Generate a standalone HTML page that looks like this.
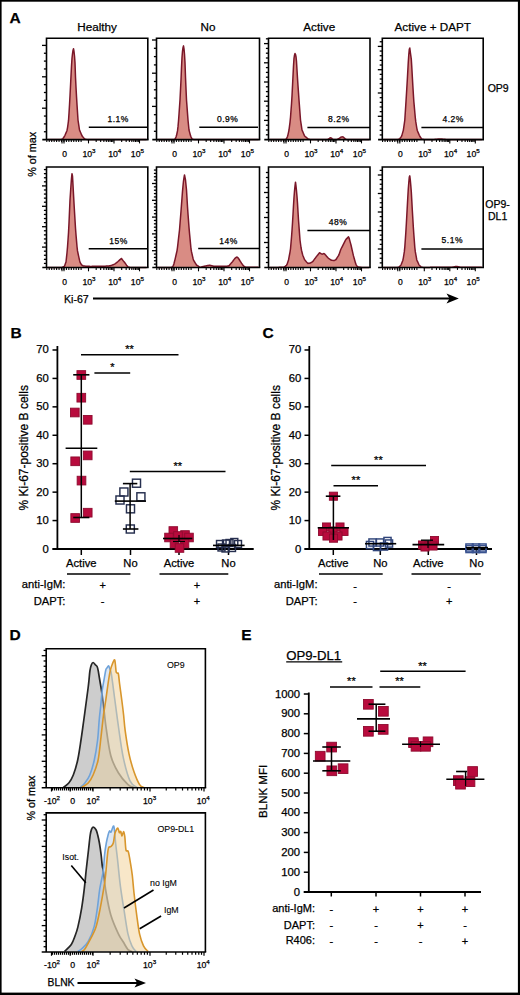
<!DOCTYPE html>
<html><head><meta charset="utf-8"><style>
html,body{margin:0;padding:0;background:#fff;}
svg{display:block;}
text{font-family:"Liberation Sans", sans-serif;fill:#000;stroke:#000;stroke-width:0.25px;}
</style></head><body>
<svg width="520" height="995" viewBox="0 0 520 995">
<rect x="0" y="0" width="520" height="995" fill="#fff"/>
<rect x="0" y="0" width="520" height="1.7" fill="#000"/>
<rect x="0" y="0" width="1.6" height="995" fill="#000"/>
<rect x="517.9" y="0" width="2.1" height="995" fill="#000"/>
<rect x="0" y="992.6" width="520" height="2.4" fill="#000"/>
<text x="9.50" y="22.60" font-size="15.5" text-anchor="start" font-weight="bold" >A</text>
<text x="10.60" y="337.60" font-size="15.5" text-anchor="start" font-weight="bold" >B</text>
<text x="262.50" y="338.20" font-size="15.5" text-anchor="start" font-weight="bold" >C</text>
<text x="9.60" y="639.60" font-size="15.5" text-anchor="start" font-weight="bold" >D</text>
<text x="241.20" y="639.60" font-size="15.5" text-anchor="start" font-weight="bold" >E</text>
<text x="97.15" y="30.90" font-size="11.7" text-anchor="middle" font-weight="normal" >Healthy</text>
<text x="208.00" y="30.90" font-size="11.7" text-anchor="middle" font-weight="normal" >No</text>
<text x="319.25" y="30.90" font-size="11.7" text-anchor="middle" font-weight="normal" >Active</text>
<text x="432.75" y="30.90" font-size="11.7" text-anchor="middle" font-weight="normal" >Active + DAPT</text>
<path d="M47.50,139.50 L48.00,139.50 L48.50,139.50 L49.00,139.50 L49.50,139.50 L50.00,139.50 L50.50,139.50 L51.00,139.50 L51.50,139.50 L52.00,139.50 L52.50,139.50 L53.00,139.50 L53.50,139.50 L54.00,139.50 L54.50,139.50 L55.00,139.50 L55.50,139.50 L56.00,139.50 L56.50,139.50 L57.00,139.50 L57.50,139.50 L58.00,139.50 L58.50,139.50 L59.00,139.50 L59.50,139.50 L60.00,139.50 L60.50,139.50 L61.00,139.38 L61.50,139.26 L62.00,139.14 L62.50,139.02 L63.00,138.43 L63.50,137.71 L64.00,137.00 L64.50,136.29 L65.00,135.28 L65.50,134.08 L66.00,132.88 L66.50,131.68 L67.00,130.48 L67.50,127.86 L68.00,124.29 L68.50,120.71 L69.00,113.33 L69.50,105.00 L70.00,96.00 L70.50,86.00 L71.00,76.00 L71.50,66.00 L72.00,58.22 L72.50,53.78 L73.00,50.37 L73.50,48.74 L74.00,51.46 L74.50,56.00 L75.00,62.86 L75.50,77.14 L76.00,87.27 L76.50,96.36 L77.00,104.62 L77.50,112.31 L78.00,120.00 L78.50,123.33 L79.00,126.67 L79.50,130.00 L80.00,131.15 L80.50,132.31 L81.00,133.46 L81.50,134.62 L82.00,135.77 L82.50,136.46 L83.00,137.04 L83.50,137.62 L84.00,138.19 L84.50,138.77 L85.00,139.07 L85.50,139.17 L86.00,139.28 L86.50,139.39 L87.00,139.50 L87.50,139.50 L88.00,139.50 L88.50,139.50 L89.00,139.50 L89.50,139.50 L90.00,139.50 L90.50,139.50 L91.00,139.50 L91.50,139.50 L92.00,139.50 L92.50,139.50 L93.00,139.50 L93.50,139.50 L94.00,139.50 L94.50,139.50 L95.00,139.50 L95.50,139.50 L96.00,139.50 L96.50,139.50 L97.00,139.50 L97.50,139.50 L98.00,139.50 L98.50,139.50 L99.00,139.50 L99.50,139.50 L100.00,139.50 L100.50,139.50 L101.00,139.50 L101.50,139.50 L102.00,139.50 L102.50,139.50 L103.00,139.50 L103.50,139.50 L104.00,139.50 L104.50,139.50 L105.00,139.50 L105.50,139.50 L106.00,139.50 L106.50,139.50 L107.00,139.50 L107.50,139.50 L108.00,139.50 L108.50,139.50 L109.00,139.50 L109.50,139.50 L110.00,139.50 L110.50,139.50 L111.00,139.50 L111.50,139.50 L112.00,139.50 L112.50,139.50 L113.00,139.50 L113.50,139.50 L114.00,139.50 L114.50,139.50 L115.00,139.50 L115.50,139.50 L116.00,139.50 L116.50,139.50 L117.00,139.50 L117.50,139.50 L118.00,139.50 L118.50,139.50 L119.00,139.50 L119.50,139.50 L120.00,139.50 L120.50,139.50 L121.00,139.50 L121.50,139.50 L122.00,139.50 L122.50,139.50 L123.00,139.50 L123.50,139.50 L124.00,139.50 L124.50,139.50 L125.00,139.50 L125.50,139.50 L126.00,139.50 L126.50,139.50 L127.00,139.50 L127.50,139.50 L128.00,139.50 L128.50,139.50 L129.00,139.50 L129.50,139.50 L130.00,139.50 L130.50,139.50 L131.00,139.50 L131.50,139.50 L132.00,139.50 L132.50,139.50 L133.00,139.50 L133.50,139.50 L134.00,139.50 L134.50,139.50 L135.00,139.50 L135.50,139.50 L136.00,139.50 L136.50,139.50 L137.00,139.50 L137.50,139.50 L138.00,139.50 L138.50,139.50 L139.00,139.50 L139.50,139.50 L140.00,139.50 L140.50,139.50 L141.00,139.50 L141.50,139.50 L142.00,139.50 L142.50,139.50 L143.00,139.50 L143.50,139.50 L144.00,139.50 L144.50,139.50 L145.00,139.50 L145.50,139.50 L146.00,139.50 L146.50,139.50 L146.80,139.60 L47.50,139.60 Z" fill="#d98c84" stroke="none"/>
<path d="M47.50,139.50 L48.00,139.50 L48.50,139.50 L49.00,139.50 L49.50,139.50 L50.00,139.50 L50.50,139.50 L51.00,139.50 L51.50,139.50 L52.00,139.50 L52.50,139.50 L53.00,139.50 L53.50,139.50 L54.00,139.50 L54.50,139.50 L55.00,139.50 L55.50,139.50 L56.00,139.50 L56.50,139.50 L57.00,139.50 L57.50,139.50 L58.00,139.50 L58.50,139.50 L59.00,139.50 L59.50,139.50 L60.00,139.50 L60.50,139.50 L61.00,139.38 L61.50,139.26 L62.00,139.14 L62.50,139.02 L63.00,138.43 L63.50,137.71 L64.00,137.00 L64.50,136.29 L65.00,135.28 L65.50,134.08 L66.00,132.88 L66.50,131.68 L67.00,130.48 L67.50,127.86 L68.00,124.29 L68.50,120.71 L69.00,113.33 L69.50,105.00 L70.00,96.00 L70.50,86.00 L71.00,76.00 L71.50,66.00 L72.00,58.22 L72.50,53.78 L73.00,50.37 L73.50,48.74 L74.00,51.46 L74.50,56.00 L75.00,62.86 L75.50,77.14 L76.00,87.27 L76.50,96.36 L77.00,104.62 L77.50,112.31 L78.00,120.00 L78.50,123.33 L79.00,126.67 L79.50,130.00 L80.00,131.15 L80.50,132.31 L81.00,133.46 L81.50,134.62 L82.00,135.77 L82.50,136.46 L83.00,137.04 L83.50,137.62 L84.00,138.19 L84.50,138.77 L85.00,139.07 L85.50,139.17 L86.00,139.28 L86.50,139.39 L87.00,139.50 L87.50,139.50 L88.00,139.50 L88.50,139.50 L89.00,139.50 L89.50,139.50 L90.00,139.50 L90.50,139.50 L91.00,139.50 L91.50,139.50 L92.00,139.50 L92.50,139.50 L93.00,139.50 L93.50,139.50 L94.00,139.50 L94.50,139.50 L95.00,139.50 L95.50,139.50 L96.00,139.50 L96.50,139.50 L97.00,139.50 L97.50,139.50 L98.00,139.50 L98.50,139.50 L99.00,139.50 L99.50,139.50 L100.00,139.50 L100.50,139.50 L101.00,139.50 L101.50,139.50 L102.00,139.50 L102.50,139.50 L103.00,139.50 L103.50,139.50 L104.00,139.50 L104.50,139.50 L105.00,139.50 L105.50,139.50 L106.00,139.50 L106.50,139.50 L107.00,139.50 L107.50,139.50 L108.00,139.50 L108.50,139.50 L109.00,139.50 L109.50,139.50 L110.00,139.50 L110.50,139.50 L111.00,139.50 L111.50,139.50 L112.00,139.50 L112.50,139.50 L113.00,139.50 L113.50,139.50 L114.00,139.50 L114.50,139.50 L115.00,139.50 L115.50,139.50 L116.00,139.50 L116.50,139.50 L117.00,139.50 L117.50,139.50 L118.00,139.50 L118.50,139.50 L119.00,139.50 L119.50,139.50 L120.00,139.50 L120.50,139.50 L121.00,139.50 L121.50,139.50 L122.00,139.50 L122.50,139.50 L123.00,139.50 L123.50,139.50 L124.00,139.50 L124.50,139.50 L125.00,139.50 L125.50,139.50 L126.00,139.50 L126.50,139.50 L127.00,139.50 L127.50,139.50 L128.00,139.50 L128.50,139.50 L129.00,139.50 L129.50,139.50 L130.00,139.50 L130.50,139.50 L131.00,139.50 L131.50,139.50 L132.00,139.50 L132.50,139.50 L133.00,139.50 L133.50,139.50 L134.00,139.50 L134.50,139.50 L135.00,139.50 L135.50,139.50 L136.00,139.50 L136.50,139.50 L137.00,139.50 L137.50,139.50 L138.00,139.50 L138.50,139.50 L139.00,139.50 L139.50,139.50 L140.00,139.50 L140.50,139.50 L141.00,139.50 L141.50,139.50 L142.00,139.50 L142.50,139.50 L143.00,139.50 L143.50,139.50 L144.00,139.50 L144.50,139.50 L145.00,139.50 L145.50,139.50 L146.00,139.50 L146.50,139.50" fill="none" stroke="#7a1729" stroke-width="1.5" stroke-linejoin="round"/>
<path d="M46.50,139.60 L46.50,38.20 L147.80,38.20 L147.80,139.60" fill="none" stroke="#000" stroke-width="1.6"/>
<line x1="42.30" y1="139.60" x2="148.60" y2="139.60" stroke="#000" stroke-width="1.6"/>
<path d="M157.50,139.50 L158.00,139.50 L158.50,139.50 L159.00,139.50 L159.50,139.50 L160.00,139.50 L160.50,139.50 L161.00,139.50 L161.50,139.50 L162.00,139.50 L162.50,139.50 L163.00,139.50 L163.50,139.50 L164.00,139.50 L164.50,139.50 L165.00,139.50 L165.50,139.50 L166.00,139.50 L166.50,139.50 L167.00,139.50 L167.50,139.50 L168.00,139.50 L168.50,139.50 L169.00,139.50 L169.50,139.50 L170.00,139.50 L170.50,139.50 L171.00,139.50 L171.50,139.50 L172.00,139.50 L172.50,139.50 L173.00,139.50 L173.50,139.50 L174.00,139.35 L174.50,139.21 L175.00,139.06 L175.50,138.25 L176.00,137.00 L176.50,135.54 L177.00,133.23 L177.50,130.92 L178.00,126.67 L178.50,121.11 L179.00,114.29 L179.50,107.14 L180.00,100.00 L180.50,90.00 L181.00,80.00 L181.50,67.50 L182.00,57.50 L182.50,51.25 L183.00,47.65 L183.50,45.89 L184.00,48.83 L184.50,54.29 L185.00,62.86 L185.50,77.14 L186.00,88.89 L186.50,100.00 L187.00,106.67 L187.50,113.33 L188.00,120.00 L188.50,125.00 L189.00,130.00 L189.50,131.88 L190.00,133.75 L190.50,135.63 L191.00,136.80 L191.50,137.80 L192.00,138.80 L192.50,139.11 L193.00,139.24 L193.50,139.37 L194.00,139.50 L194.50,139.50 L195.00,139.50 L195.50,139.50 L196.00,139.50 L196.50,139.50 L197.00,139.50 L197.50,139.50 L198.00,139.50 L198.50,139.50 L199.00,139.50 L199.50,139.50 L200.00,139.50 L200.50,139.50 L201.00,139.50 L201.50,139.50 L202.00,139.50 L202.50,139.50 L203.00,139.50 L203.50,139.50 L204.00,139.50 L204.50,139.50 L205.00,139.50 L205.50,139.50 L206.00,139.50 L206.50,139.50 L207.00,139.50 L207.50,139.50 L208.00,139.50 L208.50,139.50 L209.00,139.50 L209.50,139.50 L210.00,139.50 L210.50,139.50 L211.00,139.50 L211.50,139.50 L212.00,139.50 L212.50,139.50 L213.00,139.50 L213.50,139.50 L214.00,139.50 L214.50,139.50 L215.00,139.50 L215.50,139.50 L216.00,139.50 L216.50,139.50 L217.00,139.50 L217.50,139.50 L218.00,139.50 L218.50,139.50 L219.00,139.50 L219.50,139.50 L220.00,139.50 L220.50,139.50 L221.00,139.50 L221.50,139.50 L222.00,139.50 L222.50,139.50 L223.00,139.50 L223.50,139.50 L224.00,139.50 L224.50,139.50 L225.00,139.50 L225.50,139.50 L226.00,139.50 L226.50,139.50 L227.00,139.50 L227.50,139.50 L228.00,139.50 L228.50,139.50 L229.00,139.50 L229.50,139.50 L230.00,139.50 L230.50,139.50 L231.00,139.50 L231.50,139.50 L232.00,139.50 L232.50,139.50 L233.00,139.50 L233.50,139.50 L234.00,139.50 L234.50,139.50 L235.00,139.50 L235.50,139.50 L236.00,139.50 L236.50,139.50 L237.00,139.50 L237.50,139.50 L238.00,139.50 L238.50,139.50 L239.00,139.50 L239.50,139.50 L240.00,139.50 L240.50,139.50 L241.00,139.50 L241.50,139.50 L242.00,139.50 L242.50,139.50 L243.00,139.50 L243.50,139.50 L244.00,139.50 L244.50,139.50 L245.00,139.50 L245.50,139.50 L246.00,139.50 L246.50,139.50 L247.00,139.50 L247.50,139.50 L248.00,139.50 L248.50,139.50 L249.00,139.50 L249.50,139.50 L250.00,139.50 L250.50,139.50 L251.00,139.50 L251.50,139.50 L252.00,139.50 L252.50,139.50 L253.00,139.50 L253.50,139.50 L254.00,139.50 L254.50,139.50 L255.00,139.50 L255.50,139.50 L256.00,139.50 L256.50,139.50 L257.00,139.50 L257.50,139.50 L258.00,139.50 L258.50,139.50 L258.50,139.60 L157.50,139.60 Z" fill="#d98c84" stroke="none"/>
<path d="M157.50,139.50 L158.00,139.50 L158.50,139.50 L159.00,139.50 L159.50,139.50 L160.00,139.50 L160.50,139.50 L161.00,139.50 L161.50,139.50 L162.00,139.50 L162.50,139.50 L163.00,139.50 L163.50,139.50 L164.00,139.50 L164.50,139.50 L165.00,139.50 L165.50,139.50 L166.00,139.50 L166.50,139.50 L167.00,139.50 L167.50,139.50 L168.00,139.50 L168.50,139.50 L169.00,139.50 L169.50,139.50 L170.00,139.50 L170.50,139.50 L171.00,139.50 L171.50,139.50 L172.00,139.50 L172.50,139.50 L173.00,139.50 L173.50,139.50 L174.00,139.35 L174.50,139.21 L175.00,139.06 L175.50,138.25 L176.00,137.00 L176.50,135.54 L177.00,133.23 L177.50,130.92 L178.00,126.67 L178.50,121.11 L179.00,114.29 L179.50,107.14 L180.00,100.00 L180.50,90.00 L181.00,80.00 L181.50,67.50 L182.00,57.50 L182.50,51.25 L183.00,47.65 L183.50,45.89 L184.00,48.83 L184.50,54.29 L185.00,62.86 L185.50,77.14 L186.00,88.89 L186.50,100.00 L187.00,106.67 L187.50,113.33 L188.00,120.00 L188.50,125.00 L189.00,130.00 L189.50,131.88 L190.00,133.75 L190.50,135.63 L191.00,136.80 L191.50,137.80 L192.00,138.80 L192.50,139.11 L193.00,139.24 L193.50,139.37 L194.00,139.50 L194.50,139.50 L195.00,139.50 L195.50,139.50 L196.00,139.50 L196.50,139.50 L197.00,139.50 L197.50,139.50 L198.00,139.50 L198.50,139.50 L199.00,139.50 L199.50,139.50 L200.00,139.50 L200.50,139.50 L201.00,139.50 L201.50,139.50 L202.00,139.50 L202.50,139.50 L203.00,139.50 L203.50,139.50 L204.00,139.50 L204.50,139.50 L205.00,139.50 L205.50,139.50 L206.00,139.50 L206.50,139.50 L207.00,139.50 L207.50,139.50 L208.00,139.50 L208.50,139.50 L209.00,139.50 L209.50,139.50 L210.00,139.50 L210.50,139.50 L211.00,139.50 L211.50,139.50 L212.00,139.50 L212.50,139.50 L213.00,139.50 L213.50,139.50 L214.00,139.50 L214.50,139.50 L215.00,139.50 L215.50,139.50 L216.00,139.50 L216.50,139.50 L217.00,139.50 L217.50,139.50 L218.00,139.50 L218.50,139.50 L219.00,139.50 L219.50,139.50 L220.00,139.50 L220.50,139.50 L221.00,139.50 L221.50,139.50 L222.00,139.50 L222.50,139.50 L223.00,139.50 L223.50,139.50 L224.00,139.50 L224.50,139.50 L225.00,139.50 L225.50,139.50 L226.00,139.50 L226.50,139.50 L227.00,139.50 L227.50,139.50 L228.00,139.50 L228.50,139.50 L229.00,139.50 L229.50,139.50 L230.00,139.50 L230.50,139.50 L231.00,139.50 L231.50,139.50 L232.00,139.50 L232.50,139.50 L233.00,139.50 L233.50,139.50 L234.00,139.50 L234.50,139.50 L235.00,139.50 L235.50,139.50 L236.00,139.50 L236.50,139.50 L237.00,139.50 L237.50,139.50 L238.00,139.50 L238.50,139.50 L239.00,139.50 L239.50,139.50 L240.00,139.50 L240.50,139.50 L241.00,139.50 L241.50,139.50 L242.00,139.50 L242.50,139.50 L243.00,139.50 L243.50,139.50 L244.00,139.50 L244.50,139.50 L245.00,139.50 L245.50,139.50 L246.00,139.50 L246.50,139.50 L247.00,139.50 L247.50,139.50 L248.00,139.50 L248.50,139.50 L249.00,139.50 L249.50,139.50 L250.00,139.50 L250.50,139.50 L251.00,139.50 L251.50,139.50 L252.00,139.50 L252.50,139.50 L253.00,139.50 L253.50,139.50 L254.00,139.50 L254.50,139.50 L255.00,139.50 L255.50,139.50 L256.00,139.50 L256.50,139.50 L257.00,139.50 L257.50,139.50 L258.00,139.50 L258.50,139.50" fill="none" stroke="#7a1729" stroke-width="1.5" stroke-linejoin="round"/>
<path d="M156.50,139.60 L156.50,38.20 L259.50,38.20 L259.50,139.60" fill="none" stroke="#000" stroke-width="1.6"/>
<line x1="152.30" y1="139.60" x2="260.30" y2="139.60" stroke="#000" stroke-width="1.6"/>
<path d="M269.50,139.50 L270.00,139.50 L270.50,139.50 L271.00,139.50 L271.50,139.50 L272.00,139.50 L272.50,139.50 L273.00,139.50 L273.50,139.50 L274.00,139.50 L274.50,139.50 L275.00,139.50 L275.50,139.50 L276.00,139.50 L276.50,139.50 L277.00,139.50 L277.50,139.50 L278.00,139.50 L278.50,139.50 L279.00,139.50 L279.50,139.50 L280.00,139.50 L280.50,139.50 L281.00,139.50 L281.50,139.50 L282.00,139.50 L282.50,139.50 L283.00,139.50 L283.50,139.50 L284.00,139.50 L284.50,139.50 L285.00,139.37 L285.50,139.24 L286.00,139.11 L286.50,138.77 L287.00,137.62 L287.50,136.46 L288.00,134.62 L288.50,132.31 L289.00,130.00 L289.50,126.15 L290.00,122.31 L290.50,117.33 L291.00,110.67 L291.50,104.00 L292.00,96.00 L292.50,86.00 L293.00,76.00 L293.50,66.00 L294.00,58.40 L294.50,55.10 L295.00,53.49 L295.50,54.43 L296.00,56.67 L296.50,61.67 L297.00,70.00 L297.50,78.33 L298.00,85.71 L298.50,92.86 L299.00,100.00 L299.50,106.67 L300.00,113.33 L300.50,120.00 L301.00,123.33 L301.50,126.67 L302.00,130.00 L302.50,131.15 L303.00,132.31 L303.50,133.46 L304.00,134.62 L304.50,135.77 L305.00,136.33 L305.50,136.75 L306.00,137.17 L306.50,137.58 L307.00,138.00 L307.50,138.42 L308.00,138.83 L308.50,139.07 L309.00,139.17 L309.50,139.28 L310.00,139.39 L310.50,139.50 L311.00,139.50 L311.50,139.49 L312.00,139.49 L312.50,139.49 L313.00,139.49 L313.50,139.48 L314.00,139.48 L314.50,139.48 L315.00,139.47 L315.50,139.47 L316.00,139.47 L316.50,139.47 L317.00,139.46 L317.50,139.46 L318.00,139.46 L318.50,139.45 L319.00,139.45 L319.50,139.45 L320.00,139.45 L320.50,139.44 L321.00,139.44 L321.50,139.44 L322.00,139.43 L322.50,139.43 L323.00,139.43 L323.50,139.42 L324.00,139.42 L324.50,139.42 L325.00,139.42 L325.50,139.41 L326.00,139.41 L326.50,139.41 L327.00,139.40 L327.50,139.40 L328.00,139.29 L328.50,139.02 L329.00,138.72 L329.50,138.31 L330.00,137.95 L330.50,137.83 L331.00,137.90 L331.50,138.15 L332.00,138.56 L332.50,138.91 L333.00,139.18 L333.50,139.40 L334.00,139.40 L334.50,139.40 L335.00,139.40 L335.50,139.40 L336.00,139.40 L336.50,139.40 L337.00,139.40 L337.50,139.29 L338.00,139.03 L338.50,138.76 L339.00,138.50 L339.50,138.20 L340.00,137.84 L340.50,137.48 L341.00,137.12 L341.50,136.98 L342.00,136.87 L342.50,136.86 L343.00,137.00 L343.50,137.26 L344.00,137.71 L344.50,138.16 L345.00,138.54 L345.50,138.87 L346.00,139.20 L346.50,139.40 L347.00,139.40 L347.50,139.40 L348.00,139.40 L348.50,139.40 L349.00,139.40 L349.50,139.40 L350.00,139.40 L350.50,139.40 L351.00,139.40 L351.50,139.40 L352.00,139.40 L352.50,139.40 L353.00,139.40 L353.50,139.40 L354.00,139.40 L354.50,139.40 L355.00,139.40 L355.50,139.40 L356.00,139.40 L356.50,139.40 L357.00,139.40 L357.50,139.40 L358.00,139.40 L358.50,139.40 L359.00,139.40 L359.50,139.40 L360.00,139.40 L360.50,139.40 L361.00,139.40 L361.50,139.40 L362.00,139.40 L362.50,139.40 L363.00,139.40 L363.50,139.40 L364.00,139.40 L364.50,139.40 L365.00,139.40 L365.50,139.40 L366.00,139.40 L366.50,139.40 L367.00,139.40 L367.50,139.40 L368.00,139.40 L368.50,139.40 L369.00,139.40 L369.00,139.60 L269.50,139.60 Z" fill="#d98c84" stroke="none"/>
<path d="M269.50,139.50 L270.00,139.50 L270.50,139.50 L271.00,139.50 L271.50,139.50 L272.00,139.50 L272.50,139.50 L273.00,139.50 L273.50,139.50 L274.00,139.50 L274.50,139.50 L275.00,139.50 L275.50,139.50 L276.00,139.50 L276.50,139.50 L277.00,139.50 L277.50,139.50 L278.00,139.50 L278.50,139.50 L279.00,139.50 L279.50,139.50 L280.00,139.50 L280.50,139.50 L281.00,139.50 L281.50,139.50 L282.00,139.50 L282.50,139.50 L283.00,139.50 L283.50,139.50 L284.00,139.50 L284.50,139.50 L285.00,139.37 L285.50,139.24 L286.00,139.11 L286.50,138.77 L287.00,137.62 L287.50,136.46 L288.00,134.62 L288.50,132.31 L289.00,130.00 L289.50,126.15 L290.00,122.31 L290.50,117.33 L291.00,110.67 L291.50,104.00 L292.00,96.00 L292.50,86.00 L293.00,76.00 L293.50,66.00 L294.00,58.40 L294.50,55.10 L295.00,53.49 L295.50,54.43 L296.00,56.67 L296.50,61.67 L297.00,70.00 L297.50,78.33 L298.00,85.71 L298.50,92.86 L299.00,100.00 L299.50,106.67 L300.00,113.33 L300.50,120.00 L301.00,123.33 L301.50,126.67 L302.00,130.00 L302.50,131.15 L303.00,132.31 L303.50,133.46 L304.00,134.62 L304.50,135.77 L305.00,136.33 L305.50,136.75 L306.00,137.17 L306.50,137.58 L307.00,138.00 L307.50,138.42 L308.00,138.83 L308.50,139.07 L309.00,139.17 L309.50,139.28 L310.00,139.39 L310.50,139.50 L311.00,139.50 L311.50,139.49 L312.00,139.49 L312.50,139.49 L313.00,139.49 L313.50,139.48 L314.00,139.48 L314.50,139.48 L315.00,139.47 L315.50,139.47 L316.00,139.47 L316.50,139.47 L317.00,139.46 L317.50,139.46 L318.00,139.46 L318.50,139.45 L319.00,139.45 L319.50,139.45 L320.00,139.45 L320.50,139.44 L321.00,139.44 L321.50,139.44 L322.00,139.43 L322.50,139.43 L323.00,139.43 L323.50,139.42 L324.00,139.42 L324.50,139.42 L325.00,139.42 L325.50,139.41 L326.00,139.41 L326.50,139.41 L327.00,139.40 L327.50,139.40 L328.00,139.29 L328.50,139.02 L329.00,138.72 L329.50,138.31 L330.00,137.95 L330.50,137.83 L331.00,137.90 L331.50,138.15 L332.00,138.56 L332.50,138.91 L333.00,139.18 L333.50,139.40 L334.00,139.40 L334.50,139.40 L335.00,139.40 L335.50,139.40 L336.00,139.40 L336.50,139.40 L337.00,139.40 L337.50,139.29 L338.00,139.03 L338.50,138.76 L339.00,138.50 L339.50,138.20 L340.00,137.84 L340.50,137.48 L341.00,137.12 L341.50,136.98 L342.00,136.87 L342.50,136.86 L343.00,137.00 L343.50,137.26 L344.00,137.71 L344.50,138.16 L345.00,138.54 L345.50,138.87 L346.00,139.20 L346.50,139.40 L347.00,139.40 L347.50,139.40 L348.00,139.40 L348.50,139.40 L349.00,139.40 L349.50,139.40 L350.00,139.40 L350.50,139.40 L351.00,139.40 L351.50,139.40 L352.00,139.40 L352.50,139.40 L353.00,139.40 L353.50,139.40 L354.00,139.40 L354.50,139.40 L355.00,139.40 L355.50,139.40 L356.00,139.40 L356.50,139.40 L357.00,139.40 L357.50,139.40 L358.00,139.40 L358.50,139.40 L359.00,139.40 L359.50,139.40 L360.00,139.40 L360.50,139.40 L361.00,139.40 L361.50,139.40 L362.00,139.40 L362.50,139.40 L363.00,139.40 L363.50,139.40 L364.00,139.40 L364.50,139.40 L365.00,139.40 L365.50,139.40 L366.00,139.40 L366.50,139.40 L367.00,139.40 L367.50,139.40 L368.00,139.40 L368.50,139.40 L369.00,139.40" fill="none" stroke="#7a1729" stroke-width="1.5" stroke-linejoin="round"/>
<path d="M268.50,139.60 L268.50,38.20 L370.00,38.20 L370.00,139.60" fill="none" stroke="#000" stroke-width="1.6"/>
<line x1="264.30" y1="139.60" x2="370.80" y2="139.60" stroke="#000" stroke-width="1.6"/>
<path d="M383.30,139.50 L383.80,139.50 L384.30,139.50 L384.80,139.50 L385.30,139.50 L385.80,139.50 L386.30,139.50 L386.80,139.50 L387.30,139.50 L387.80,139.50 L388.30,139.50 L388.80,139.50 L389.30,139.50 L389.80,139.50 L390.30,139.50 L390.80,139.50 L391.30,139.50 L391.80,139.50 L392.30,139.50 L392.80,139.50 L393.30,139.50 L393.80,139.50 L394.30,139.50 L394.80,139.50 L395.30,139.50 L395.80,139.50 L396.30,139.50 L396.80,139.50 L397.30,139.50 L397.80,139.43 L398.30,139.31 L398.80,139.19 L399.30,139.07 L399.80,138.71 L400.30,138.00 L400.80,137.29 L401.30,136.57 L401.80,135.65 L402.30,133.88 L402.80,132.12 L403.30,130.35 L403.80,127.14 L404.30,123.57 L404.80,120.00 L405.30,112.31 L405.80,104.62 L406.30,96.67 L406.80,88.33 L407.30,80.00 L407.80,70.91 L408.30,61.82 L408.80,54.67 L409.30,49.20 L409.80,48.00 L410.30,52.00 L410.80,55.64 L411.30,59.27 L411.80,67.27 L412.30,76.36 L412.80,85.00 L413.30,93.33 L413.80,101.11 L414.30,106.67 L414.80,112.22 L415.30,117.78 L415.80,121.88 L416.30,125.00 L416.80,128.12 L417.30,130.48 L417.80,131.68 L418.30,132.88 L418.80,134.08 L419.30,135.28 L419.80,136.29 L420.30,137.00 L420.80,137.71 L421.30,138.43 L421.80,139.02 L422.30,139.13 L422.80,139.24 L423.30,139.35 L423.80,139.46 L424.30,139.50 L424.80,139.49 L425.30,139.49 L425.80,139.48 L426.30,139.48 L426.80,139.47 L427.30,139.47 L427.80,139.46 L428.30,139.46 L428.80,139.45 L429.30,139.45 L429.80,139.44 L430.30,139.44 L430.80,139.43 L431.30,139.43 L431.80,139.42 L432.30,139.42 L432.80,139.41 L433.30,139.41 L433.80,139.40 L434.30,139.39 L434.80,139.36 L435.30,139.34 L435.80,139.31 L436.30,139.29 L436.80,139.22 L437.30,139.15 L437.80,139.07 L438.30,139.00 L438.80,138.96 L439.30,138.93 L439.80,138.91 L440.30,138.91 L440.80,138.94 L441.30,138.96 L441.80,139.01 L442.30,139.09 L442.80,139.16 L443.30,139.24 L443.80,139.29 L444.30,139.32 L444.80,139.34 L445.30,139.37 L445.80,139.39 L446.30,139.40 L446.80,139.40 L447.30,139.40 L447.80,139.40 L448.30,139.40 L448.80,139.40 L449.30,139.40 L449.80,139.40 L450.30,139.40 L450.80,139.40 L451.30,139.40 L451.80,139.40 L452.30,139.40 L452.80,139.40 L453.30,139.40 L453.80,139.40 L454.30,139.40 L454.80,139.40 L455.30,139.40 L455.80,139.40 L456.30,139.40 L456.80,139.40 L457.30,139.40 L457.80,139.40 L458.30,139.40 L458.80,139.40 L459.30,139.40 L459.80,139.40 L460.30,139.40 L460.80,139.40 L461.30,139.40 L461.80,139.40 L462.30,139.40 L462.80,139.40 L463.30,139.40 L463.80,139.40 L464.30,139.40 L464.80,139.40 L465.30,139.40 L465.80,139.40 L466.30,139.40 L466.80,139.40 L467.30,139.40 L467.80,139.40 L468.30,139.40 L468.80,139.40 L469.30,139.40 L469.80,139.40 L470.30,139.40 L470.80,139.40 L471.30,139.40 L471.80,139.40 L472.30,139.40 L472.80,139.40 L473.30,139.40 L473.80,139.40 L474.30,139.40 L474.80,139.40 L475.30,139.40 L475.80,139.40 L476.30,139.40 L476.80,139.40 L477.30,139.40 L477.80,139.40 L478.30,139.40 L478.80,139.40 L479.30,139.40 L479.80,139.40 L480.30,139.40 L480.80,139.40 L481.30,139.40 L481.80,139.40 L482.20,139.60 L383.30,139.60 Z" fill="#d98c84" stroke="none"/>
<path d="M383.30,139.50 L383.80,139.50 L384.30,139.50 L384.80,139.50 L385.30,139.50 L385.80,139.50 L386.30,139.50 L386.80,139.50 L387.30,139.50 L387.80,139.50 L388.30,139.50 L388.80,139.50 L389.30,139.50 L389.80,139.50 L390.30,139.50 L390.80,139.50 L391.30,139.50 L391.80,139.50 L392.30,139.50 L392.80,139.50 L393.30,139.50 L393.80,139.50 L394.30,139.50 L394.80,139.50 L395.30,139.50 L395.80,139.50 L396.30,139.50 L396.80,139.50 L397.30,139.50 L397.80,139.43 L398.30,139.31 L398.80,139.19 L399.30,139.07 L399.80,138.71 L400.30,138.00 L400.80,137.29 L401.30,136.57 L401.80,135.65 L402.30,133.88 L402.80,132.12 L403.30,130.35 L403.80,127.14 L404.30,123.57 L404.80,120.00 L405.30,112.31 L405.80,104.62 L406.30,96.67 L406.80,88.33 L407.30,80.00 L407.80,70.91 L408.30,61.82 L408.80,54.67 L409.30,49.20 L409.80,48.00 L410.30,52.00 L410.80,55.64 L411.30,59.27 L411.80,67.27 L412.30,76.36 L412.80,85.00 L413.30,93.33 L413.80,101.11 L414.30,106.67 L414.80,112.22 L415.30,117.78 L415.80,121.88 L416.30,125.00 L416.80,128.12 L417.30,130.48 L417.80,131.68 L418.30,132.88 L418.80,134.08 L419.30,135.28 L419.80,136.29 L420.30,137.00 L420.80,137.71 L421.30,138.43 L421.80,139.02 L422.30,139.13 L422.80,139.24 L423.30,139.35 L423.80,139.46 L424.30,139.50 L424.80,139.49 L425.30,139.49 L425.80,139.48 L426.30,139.48 L426.80,139.47 L427.30,139.47 L427.80,139.46 L428.30,139.46 L428.80,139.45 L429.30,139.45 L429.80,139.44 L430.30,139.44 L430.80,139.43 L431.30,139.43 L431.80,139.42 L432.30,139.42 L432.80,139.41 L433.30,139.41 L433.80,139.40 L434.30,139.39 L434.80,139.36 L435.30,139.34 L435.80,139.31 L436.30,139.29 L436.80,139.22 L437.30,139.15 L437.80,139.07 L438.30,139.00 L438.80,138.96 L439.30,138.93 L439.80,138.91 L440.30,138.91 L440.80,138.94 L441.30,138.96 L441.80,139.01 L442.30,139.09 L442.80,139.16 L443.30,139.24 L443.80,139.29 L444.30,139.32 L444.80,139.34 L445.30,139.37 L445.80,139.39 L446.30,139.40 L446.80,139.40 L447.30,139.40 L447.80,139.40 L448.30,139.40 L448.80,139.40 L449.30,139.40 L449.80,139.40 L450.30,139.40 L450.80,139.40 L451.30,139.40 L451.80,139.40 L452.30,139.40 L452.80,139.40 L453.30,139.40 L453.80,139.40 L454.30,139.40 L454.80,139.40 L455.30,139.40 L455.80,139.40 L456.30,139.40 L456.80,139.40 L457.30,139.40 L457.80,139.40 L458.30,139.40 L458.80,139.40 L459.30,139.40 L459.80,139.40 L460.30,139.40 L460.80,139.40 L461.30,139.40 L461.80,139.40 L462.30,139.40 L462.80,139.40 L463.30,139.40 L463.80,139.40 L464.30,139.40 L464.80,139.40 L465.30,139.40 L465.80,139.40 L466.30,139.40 L466.80,139.40 L467.30,139.40 L467.80,139.40 L468.30,139.40 L468.80,139.40 L469.30,139.40 L469.80,139.40 L470.30,139.40 L470.80,139.40 L471.30,139.40 L471.80,139.40 L472.30,139.40 L472.80,139.40 L473.30,139.40 L473.80,139.40 L474.30,139.40 L474.80,139.40 L475.30,139.40 L475.80,139.40 L476.30,139.40 L476.80,139.40 L477.30,139.40 L477.80,139.40 L478.30,139.40 L478.80,139.40 L479.30,139.40 L479.80,139.40 L480.30,139.40 L480.80,139.40 L481.30,139.40 L481.80,139.40" fill="none" stroke="#7a1729" stroke-width="1.5" stroke-linejoin="round"/>
<path d="M382.30,139.60 L382.30,38.20 L483.20,38.20 L483.20,139.60" fill="none" stroke="#000" stroke-width="1.6"/>
<line x1="378.10" y1="139.60" x2="484.00" y2="139.60" stroke="#000" stroke-width="1.6"/>
<path d="M47.50,267.40 L48.00,267.40 L48.50,267.40 L49.00,267.40 L49.50,267.40 L50.00,267.40 L50.50,267.40 L51.00,267.40 L51.50,267.40 L52.00,267.40 L52.50,267.40 L53.00,267.40 L53.50,267.40 L54.00,267.40 L54.50,267.40 L55.00,267.40 L55.50,267.40 L56.00,267.40 L56.50,267.40 L57.00,267.40 L57.50,267.40 L58.00,267.40 L58.50,267.40 L59.00,267.40 L59.50,267.40 L60.00,267.40 L60.50,267.40 L61.00,267.40 L61.50,267.40 L62.00,267.40 L62.50,267.20 L63.00,267.01 L63.50,266.81 L64.00,266.62 L64.50,265.97 L65.00,264.65 L65.50,263.32 L66.00,262.00 L66.50,257.38 L67.00,252.77 L67.50,247.14 L68.00,240.00 L68.50,232.86 L69.00,223.08 L69.50,211.54 L70.00,200.00 L70.50,192.50 L71.00,185.00 L71.50,178.33 L72.00,173.64 L72.50,176.16 L73.00,185.00 L73.50,194.38 L74.00,203.33 L74.50,211.67 L75.00,220.00 L75.50,228.33 L76.00,234.71 L76.50,240.59 L77.00,246.47 L77.50,250.92 L78.00,253.23 L78.50,255.54 L79.00,257.85 L79.50,260.15 L80.00,262.18 L80.50,263.05 L81.00,263.93 L81.50,264.80 L82.00,265.12 L82.50,265.43 L83.00,265.75 L83.50,266.01 L84.00,266.04 L84.50,266.07 L85.00,266.10 L85.50,266.13 L86.00,266.16 L86.50,266.19 L87.00,266.22 L87.50,266.25 L88.00,266.28 L88.50,266.31 L89.00,266.34 L89.50,266.37 L90.00,266.40 L90.50,266.39 L91.00,266.39 L91.50,266.38 L92.00,266.37 L92.50,266.37 L93.00,266.36 L93.50,266.35 L94.00,266.35 L94.50,266.34 L95.00,266.33 L95.50,266.33 L96.00,266.32 L96.50,266.31 L97.00,266.31 L97.50,266.30 L98.00,266.29 L98.50,266.29 L99.00,266.28 L99.50,266.27 L100.00,266.27 L100.50,266.26 L101.00,266.25 L101.50,266.25 L102.00,266.24 L102.50,266.23 L103.00,266.23 L103.50,266.22 L104.00,266.21 L104.50,266.21 L105.00,266.20 L105.50,266.16 L106.00,266.12 L106.50,266.08 L107.00,266.05 L107.50,266.01 L108.00,265.97 L108.50,265.93 L109.00,265.89 L109.50,265.85 L110.00,265.82 L110.50,265.69 L111.00,265.51 L111.50,265.34 L112.00,265.16 L112.50,264.98 L113.00,264.80 L113.50,264.55 L114.00,264.30 L114.50,264.05 L115.00,263.80 L115.50,263.52 L116.00,263.12 L116.50,262.71 L117.00,262.31 L117.50,261.90 L118.00,261.50 L118.50,261.04 L119.00,260.59 L119.50,260.13 L120.00,259.68 L120.50,259.22 L121.00,258.76 L121.50,258.53 L122.00,259.19 L122.50,259.84 L123.00,260.50 L123.50,261.11 L124.00,261.71 L124.50,262.32 L125.00,262.95 L125.50,263.70 L126.00,264.45 L126.50,265.20 L127.00,265.76 L127.50,266.31 L128.00,266.87 L128.50,267.22 L129.00,267.28 L129.50,267.34 L130.00,267.40 L130.50,267.40 L131.00,267.40 L131.50,267.40 L132.00,267.40 L132.50,267.40 L133.00,267.40 L133.50,267.40 L134.00,267.40 L134.50,267.40 L135.00,267.40 L135.50,267.40 L136.00,267.40 L136.50,267.40 L137.00,267.40 L137.50,267.40 L138.00,267.40 L138.50,267.40 L139.00,267.40 L139.50,267.40 L140.00,267.40 L140.50,267.40 L141.00,267.40 L141.50,267.40 L142.00,267.40 L142.50,267.40 L143.00,267.40 L143.50,267.40 L144.00,267.40 L144.50,267.40 L145.00,267.40 L145.50,267.40 L146.00,267.40 L146.50,267.40 L146.80,267.50 L47.50,267.50 Z" fill="#d98c84" stroke="none"/>
<path d="M47.50,267.40 L48.00,267.40 L48.50,267.40 L49.00,267.40 L49.50,267.40 L50.00,267.40 L50.50,267.40 L51.00,267.40 L51.50,267.40 L52.00,267.40 L52.50,267.40 L53.00,267.40 L53.50,267.40 L54.00,267.40 L54.50,267.40 L55.00,267.40 L55.50,267.40 L56.00,267.40 L56.50,267.40 L57.00,267.40 L57.50,267.40 L58.00,267.40 L58.50,267.40 L59.00,267.40 L59.50,267.40 L60.00,267.40 L60.50,267.40 L61.00,267.40 L61.50,267.40 L62.00,267.40 L62.50,267.20 L63.00,267.01 L63.50,266.81 L64.00,266.62 L64.50,265.97 L65.00,264.65 L65.50,263.32 L66.00,262.00 L66.50,257.38 L67.00,252.77 L67.50,247.14 L68.00,240.00 L68.50,232.86 L69.00,223.08 L69.50,211.54 L70.00,200.00 L70.50,192.50 L71.00,185.00 L71.50,178.33 L72.00,173.64 L72.50,176.16 L73.00,185.00 L73.50,194.38 L74.00,203.33 L74.50,211.67 L75.00,220.00 L75.50,228.33 L76.00,234.71 L76.50,240.59 L77.00,246.47 L77.50,250.92 L78.00,253.23 L78.50,255.54 L79.00,257.85 L79.50,260.15 L80.00,262.18 L80.50,263.05 L81.00,263.93 L81.50,264.80 L82.00,265.12 L82.50,265.43 L83.00,265.75 L83.50,266.01 L84.00,266.04 L84.50,266.07 L85.00,266.10 L85.50,266.13 L86.00,266.16 L86.50,266.19 L87.00,266.22 L87.50,266.25 L88.00,266.28 L88.50,266.31 L89.00,266.34 L89.50,266.37 L90.00,266.40 L90.50,266.39 L91.00,266.39 L91.50,266.38 L92.00,266.37 L92.50,266.37 L93.00,266.36 L93.50,266.35 L94.00,266.35 L94.50,266.34 L95.00,266.33 L95.50,266.33 L96.00,266.32 L96.50,266.31 L97.00,266.31 L97.50,266.30 L98.00,266.29 L98.50,266.29 L99.00,266.28 L99.50,266.27 L100.00,266.27 L100.50,266.26 L101.00,266.25 L101.50,266.25 L102.00,266.24 L102.50,266.23 L103.00,266.23 L103.50,266.22 L104.00,266.21 L104.50,266.21 L105.00,266.20 L105.50,266.16 L106.00,266.12 L106.50,266.08 L107.00,266.05 L107.50,266.01 L108.00,265.97 L108.50,265.93 L109.00,265.89 L109.50,265.85 L110.00,265.82 L110.50,265.69 L111.00,265.51 L111.50,265.34 L112.00,265.16 L112.50,264.98 L113.00,264.80 L113.50,264.55 L114.00,264.30 L114.50,264.05 L115.00,263.80 L115.50,263.52 L116.00,263.12 L116.50,262.71 L117.00,262.31 L117.50,261.90 L118.00,261.50 L118.50,261.04 L119.00,260.59 L119.50,260.13 L120.00,259.68 L120.50,259.22 L121.00,258.76 L121.50,258.53 L122.00,259.19 L122.50,259.84 L123.00,260.50 L123.50,261.11 L124.00,261.71 L124.50,262.32 L125.00,262.95 L125.50,263.70 L126.00,264.45 L126.50,265.20 L127.00,265.76 L127.50,266.31 L128.00,266.87 L128.50,267.22 L129.00,267.28 L129.50,267.34 L130.00,267.40 L130.50,267.40 L131.00,267.40 L131.50,267.40 L132.00,267.40 L132.50,267.40 L133.00,267.40 L133.50,267.40 L134.00,267.40 L134.50,267.40 L135.00,267.40 L135.50,267.40 L136.00,267.40 L136.50,267.40 L137.00,267.40 L137.50,267.40 L138.00,267.40 L138.50,267.40 L139.00,267.40 L139.50,267.40 L140.00,267.40 L140.50,267.40 L141.00,267.40 L141.50,267.40 L142.00,267.40 L142.50,267.40 L143.00,267.40 L143.50,267.40 L144.00,267.40 L144.50,267.40 L145.00,267.40 L145.50,267.40 L146.00,267.40 L146.50,267.40" fill="none" stroke="#7a1729" stroke-width="1.5" stroke-linejoin="round"/>
<path d="M46.50,267.50 L46.50,167.00 L147.80,167.00 L147.80,267.50" fill="none" stroke="#000" stroke-width="1.6"/>
<line x1="42.30" y1="267.50" x2="148.60" y2="267.50" stroke="#000" stroke-width="1.6"/>
<path d="M157.50,267.40 L158.00,267.40 L158.50,267.40 L159.00,267.40 L159.50,267.40 L160.00,267.40 L160.50,267.40 L161.00,267.40 L161.50,267.40 L162.00,267.40 L162.50,267.40 L163.00,267.40 L163.50,267.40 L164.00,267.40 L164.50,267.40 L165.00,267.40 L165.50,267.40 L166.00,267.40 L166.50,267.40 L167.00,267.40 L167.50,267.40 L168.00,267.40 L168.50,267.40 L169.00,267.40 L169.50,267.40 L170.00,267.40 L170.50,267.40 L171.00,267.40 L171.50,267.27 L172.00,267.15 L172.50,267.02 L173.00,266.20 L173.50,265.20 L174.00,263.46 L174.50,261.54 L175.00,259.57 L175.50,257.39 L176.00,255.22 L176.50,253.04 L177.00,250.87 L177.50,247.39 L178.00,243.04 L178.50,238.70 L179.00,234.35 L179.50,230.00 L180.00,223.75 L180.50,217.50 L181.00,211.25 L181.50,204.67 L182.00,198.00 L182.50,191.33 L183.00,186.00 L183.50,181.00 L184.00,177.73 L184.50,174.90 L185.00,177.45 L185.50,180.00 L186.00,185.00 L186.50,190.00 L187.00,198.33 L187.50,206.67 L188.00,214.00 L188.50,220.67 L189.00,227.33 L189.50,233.16 L190.00,238.42 L190.50,243.68 L191.00,248.95 L191.50,251.74 L192.00,253.91 L192.50,256.09 L193.00,258.26 L193.50,260.16 L194.00,260.97 L194.50,261.77 L195.00,262.58 L195.50,263.39 L196.00,264.19 L196.50,265.00 L197.00,265.33 L197.50,265.65 L198.00,265.98 L198.50,266.30 L199.00,266.65 L199.50,267.02 L200.00,267.40 L200.50,267.25 L201.00,267.10 L201.50,266.95 L202.00,266.80 L202.50,266.65 L203.00,266.50 L203.50,266.40 L204.00,266.30 L204.50,266.20 L205.00,266.10 L205.50,266.00 L206.00,265.90 L206.50,265.80 L207.00,265.70 L207.50,265.60 L208.00,265.50 L208.50,265.40 L209.00,265.30 L209.50,265.20 L210.00,265.32 L210.50,265.44 L211.00,265.57 L211.50,265.69 L212.00,265.81 L212.50,265.93 L213.00,266.06 L213.50,266.18 L214.00,266.30 L214.50,266.30 L215.00,266.30 L215.50,266.30 L216.00,266.30 L216.50,266.30 L217.00,266.30 L217.50,266.30 L218.00,266.30 L218.50,266.30 L219.00,266.30 L219.50,266.30 L220.00,266.30 L220.50,266.30 L221.00,266.30 L221.50,266.30 L222.00,266.30 L222.50,266.30 L223.00,266.30 L223.50,266.30 L224.00,266.30 L224.50,266.30 L225.00,266.30 L225.50,266.26 L226.00,266.22 L226.50,266.18 L227.00,266.14 L227.50,266.10 L228.00,266.06 L228.50,266.02 L229.00,265.76 L229.50,265.17 L230.00,264.58 L230.50,263.99 L231.00,263.39 L231.50,262.80 L232.00,262.21 L232.50,261.62 L233.00,260.95 L233.50,260.27 L234.00,259.59 L234.50,258.91 L235.00,258.34 L235.50,257.94 L236.00,257.54 L236.50,257.14 L237.00,257.06 L237.50,257.45 L238.00,257.84 L238.50,258.46 L239.00,259.23 L239.50,260.00 L240.00,260.80 L240.50,261.60 L241.00,262.40 L241.50,263.20 L242.00,263.86 L242.50,264.52 L243.00,265.17 L243.50,265.78 L244.00,266.16 L244.50,266.54 L245.00,266.92 L245.50,267.30 L246.00,267.30 L246.50,267.30 L247.00,267.30 L247.50,267.30 L248.00,267.30 L248.50,267.30 L249.00,267.30 L249.50,267.30 L250.00,267.30 L250.50,267.30 L251.00,267.30 L251.50,267.30 L252.00,267.30 L252.50,267.30 L253.00,267.30 L253.50,267.30 L254.00,267.30 L254.50,267.30 L255.00,267.30 L255.50,267.30 L256.00,267.30 L256.50,267.30 L257.00,267.30 L257.50,267.30 L258.00,267.30 L258.50,267.30 L258.50,267.50 L157.50,267.50 Z" fill="#d98c84" stroke="none"/>
<path d="M157.50,267.40 L158.00,267.40 L158.50,267.40 L159.00,267.40 L159.50,267.40 L160.00,267.40 L160.50,267.40 L161.00,267.40 L161.50,267.40 L162.00,267.40 L162.50,267.40 L163.00,267.40 L163.50,267.40 L164.00,267.40 L164.50,267.40 L165.00,267.40 L165.50,267.40 L166.00,267.40 L166.50,267.40 L167.00,267.40 L167.50,267.40 L168.00,267.40 L168.50,267.40 L169.00,267.40 L169.50,267.40 L170.00,267.40 L170.50,267.40 L171.00,267.40 L171.50,267.27 L172.00,267.15 L172.50,267.02 L173.00,266.20 L173.50,265.20 L174.00,263.46 L174.50,261.54 L175.00,259.57 L175.50,257.39 L176.00,255.22 L176.50,253.04 L177.00,250.87 L177.50,247.39 L178.00,243.04 L178.50,238.70 L179.00,234.35 L179.50,230.00 L180.00,223.75 L180.50,217.50 L181.00,211.25 L181.50,204.67 L182.00,198.00 L182.50,191.33 L183.00,186.00 L183.50,181.00 L184.00,177.73 L184.50,174.90 L185.00,177.45 L185.50,180.00 L186.00,185.00 L186.50,190.00 L187.00,198.33 L187.50,206.67 L188.00,214.00 L188.50,220.67 L189.00,227.33 L189.50,233.16 L190.00,238.42 L190.50,243.68 L191.00,248.95 L191.50,251.74 L192.00,253.91 L192.50,256.09 L193.00,258.26 L193.50,260.16 L194.00,260.97 L194.50,261.77 L195.00,262.58 L195.50,263.39 L196.00,264.19 L196.50,265.00 L197.00,265.33 L197.50,265.65 L198.00,265.98 L198.50,266.30 L199.00,266.65 L199.50,267.02 L200.00,267.40 L200.50,267.25 L201.00,267.10 L201.50,266.95 L202.00,266.80 L202.50,266.65 L203.00,266.50 L203.50,266.40 L204.00,266.30 L204.50,266.20 L205.00,266.10 L205.50,266.00 L206.00,265.90 L206.50,265.80 L207.00,265.70 L207.50,265.60 L208.00,265.50 L208.50,265.40 L209.00,265.30 L209.50,265.20 L210.00,265.32 L210.50,265.44 L211.00,265.57 L211.50,265.69 L212.00,265.81 L212.50,265.93 L213.00,266.06 L213.50,266.18 L214.00,266.30 L214.50,266.30 L215.00,266.30 L215.50,266.30 L216.00,266.30 L216.50,266.30 L217.00,266.30 L217.50,266.30 L218.00,266.30 L218.50,266.30 L219.00,266.30 L219.50,266.30 L220.00,266.30 L220.50,266.30 L221.00,266.30 L221.50,266.30 L222.00,266.30 L222.50,266.30 L223.00,266.30 L223.50,266.30 L224.00,266.30 L224.50,266.30 L225.00,266.30 L225.50,266.26 L226.00,266.22 L226.50,266.18 L227.00,266.14 L227.50,266.10 L228.00,266.06 L228.50,266.02 L229.00,265.76 L229.50,265.17 L230.00,264.58 L230.50,263.99 L231.00,263.39 L231.50,262.80 L232.00,262.21 L232.50,261.62 L233.00,260.95 L233.50,260.27 L234.00,259.59 L234.50,258.91 L235.00,258.34 L235.50,257.94 L236.00,257.54 L236.50,257.14 L237.00,257.06 L237.50,257.45 L238.00,257.84 L238.50,258.46 L239.00,259.23 L239.50,260.00 L240.00,260.80 L240.50,261.60 L241.00,262.40 L241.50,263.20 L242.00,263.86 L242.50,264.52 L243.00,265.17 L243.50,265.78 L244.00,266.16 L244.50,266.54 L245.00,266.92 L245.50,267.30 L246.00,267.30 L246.50,267.30 L247.00,267.30 L247.50,267.30 L248.00,267.30 L248.50,267.30 L249.00,267.30 L249.50,267.30 L250.00,267.30 L250.50,267.30 L251.00,267.30 L251.50,267.30 L252.00,267.30 L252.50,267.30 L253.00,267.30 L253.50,267.30 L254.00,267.30 L254.50,267.30 L255.00,267.30 L255.50,267.30 L256.00,267.30 L256.50,267.30 L257.00,267.30 L257.50,267.30 L258.00,267.30 L258.50,267.30" fill="none" stroke="#7a1729" stroke-width="1.5" stroke-linejoin="round"/>
<path d="M156.50,267.50 L156.50,167.00 L259.50,167.00 L259.50,267.50" fill="none" stroke="#000" stroke-width="1.6"/>
<line x1="152.30" y1="267.50" x2="260.30" y2="267.50" stroke="#000" stroke-width="1.6"/>
<path d="M269.50,267.50 L270.00,267.49 L270.50,267.49 L271.00,267.48 L271.50,267.47 L272.00,267.47 L272.50,267.46 L273.00,267.45 L273.50,267.44 L274.00,267.44 L274.50,267.43 L275.00,267.42 L275.50,267.42 L276.00,267.41 L276.50,267.40 L277.00,267.40 L277.50,267.39 L278.00,267.38 L278.50,267.38 L279.00,267.37 L279.50,267.36 L280.00,267.36 L280.50,267.35 L281.00,267.34 L281.50,267.33 L282.00,267.33 L282.50,267.32 L283.00,267.31 L283.50,267.31 L284.00,267.30 L284.50,266.89 L285.00,266.48 L285.50,266.07 L286.00,265.66 L286.50,265.25 L287.00,264.41 L287.50,262.94 L288.00,261.47 L288.50,260.00 L289.00,257.37 L289.50,254.74 L290.00,252.11 L290.50,248.85 L291.00,243.08 L291.50,237.31 L292.00,230.50 L292.50,223.00 L293.00,214.55 L293.50,205.45 L294.00,197.44 L294.50,191.06 L295.00,186.14 L295.50,182.20 L296.00,186.14 L296.50,190.80 L297.00,196.55 L297.50,203.33 L298.00,211.67 L298.50,220.00 L299.00,226.67 L299.50,233.33 L300.00,240.00 L300.50,243.75 L301.00,247.50 L301.50,250.20 L302.00,252.20 L302.50,254.20 L303.00,255.75 L303.50,257.00 L304.00,258.25 L304.50,259.50 L305.00,260.12 L305.50,260.75 L306.00,261.38 L306.50,262.00 L307.00,262.47 L307.50,262.93 L308.00,263.40 L308.50,263.32 L309.00,263.24 L309.50,263.16 L310.00,263.08 L310.50,263.00 L311.00,262.68 L311.50,262.36 L312.00,262.05 L312.50,261.73 L313.00,261.20 L313.50,260.53 L314.00,259.86 L314.50,259.18 L315.00,258.51 L315.50,257.84 L316.00,257.17 L316.50,256.50 L317.00,255.89 L317.50,255.27 L318.00,254.66 L318.50,254.05 L319.00,253.44 L319.50,252.82 L320.00,252.96 L320.50,253.29 L321.00,253.61 L321.50,253.94 L322.00,254.17 L322.50,254.02 L323.00,253.87 L323.50,253.71 L324.00,253.56 L324.50,253.85 L325.00,254.42 L325.50,255.00 L326.00,255.58 L326.50,256.15 L327.00,256.73 L327.50,257.31 L328.00,257.88 L328.50,258.28 L329.00,258.64 L329.50,258.99 L330.00,259.35 L330.50,259.70 L331.00,260.06 L331.50,260.24 L332.00,260.31 L332.50,260.37 L333.00,260.44 L333.50,260.51 L334.00,260.57 L334.50,260.42 L335.00,260.11 L335.50,259.81 L336.00,259.50 L336.50,258.73 L337.00,257.96 L337.50,257.20 L338.00,256.43 L338.50,255.66 L339.00,254.62 L339.50,253.17 L340.00,251.72 L340.50,250.27 L341.00,249.01 L341.50,248.03 L342.00,247.06 L342.50,246.08 L343.00,245.10 L343.50,244.10 L344.00,243.10 L344.50,242.11 L345.00,241.15 L345.50,240.18 L346.00,239.40 L346.50,238.90 L347.00,238.40 L347.50,237.90 L348.00,237.40 L348.50,236.90 L349.00,237.78 L349.50,239.57 L350.00,241.37 L350.50,243.16 L351.00,245.04 L351.50,247.25 L352.00,249.46 L352.50,251.67 L353.00,253.87 L353.50,255.92 L354.00,257.71 L354.50,259.50 L355.00,261.29 L355.50,263.08 L356.00,264.36 L356.50,265.30 L357.00,266.24 L357.50,266.83 L358.00,266.90 L358.50,266.98 L359.00,267.05 L359.50,267.13 L360.00,267.20 L360.50,267.28 L361.00,267.35 L361.50,267.43 L362.00,267.50 L362.50,267.50 L363.00,267.50 L363.50,267.50 L364.00,267.50 L364.50,267.50 L365.00,267.50 L365.50,267.50 L366.00,267.50 L366.50,267.50 L367.00,267.50 L367.50,267.50 L368.00,267.50 L368.50,267.50 L369.00,267.50 L369.00,267.50 L269.50,267.50 Z" fill="#d98c84" stroke="none"/>
<path d="M269.50,267.50 L270.00,267.49 L270.50,267.49 L271.00,267.48 L271.50,267.47 L272.00,267.47 L272.50,267.46 L273.00,267.45 L273.50,267.44 L274.00,267.44 L274.50,267.43 L275.00,267.42 L275.50,267.42 L276.00,267.41 L276.50,267.40 L277.00,267.40 L277.50,267.39 L278.00,267.38 L278.50,267.38 L279.00,267.37 L279.50,267.36 L280.00,267.36 L280.50,267.35 L281.00,267.34 L281.50,267.33 L282.00,267.33 L282.50,267.32 L283.00,267.31 L283.50,267.31 L284.00,267.30 L284.50,266.89 L285.00,266.48 L285.50,266.07 L286.00,265.66 L286.50,265.25 L287.00,264.41 L287.50,262.94 L288.00,261.47 L288.50,260.00 L289.00,257.37 L289.50,254.74 L290.00,252.11 L290.50,248.85 L291.00,243.08 L291.50,237.31 L292.00,230.50 L292.50,223.00 L293.00,214.55 L293.50,205.45 L294.00,197.44 L294.50,191.06 L295.00,186.14 L295.50,182.20 L296.00,186.14 L296.50,190.80 L297.00,196.55 L297.50,203.33 L298.00,211.67 L298.50,220.00 L299.00,226.67 L299.50,233.33 L300.00,240.00 L300.50,243.75 L301.00,247.50 L301.50,250.20 L302.00,252.20 L302.50,254.20 L303.00,255.75 L303.50,257.00 L304.00,258.25 L304.50,259.50 L305.00,260.12 L305.50,260.75 L306.00,261.38 L306.50,262.00 L307.00,262.47 L307.50,262.93 L308.00,263.40 L308.50,263.32 L309.00,263.24 L309.50,263.16 L310.00,263.08 L310.50,263.00 L311.00,262.68 L311.50,262.36 L312.00,262.05 L312.50,261.73 L313.00,261.20 L313.50,260.53 L314.00,259.86 L314.50,259.18 L315.00,258.51 L315.50,257.84 L316.00,257.17 L316.50,256.50 L317.00,255.89 L317.50,255.27 L318.00,254.66 L318.50,254.05 L319.00,253.44 L319.50,252.82 L320.00,252.96 L320.50,253.29 L321.00,253.61 L321.50,253.94 L322.00,254.17 L322.50,254.02 L323.00,253.87 L323.50,253.71 L324.00,253.56 L324.50,253.85 L325.00,254.42 L325.50,255.00 L326.00,255.58 L326.50,256.15 L327.00,256.73 L327.50,257.31 L328.00,257.88 L328.50,258.28 L329.00,258.64 L329.50,258.99 L330.00,259.35 L330.50,259.70 L331.00,260.06 L331.50,260.24 L332.00,260.31 L332.50,260.37 L333.00,260.44 L333.50,260.51 L334.00,260.57 L334.50,260.42 L335.00,260.11 L335.50,259.81 L336.00,259.50 L336.50,258.73 L337.00,257.96 L337.50,257.20 L338.00,256.43 L338.50,255.66 L339.00,254.62 L339.50,253.17 L340.00,251.72 L340.50,250.27 L341.00,249.01 L341.50,248.03 L342.00,247.06 L342.50,246.08 L343.00,245.10 L343.50,244.10 L344.00,243.10 L344.50,242.11 L345.00,241.15 L345.50,240.18 L346.00,239.40 L346.50,238.90 L347.00,238.40 L347.50,237.90 L348.00,237.40 L348.50,236.90 L349.00,237.78 L349.50,239.57 L350.00,241.37 L350.50,243.16 L351.00,245.04 L351.50,247.25 L352.00,249.46 L352.50,251.67 L353.00,253.87 L353.50,255.92 L354.00,257.71 L354.50,259.50 L355.00,261.29 L355.50,263.08 L356.00,264.36 L356.50,265.30 L357.00,266.24 L357.50,266.83 L358.00,266.90 L358.50,266.98 L359.00,267.05 L359.50,267.13 L360.00,267.20 L360.50,267.28 L361.00,267.35 L361.50,267.43 L362.00,267.50 L362.50,267.50 L363.00,267.50 L363.50,267.50 L364.00,267.50 L364.50,267.50 L365.00,267.50 L365.50,267.50 L366.00,267.50 L366.50,267.50 L367.00,267.50 L367.50,267.50 L368.00,267.50 L368.50,267.50 L369.00,267.50" fill="none" stroke="#7a1729" stroke-width="1.5" stroke-linejoin="round"/>
<path d="M268.50,267.50 L268.50,167.00 L370.00,167.00 L370.00,267.50" fill="none" stroke="#000" stroke-width="1.6"/>
<line x1="264.30" y1="267.50" x2="370.80" y2="267.50" stroke="#000" stroke-width="1.6"/>
<path d="M383.30,267.40 L383.80,267.40 L384.30,267.40 L384.80,267.40 L385.30,267.40 L385.80,267.40 L386.30,267.40 L386.80,267.40 L387.30,267.40 L387.80,267.40 L388.30,267.40 L388.80,267.40 L389.30,267.40 L389.80,267.40 L390.30,267.40 L390.80,267.40 L391.30,267.40 L391.80,267.40 L392.30,267.40 L392.80,267.40 L393.30,267.40 L393.80,267.40 L394.30,267.40 L394.80,267.40 L395.30,267.40 L395.80,267.40 L396.30,267.40 L396.80,267.40 L397.30,267.40 L397.80,267.32 L398.30,267.20 L398.80,267.07 L399.30,266.79 L399.80,266.26 L400.30,265.74 L400.80,265.21 L401.30,264.25 L401.80,263.00 L402.30,261.75 L402.80,260.50 L403.30,258.12 L403.80,255.00 L404.30,251.88 L404.80,247.14 L405.30,240.00 L405.80,232.86 L406.30,224.55 L406.80,215.45 L407.30,206.36 L407.80,197.27 L408.30,188.75 L408.80,182.50 L409.30,177.10 L409.80,175.86 L410.30,180.00 L410.80,185.56 L411.30,191.82 L411.80,200.91 L412.30,210.00 L412.80,218.33 L413.30,226.67 L413.80,234.00 L414.30,240.67 L414.80,247.33 L415.30,251.67 L415.80,254.44 L416.30,257.22 L416.80,260.00 L417.30,261.09 L417.80,262.17 L418.30,263.26 L418.80,264.35 L419.30,265.19 L419.80,265.67 L420.30,266.14 L420.80,266.62 L421.30,267.02 L421.80,267.13 L422.30,267.24 L422.80,267.36 L423.30,267.40 L423.80,267.40 L424.30,267.40 L424.80,267.39 L425.30,267.39 L425.80,267.39 L426.30,267.39 L426.80,267.39 L427.30,267.38 L427.80,267.38 L428.30,267.38 L428.80,267.38 L429.30,267.38 L429.80,267.38 L430.30,267.37 L430.80,267.37 L431.30,267.37 L431.80,267.37 L432.30,267.37 L432.80,267.37 L433.30,267.36 L433.80,267.36 L434.30,267.36 L434.80,267.36 L435.30,267.36 L435.80,267.35 L436.30,267.35 L436.80,267.35 L437.30,267.35 L437.80,267.35 L438.30,267.35 L438.80,267.34 L439.30,267.34 L439.80,267.34 L440.30,267.34 L440.80,267.34 L441.30,267.34 L441.80,267.33 L442.30,267.33 L442.80,267.33 L443.30,267.33 L443.80,267.33 L444.30,267.32 L444.80,267.32 L445.30,267.32 L445.80,267.32 L446.30,267.32 L446.80,267.32 L447.30,267.31 L447.80,267.31 L448.30,267.31 L448.80,267.31 L449.30,267.31 L449.80,267.31 L450.30,267.30 L450.80,267.30 L451.30,267.30 L451.80,267.24 L452.30,267.18 L452.80,267.11 L453.30,267.05 L453.80,266.92 L454.30,266.79 L454.80,266.66 L455.30,266.58 L455.80,266.54 L456.30,266.50 L456.80,266.54 L457.30,266.58 L457.80,266.66 L458.30,266.79 L458.80,266.92 L459.30,267.05 L459.80,267.11 L460.30,267.18 L460.80,267.24 L461.30,267.30 L461.80,267.30 L462.30,267.30 L462.80,267.30 L463.30,267.30 L463.80,267.30 L464.30,267.30 L464.80,267.30 L465.30,267.30 L465.80,267.30 L466.30,267.30 L466.80,267.30 L467.30,267.30 L467.80,267.30 L468.30,267.30 L468.80,267.30 L469.30,267.30 L469.80,267.30 L470.30,267.30 L470.80,267.30 L471.30,267.30 L471.80,267.30 L472.30,267.30 L472.80,267.30 L473.30,267.30 L473.80,267.30 L474.30,267.30 L474.80,267.30 L475.30,267.30 L475.80,267.30 L476.30,267.30 L476.80,267.30 L477.30,267.30 L477.80,267.30 L478.30,267.30 L478.80,267.30 L479.30,267.30 L479.80,267.30 L480.30,267.30 L480.80,267.30 L481.30,267.30 L481.80,267.30 L482.20,267.50 L383.30,267.50 Z" fill="#d98c84" stroke="none"/>
<path d="M383.30,267.40 L383.80,267.40 L384.30,267.40 L384.80,267.40 L385.30,267.40 L385.80,267.40 L386.30,267.40 L386.80,267.40 L387.30,267.40 L387.80,267.40 L388.30,267.40 L388.80,267.40 L389.30,267.40 L389.80,267.40 L390.30,267.40 L390.80,267.40 L391.30,267.40 L391.80,267.40 L392.30,267.40 L392.80,267.40 L393.30,267.40 L393.80,267.40 L394.30,267.40 L394.80,267.40 L395.30,267.40 L395.80,267.40 L396.30,267.40 L396.80,267.40 L397.30,267.40 L397.80,267.32 L398.30,267.20 L398.80,267.07 L399.30,266.79 L399.80,266.26 L400.30,265.74 L400.80,265.21 L401.30,264.25 L401.80,263.00 L402.30,261.75 L402.80,260.50 L403.30,258.12 L403.80,255.00 L404.30,251.88 L404.80,247.14 L405.30,240.00 L405.80,232.86 L406.30,224.55 L406.80,215.45 L407.30,206.36 L407.80,197.27 L408.30,188.75 L408.80,182.50 L409.30,177.10 L409.80,175.86 L410.30,180.00 L410.80,185.56 L411.30,191.82 L411.80,200.91 L412.30,210.00 L412.80,218.33 L413.30,226.67 L413.80,234.00 L414.30,240.67 L414.80,247.33 L415.30,251.67 L415.80,254.44 L416.30,257.22 L416.80,260.00 L417.30,261.09 L417.80,262.17 L418.30,263.26 L418.80,264.35 L419.30,265.19 L419.80,265.67 L420.30,266.14 L420.80,266.62 L421.30,267.02 L421.80,267.13 L422.30,267.24 L422.80,267.36 L423.30,267.40 L423.80,267.40 L424.30,267.40 L424.80,267.39 L425.30,267.39 L425.80,267.39 L426.30,267.39 L426.80,267.39 L427.30,267.38 L427.80,267.38 L428.30,267.38 L428.80,267.38 L429.30,267.38 L429.80,267.38 L430.30,267.37 L430.80,267.37 L431.30,267.37 L431.80,267.37 L432.30,267.37 L432.80,267.37 L433.30,267.36 L433.80,267.36 L434.30,267.36 L434.80,267.36 L435.30,267.36 L435.80,267.35 L436.30,267.35 L436.80,267.35 L437.30,267.35 L437.80,267.35 L438.30,267.35 L438.80,267.34 L439.30,267.34 L439.80,267.34 L440.30,267.34 L440.80,267.34 L441.30,267.34 L441.80,267.33 L442.30,267.33 L442.80,267.33 L443.30,267.33 L443.80,267.33 L444.30,267.32 L444.80,267.32 L445.30,267.32 L445.80,267.32 L446.30,267.32 L446.80,267.32 L447.30,267.31 L447.80,267.31 L448.30,267.31 L448.80,267.31 L449.30,267.31 L449.80,267.31 L450.30,267.30 L450.80,267.30 L451.30,267.30 L451.80,267.24 L452.30,267.18 L452.80,267.11 L453.30,267.05 L453.80,266.92 L454.30,266.79 L454.80,266.66 L455.30,266.58 L455.80,266.54 L456.30,266.50 L456.80,266.54 L457.30,266.58 L457.80,266.66 L458.30,266.79 L458.80,266.92 L459.30,267.05 L459.80,267.11 L460.30,267.18 L460.80,267.24 L461.30,267.30 L461.80,267.30 L462.30,267.30 L462.80,267.30 L463.30,267.30 L463.80,267.30 L464.30,267.30 L464.80,267.30 L465.30,267.30 L465.80,267.30 L466.30,267.30 L466.80,267.30 L467.30,267.30 L467.80,267.30 L468.30,267.30 L468.80,267.30 L469.30,267.30 L469.80,267.30 L470.30,267.30 L470.80,267.30 L471.30,267.30 L471.80,267.30 L472.30,267.30 L472.80,267.30 L473.30,267.30 L473.80,267.30 L474.30,267.30 L474.80,267.30 L475.30,267.30 L475.80,267.30 L476.30,267.30 L476.80,267.30 L477.30,267.30 L477.80,267.30 L478.30,267.30 L478.80,267.30 L479.30,267.30 L479.80,267.30 L480.30,267.30 L480.80,267.30 L481.30,267.30 L481.80,267.30" fill="none" stroke="#7a1729" stroke-width="1.5" stroke-linejoin="round"/>
<path d="M382.30,267.50 L382.30,167.00 L483.20,167.00 L483.20,267.50" fill="none" stroke="#000" stroke-width="1.6"/>
<line x1="378.10" y1="267.50" x2="484.00" y2="267.50" stroke="#000" stroke-width="1.6"/>
<line x1="43.90" y1="131.75" x2="46.50" y2="131.75" stroke="#000" stroke-width="1.3"/>
<line x1="43.90" y1="123.90" x2="46.50" y2="123.90" stroke="#000" stroke-width="1.3"/>
<line x1="43.90" y1="116.05" x2="46.50" y2="116.05" stroke="#000" stroke-width="1.3"/>
<line x1="42.00" y1="108.20" x2="46.50" y2="108.20" stroke="#000" stroke-width="1.3"/>
<line x1="43.90" y1="100.35" x2="46.50" y2="100.35" stroke="#000" stroke-width="1.3"/>
<line x1="43.90" y1="92.50" x2="46.50" y2="92.50" stroke="#000" stroke-width="1.3"/>
<line x1="43.90" y1="84.65" x2="46.50" y2="84.65" stroke="#000" stroke-width="1.3"/>
<line x1="42.00" y1="76.80" x2="46.50" y2="76.80" stroke="#000" stroke-width="1.3"/>
<line x1="43.90" y1="68.95" x2="46.50" y2="68.95" stroke="#000" stroke-width="1.3"/>
<line x1="43.90" y1="61.10" x2="46.50" y2="61.10" stroke="#000" stroke-width="1.3"/>
<line x1="43.90" y1="53.25" x2="46.50" y2="53.25" stroke="#000" stroke-width="1.3"/>
<line x1="42.00" y1="45.40" x2="46.50" y2="45.40" stroke="#000" stroke-width="1.3"/>
<line x1="153.90" y1="131.30" x2="156.50" y2="131.30" stroke="#000" stroke-width="1.3"/>
<line x1="153.90" y1="123.00" x2="156.50" y2="123.00" stroke="#000" stroke-width="1.3"/>
<line x1="153.90" y1="114.70" x2="156.50" y2="114.70" stroke="#000" stroke-width="1.3"/>
<line x1="152.00" y1="106.40" x2="156.50" y2="106.40" stroke="#000" stroke-width="1.3"/>
<line x1="153.90" y1="98.10" x2="156.50" y2="98.10" stroke="#000" stroke-width="1.3"/>
<line x1="153.90" y1="89.80" x2="156.50" y2="89.80" stroke="#000" stroke-width="1.3"/>
<line x1="153.90" y1="81.50" x2="156.50" y2="81.50" stroke="#000" stroke-width="1.3"/>
<line x1="152.00" y1="73.20" x2="156.50" y2="73.20" stroke="#000" stroke-width="1.3"/>
<line x1="153.90" y1="64.90" x2="156.50" y2="64.90" stroke="#000" stroke-width="1.3"/>
<line x1="153.90" y1="56.60" x2="156.50" y2="56.60" stroke="#000" stroke-width="1.3"/>
<line x1="153.90" y1="48.30" x2="156.50" y2="48.30" stroke="#000" stroke-width="1.3"/>
<line x1="152.00" y1="40.00" x2="156.50" y2="40.00" stroke="#000" stroke-width="1.3"/>
<line x1="265.90" y1="134.80" x2="268.50" y2="134.80" stroke="#000" stroke-width="1.3"/>
<line x1="265.90" y1="130.00" x2="268.50" y2="130.00" stroke="#000" stroke-width="1.3"/>
<line x1="265.90" y1="125.20" x2="268.50" y2="125.20" stroke="#000" stroke-width="1.3"/>
<line x1="264.00" y1="120.40" x2="268.50" y2="120.40" stroke="#000" stroke-width="1.3"/>
<line x1="265.90" y1="115.60" x2="268.50" y2="115.60" stroke="#000" stroke-width="1.3"/>
<line x1="265.90" y1="110.80" x2="268.50" y2="110.80" stroke="#000" stroke-width="1.3"/>
<line x1="265.90" y1="106.00" x2="268.50" y2="106.00" stroke="#000" stroke-width="1.3"/>
<line x1="264.00" y1="101.20" x2="268.50" y2="101.20" stroke="#000" stroke-width="1.3"/>
<line x1="265.90" y1="96.40" x2="268.50" y2="96.40" stroke="#000" stroke-width="1.3"/>
<line x1="265.90" y1="91.60" x2="268.50" y2="91.60" stroke="#000" stroke-width="1.3"/>
<line x1="265.90" y1="86.80" x2="268.50" y2="86.80" stroke="#000" stroke-width="1.3"/>
<line x1="264.00" y1="82.00" x2="268.50" y2="82.00" stroke="#000" stroke-width="1.3"/>
<line x1="265.90" y1="77.20" x2="268.50" y2="77.20" stroke="#000" stroke-width="1.3"/>
<line x1="265.90" y1="72.40" x2="268.50" y2="72.40" stroke="#000" stroke-width="1.3"/>
<line x1="265.90" y1="67.60" x2="268.50" y2="67.60" stroke="#000" stroke-width="1.3"/>
<line x1="264.00" y1="62.80" x2="268.50" y2="62.80" stroke="#000" stroke-width="1.3"/>
<line x1="265.90" y1="58.00" x2="268.50" y2="58.00" stroke="#000" stroke-width="1.3"/>
<line x1="265.90" y1="53.20" x2="268.50" y2="53.20" stroke="#000" stroke-width="1.3"/>
<line x1="265.90" y1="48.40" x2="268.50" y2="48.40" stroke="#000" stroke-width="1.3"/>
<line x1="264.00" y1="43.60" x2="268.50" y2="43.60" stroke="#000" stroke-width="1.3"/>
<line x1="265.90" y1="38.80" x2="268.50" y2="38.80" stroke="#000" stroke-width="1.3"/>
<line x1="379.70" y1="134.94" x2="382.30" y2="134.94" stroke="#000" stroke-width="1.3"/>
<line x1="379.70" y1="130.28" x2="382.30" y2="130.28" stroke="#000" stroke-width="1.3"/>
<line x1="379.70" y1="125.62" x2="382.30" y2="125.62" stroke="#000" stroke-width="1.3"/>
<line x1="379.70" y1="120.96" x2="382.30" y2="120.96" stroke="#000" stroke-width="1.3"/>
<line x1="377.80" y1="116.30" x2="382.30" y2="116.30" stroke="#000" stroke-width="1.3"/>
<line x1="379.70" y1="111.64" x2="382.30" y2="111.64" stroke="#000" stroke-width="1.3"/>
<line x1="379.70" y1="106.98" x2="382.30" y2="106.98" stroke="#000" stroke-width="1.3"/>
<line x1="379.70" y1="102.32" x2="382.30" y2="102.32" stroke="#000" stroke-width="1.3"/>
<line x1="379.70" y1="97.66" x2="382.30" y2="97.66" stroke="#000" stroke-width="1.3"/>
<line x1="377.80" y1="93.00" x2="382.30" y2="93.00" stroke="#000" stroke-width="1.3"/>
<line x1="379.70" y1="88.34" x2="382.30" y2="88.34" stroke="#000" stroke-width="1.3"/>
<line x1="379.70" y1="83.68" x2="382.30" y2="83.68" stroke="#000" stroke-width="1.3"/>
<line x1="379.70" y1="79.02" x2="382.30" y2="79.02" stroke="#000" stroke-width="1.3"/>
<line x1="379.70" y1="74.36" x2="382.30" y2="74.36" stroke="#000" stroke-width="1.3"/>
<line x1="377.80" y1="69.70" x2="382.30" y2="69.70" stroke="#000" stroke-width="1.3"/>
<line x1="379.70" y1="65.04" x2="382.30" y2="65.04" stroke="#000" stroke-width="1.3"/>
<line x1="379.70" y1="60.38" x2="382.30" y2="60.38" stroke="#000" stroke-width="1.3"/>
<line x1="379.70" y1="55.72" x2="382.30" y2="55.72" stroke="#000" stroke-width="1.3"/>
<line x1="379.70" y1="51.06" x2="382.30" y2="51.06" stroke="#000" stroke-width="1.3"/>
<line x1="377.80" y1="46.40" x2="382.30" y2="46.40" stroke="#000" stroke-width="1.3"/>
<line x1="379.70" y1="41.74" x2="382.30" y2="41.74" stroke="#000" stroke-width="1.3"/>
<line x1="43.90" y1="263.42" x2="46.50" y2="263.42" stroke="#000" stroke-width="1.3"/>
<line x1="43.90" y1="259.34" x2="46.50" y2="259.34" stroke="#000" stroke-width="1.3"/>
<line x1="43.90" y1="255.26" x2="46.50" y2="255.26" stroke="#000" stroke-width="1.3"/>
<line x1="43.90" y1="251.18" x2="46.50" y2="251.18" stroke="#000" stroke-width="1.3"/>
<line x1="42.00" y1="247.10" x2="46.50" y2="247.10" stroke="#000" stroke-width="1.3"/>
<line x1="43.90" y1="243.02" x2="46.50" y2="243.02" stroke="#000" stroke-width="1.3"/>
<line x1="43.90" y1="238.94" x2="46.50" y2="238.94" stroke="#000" stroke-width="1.3"/>
<line x1="43.90" y1="234.86" x2="46.50" y2="234.86" stroke="#000" stroke-width="1.3"/>
<line x1="43.90" y1="230.78" x2="46.50" y2="230.78" stroke="#000" stroke-width="1.3"/>
<line x1="42.00" y1="226.70" x2="46.50" y2="226.70" stroke="#000" stroke-width="1.3"/>
<line x1="43.90" y1="222.62" x2="46.50" y2="222.62" stroke="#000" stroke-width="1.3"/>
<line x1="43.90" y1="218.54" x2="46.50" y2="218.54" stroke="#000" stroke-width="1.3"/>
<line x1="43.90" y1="214.46" x2="46.50" y2="214.46" stroke="#000" stroke-width="1.3"/>
<line x1="43.90" y1="210.38" x2="46.50" y2="210.38" stroke="#000" stroke-width="1.3"/>
<line x1="42.00" y1="206.30" x2="46.50" y2="206.30" stroke="#000" stroke-width="1.3"/>
<line x1="43.90" y1="202.22" x2="46.50" y2="202.22" stroke="#000" stroke-width="1.3"/>
<line x1="43.90" y1="198.14" x2="46.50" y2="198.14" stroke="#000" stroke-width="1.3"/>
<line x1="43.90" y1="194.06" x2="46.50" y2="194.06" stroke="#000" stroke-width="1.3"/>
<line x1="43.90" y1="189.98" x2="46.50" y2="189.98" stroke="#000" stroke-width="1.3"/>
<line x1="42.00" y1="185.90" x2="46.50" y2="185.90" stroke="#000" stroke-width="1.3"/>
<line x1="43.90" y1="181.82" x2="46.50" y2="181.82" stroke="#000" stroke-width="1.3"/>
<line x1="43.90" y1="177.74" x2="46.50" y2="177.74" stroke="#000" stroke-width="1.3"/>
<line x1="43.90" y1="173.66" x2="46.50" y2="173.66" stroke="#000" stroke-width="1.3"/>
<line x1="43.90" y1="169.58" x2="46.50" y2="169.58" stroke="#000" stroke-width="1.3"/>
<line x1="153.90" y1="264.14" x2="156.50" y2="264.14" stroke="#000" stroke-width="1.3"/>
<line x1="153.90" y1="260.78" x2="156.50" y2="260.78" stroke="#000" stroke-width="1.3"/>
<line x1="153.90" y1="257.42" x2="156.50" y2="257.42" stroke="#000" stroke-width="1.3"/>
<line x1="153.90" y1="254.06" x2="156.50" y2="254.06" stroke="#000" stroke-width="1.3"/>
<line x1="152.00" y1="250.70" x2="156.50" y2="250.70" stroke="#000" stroke-width="1.3"/>
<line x1="153.90" y1="247.34" x2="156.50" y2="247.34" stroke="#000" stroke-width="1.3"/>
<line x1="153.90" y1="243.98" x2="156.50" y2="243.98" stroke="#000" stroke-width="1.3"/>
<line x1="153.90" y1="240.62" x2="156.50" y2="240.62" stroke="#000" stroke-width="1.3"/>
<line x1="153.90" y1="237.26" x2="156.50" y2="237.26" stroke="#000" stroke-width="1.3"/>
<line x1="152.00" y1="233.90" x2="156.50" y2="233.90" stroke="#000" stroke-width="1.3"/>
<line x1="153.90" y1="230.54" x2="156.50" y2="230.54" stroke="#000" stroke-width="1.3"/>
<line x1="153.90" y1="227.18" x2="156.50" y2="227.18" stroke="#000" stroke-width="1.3"/>
<line x1="153.90" y1="223.82" x2="156.50" y2="223.82" stroke="#000" stroke-width="1.3"/>
<line x1="153.90" y1="220.46" x2="156.50" y2="220.46" stroke="#000" stroke-width="1.3"/>
<line x1="152.00" y1="217.10" x2="156.50" y2="217.10" stroke="#000" stroke-width="1.3"/>
<line x1="153.90" y1="213.74" x2="156.50" y2="213.74" stroke="#000" stroke-width="1.3"/>
<line x1="153.90" y1="210.38" x2="156.50" y2="210.38" stroke="#000" stroke-width="1.3"/>
<line x1="153.90" y1="207.02" x2="156.50" y2="207.02" stroke="#000" stroke-width="1.3"/>
<line x1="153.90" y1="203.66" x2="156.50" y2="203.66" stroke="#000" stroke-width="1.3"/>
<line x1="152.00" y1="200.30" x2="156.50" y2="200.30" stroke="#000" stroke-width="1.3"/>
<line x1="153.90" y1="196.94" x2="156.50" y2="196.94" stroke="#000" stroke-width="1.3"/>
<line x1="153.90" y1="193.58" x2="156.50" y2="193.58" stroke="#000" stroke-width="1.3"/>
<line x1="153.90" y1="190.22" x2="156.50" y2="190.22" stroke="#000" stroke-width="1.3"/>
<line x1="153.90" y1="186.86" x2="156.50" y2="186.86" stroke="#000" stroke-width="1.3"/>
<line x1="152.00" y1="183.50" x2="156.50" y2="183.50" stroke="#000" stroke-width="1.3"/>
<line x1="153.90" y1="180.14" x2="156.50" y2="180.14" stroke="#000" stroke-width="1.3"/>
<line x1="153.90" y1="176.78" x2="156.50" y2="176.78" stroke="#000" stroke-width="1.3"/>
<line x1="153.90" y1="173.42" x2="156.50" y2="173.42" stroke="#000" stroke-width="1.3"/>
<line x1="153.90" y1="170.06" x2="156.50" y2="170.06" stroke="#000" stroke-width="1.3"/>
<line x1="265.90" y1="262.50" x2="268.50" y2="262.50" stroke="#000" stroke-width="1.3"/>
<line x1="265.90" y1="257.50" x2="268.50" y2="257.50" stroke="#000" stroke-width="1.3"/>
<line x1="265.90" y1="252.50" x2="268.50" y2="252.50" stroke="#000" stroke-width="1.3"/>
<line x1="265.90" y1="247.50" x2="268.50" y2="247.50" stroke="#000" stroke-width="1.3"/>
<line x1="264.00" y1="242.50" x2="268.50" y2="242.50" stroke="#000" stroke-width="1.3"/>
<line x1="265.90" y1="237.50" x2="268.50" y2="237.50" stroke="#000" stroke-width="1.3"/>
<line x1="265.90" y1="232.50" x2="268.50" y2="232.50" stroke="#000" stroke-width="1.3"/>
<line x1="265.90" y1="227.50" x2="268.50" y2="227.50" stroke="#000" stroke-width="1.3"/>
<line x1="265.90" y1="222.50" x2="268.50" y2="222.50" stroke="#000" stroke-width="1.3"/>
<line x1="264.00" y1="217.50" x2="268.50" y2="217.50" stroke="#000" stroke-width="1.3"/>
<line x1="265.90" y1="212.50" x2="268.50" y2="212.50" stroke="#000" stroke-width="1.3"/>
<line x1="265.90" y1="207.50" x2="268.50" y2="207.50" stroke="#000" stroke-width="1.3"/>
<line x1="265.90" y1="202.50" x2="268.50" y2="202.50" stroke="#000" stroke-width="1.3"/>
<line x1="265.90" y1="197.50" x2="268.50" y2="197.50" stroke="#000" stroke-width="1.3"/>
<line x1="264.00" y1="192.50" x2="268.50" y2="192.50" stroke="#000" stroke-width="1.3"/>
<line x1="265.90" y1="187.50" x2="268.50" y2="187.50" stroke="#000" stroke-width="1.3"/>
<line x1="265.90" y1="182.50" x2="268.50" y2="182.50" stroke="#000" stroke-width="1.3"/>
<line x1="265.90" y1="177.50" x2="268.50" y2="177.50" stroke="#000" stroke-width="1.3"/>
<line x1="265.90" y1="172.50" x2="268.50" y2="172.50" stroke="#000" stroke-width="1.3"/>
<line x1="379.70" y1="262.88" x2="382.30" y2="262.88" stroke="#000" stroke-width="1.3"/>
<line x1="379.70" y1="258.25" x2="382.30" y2="258.25" stroke="#000" stroke-width="1.3"/>
<line x1="379.70" y1="253.62" x2="382.30" y2="253.62" stroke="#000" stroke-width="1.3"/>
<line x1="377.80" y1="249.00" x2="382.30" y2="249.00" stroke="#000" stroke-width="1.3"/>
<line x1="379.70" y1="244.38" x2="382.30" y2="244.38" stroke="#000" stroke-width="1.3"/>
<line x1="379.70" y1="239.75" x2="382.30" y2="239.75" stroke="#000" stroke-width="1.3"/>
<line x1="379.70" y1="235.12" x2="382.30" y2="235.12" stroke="#000" stroke-width="1.3"/>
<line x1="377.80" y1="230.50" x2="382.30" y2="230.50" stroke="#000" stroke-width="1.3"/>
<line x1="379.70" y1="225.88" x2="382.30" y2="225.88" stroke="#000" stroke-width="1.3"/>
<line x1="379.70" y1="221.25" x2="382.30" y2="221.25" stroke="#000" stroke-width="1.3"/>
<line x1="379.70" y1="216.62" x2="382.30" y2="216.62" stroke="#000" stroke-width="1.3"/>
<line x1="377.80" y1="212.00" x2="382.30" y2="212.00" stroke="#000" stroke-width="1.3"/>
<line x1="379.70" y1="207.38" x2="382.30" y2="207.38" stroke="#000" stroke-width="1.3"/>
<line x1="379.70" y1="202.75" x2="382.30" y2="202.75" stroke="#000" stroke-width="1.3"/>
<line x1="379.70" y1="198.12" x2="382.30" y2="198.12" stroke="#000" stroke-width="1.3"/>
<line x1="377.80" y1="193.50" x2="382.30" y2="193.50" stroke="#000" stroke-width="1.3"/>
<line x1="379.70" y1="188.88" x2="382.30" y2="188.88" stroke="#000" stroke-width="1.3"/>
<line x1="379.70" y1="184.25" x2="382.30" y2="184.25" stroke="#000" stroke-width="1.3"/>
<line x1="379.70" y1="179.62" x2="382.30" y2="179.62" stroke="#000" stroke-width="1.3"/>
<line x1="377.80" y1="175.00" x2="382.30" y2="175.00" stroke="#000" stroke-width="1.3"/>
<line x1="379.70" y1="170.38" x2="382.30" y2="170.38" stroke="#000" stroke-width="1.3"/>
<line x1="46.80" y1="139.60" x2="46.80" y2="142.00" stroke="#000" stroke-width="1.1"/>
<line x1="49.25" y1="139.60" x2="49.25" y2="142.00" stroke="#000" stroke-width="1.1"/>
<line x1="51.70" y1="139.60" x2="51.70" y2="142.00" stroke="#000" stroke-width="1.1"/>
<line x1="54.15" y1="139.60" x2="54.15" y2="142.00" stroke="#000" stroke-width="1.1"/>
<line x1="56.60" y1="139.60" x2="56.60" y2="142.00" stroke="#000" stroke-width="1.1"/>
<line x1="59.05" y1="139.60" x2="59.05" y2="142.00" stroke="#000" stroke-width="1.1"/>
<line x1="61.50" y1="139.60" x2="61.50" y2="142.00" stroke="#000" stroke-width="1.1"/>
<line x1="63.95" y1="139.60" x2="63.95" y2="142.00" stroke="#000" stroke-width="1.1"/>
<line x1="66.40" y1="139.60" x2="66.40" y2="142.00" stroke="#000" stroke-width="1.1"/>
<line x1="68.85" y1="139.60" x2="68.85" y2="142.00" stroke="#000" stroke-width="1.1"/>
<line x1="71.30" y1="139.60" x2="71.30" y2="142.00" stroke="#000" stroke-width="1.1"/>
<line x1="73.75" y1="139.60" x2="73.75" y2="142.00" stroke="#000" stroke-width="1.1"/>
<line x1="76.20" y1="139.60" x2="76.20" y2="142.00" stroke="#000" stroke-width="1.1"/>
<line x1="78.65" y1="139.60" x2="78.65" y2="142.00" stroke="#000" stroke-width="1.1"/>
<line x1="81.10" y1="139.60" x2="81.10" y2="142.00" stroke="#000" stroke-width="1.1"/>
<line x1="62.00" y1="139.60" x2="62.00" y2="143.40" stroke="#000" stroke-width="1.1"/>
<line x1="64.00" y1="139.60" x2="64.00" y2="143.40" stroke="#000" stroke-width="1.1"/>
<line x1="88.50" y1="139.60" x2="88.50" y2="143.40" stroke="#000" stroke-width="1.1"/>
<line x1="96.18" y1="139.60" x2="96.18" y2="142.00" stroke="#000" stroke-width="1.1"/>
<line x1="100.67" y1="139.60" x2="100.67" y2="142.00" stroke="#000" stroke-width="1.1"/>
<line x1="103.85" y1="139.60" x2="103.85" y2="142.00" stroke="#000" stroke-width="1.1"/>
<line x1="106.32" y1="139.60" x2="106.32" y2="142.00" stroke="#000" stroke-width="1.1"/>
<line x1="108.34" y1="139.60" x2="108.34" y2="142.00" stroke="#000" stroke-width="1.1"/>
<line x1="110.05" y1="139.60" x2="110.05" y2="142.00" stroke="#000" stroke-width="1.1"/>
<line x1="111.53" y1="139.60" x2="111.53" y2="142.00" stroke="#000" stroke-width="1.1"/>
<line x1="112.83" y1="139.60" x2="112.83" y2="142.00" stroke="#000" stroke-width="1.1"/>
<line x1="114.00" y1="139.60" x2="114.00" y2="143.40" stroke="#000" stroke-width="1.1"/>
<line x1="121.68" y1="139.60" x2="121.68" y2="142.00" stroke="#000" stroke-width="1.1"/>
<line x1="126.17" y1="139.60" x2="126.17" y2="142.00" stroke="#000" stroke-width="1.1"/>
<line x1="129.35" y1="139.60" x2="129.35" y2="142.00" stroke="#000" stroke-width="1.1"/>
<line x1="131.82" y1="139.60" x2="131.82" y2="142.00" stroke="#000" stroke-width="1.1"/>
<line x1="133.84" y1="139.60" x2="133.84" y2="142.00" stroke="#000" stroke-width="1.1"/>
<line x1="135.55" y1="139.60" x2="135.55" y2="142.00" stroke="#000" stroke-width="1.1"/>
<line x1="137.03" y1="139.60" x2="137.03" y2="142.00" stroke="#000" stroke-width="1.1"/>
<line x1="138.33" y1="139.60" x2="138.33" y2="142.00" stroke="#000" stroke-width="1.1"/>
<line x1="139.50" y1="139.60" x2="139.50" y2="143.40" stroke="#000" stroke-width="1.1"/>
<text x="64.60" y="157.40" font-size="8.5" text-anchor="middle" font-weight="normal" >0</text>
<text x="82.40" y="157.40" font-size="8.7">10<tspan font-size="6.2" dy="-4.3">3</tspan></text>
<text x="108.20" y="157.40" font-size="8.7">10<tspan font-size="6.2" dy="-4.3">4</tspan></text>
<text x="130.80" y="157.40" font-size="8.7">10<tspan font-size="6.2" dy="-4.3">5</tspan></text>
<line x1="156.80" y1="139.60" x2="156.80" y2="142.00" stroke="#000" stroke-width="1.1"/>
<line x1="159.25" y1="139.60" x2="159.25" y2="142.00" stroke="#000" stroke-width="1.1"/>
<line x1="161.70" y1="139.60" x2="161.70" y2="142.00" stroke="#000" stroke-width="1.1"/>
<line x1="164.15" y1="139.60" x2="164.15" y2="142.00" stroke="#000" stroke-width="1.1"/>
<line x1="166.60" y1="139.60" x2="166.60" y2="142.00" stroke="#000" stroke-width="1.1"/>
<line x1="169.05" y1="139.60" x2="169.05" y2="142.00" stroke="#000" stroke-width="1.1"/>
<line x1="171.50" y1="139.60" x2="171.50" y2="142.00" stroke="#000" stroke-width="1.1"/>
<line x1="173.95" y1="139.60" x2="173.95" y2="142.00" stroke="#000" stroke-width="1.1"/>
<line x1="176.40" y1="139.60" x2="176.40" y2="142.00" stroke="#000" stroke-width="1.1"/>
<line x1="178.85" y1="139.60" x2="178.85" y2="142.00" stroke="#000" stroke-width="1.1"/>
<line x1="181.30" y1="139.60" x2="181.30" y2="142.00" stroke="#000" stroke-width="1.1"/>
<line x1="183.75" y1="139.60" x2="183.75" y2="142.00" stroke="#000" stroke-width="1.1"/>
<line x1="186.20" y1="139.60" x2="186.20" y2="142.00" stroke="#000" stroke-width="1.1"/>
<line x1="188.65" y1="139.60" x2="188.65" y2="142.00" stroke="#000" stroke-width="1.1"/>
<line x1="191.10" y1="139.60" x2="191.10" y2="142.00" stroke="#000" stroke-width="1.1"/>
<line x1="172.00" y1="139.60" x2="172.00" y2="143.40" stroke="#000" stroke-width="1.1"/>
<line x1="174.00" y1="139.60" x2="174.00" y2="143.40" stroke="#000" stroke-width="1.1"/>
<line x1="198.50" y1="139.60" x2="198.50" y2="143.40" stroke="#000" stroke-width="1.1"/>
<line x1="206.18" y1="139.60" x2="206.18" y2="142.00" stroke="#000" stroke-width="1.1"/>
<line x1="210.67" y1="139.60" x2="210.67" y2="142.00" stroke="#000" stroke-width="1.1"/>
<line x1="213.85" y1="139.60" x2="213.85" y2="142.00" stroke="#000" stroke-width="1.1"/>
<line x1="216.32" y1="139.60" x2="216.32" y2="142.00" stroke="#000" stroke-width="1.1"/>
<line x1="218.34" y1="139.60" x2="218.34" y2="142.00" stroke="#000" stroke-width="1.1"/>
<line x1="220.05" y1="139.60" x2="220.05" y2="142.00" stroke="#000" stroke-width="1.1"/>
<line x1="221.53" y1="139.60" x2="221.53" y2="142.00" stroke="#000" stroke-width="1.1"/>
<line x1="222.83" y1="139.60" x2="222.83" y2="142.00" stroke="#000" stroke-width="1.1"/>
<line x1="224.00" y1="139.60" x2="224.00" y2="143.40" stroke="#000" stroke-width="1.1"/>
<line x1="231.68" y1="139.60" x2="231.68" y2="142.00" stroke="#000" stroke-width="1.1"/>
<line x1="236.17" y1="139.60" x2="236.17" y2="142.00" stroke="#000" stroke-width="1.1"/>
<line x1="239.35" y1="139.60" x2="239.35" y2="142.00" stroke="#000" stroke-width="1.1"/>
<line x1="241.82" y1="139.60" x2="241.82" y2="142.00" stroke="#000" stroke-width="1.1"/>
<line x1="243.84" y1="139.60" x2="243.84" y2="142.00" stroke="#000" stroke-width="1.1"/>
<line x1="245.55" y1="139.60" x2="245.55" y2="142.00" stroke="#000" stroke-width="1.1"/>
<line x1="247.03" y1="139.60" x2="247.03" y2="142.00" stroke="#000" stroke-width="1.1"/>
<line x1="248.33" y1="139.60" x2="248.33" y2="142.00" stroke="#000" stroke-width="1.1"/>
<line x1="249.50" y1="139.60" x2="249.50" y2="143.40" stroke="#000" stroke-width="1.1"/>
<text x="174.60" y="157.40" font-size="8.5" text-anchor="middle" font-weight="normal" >0</text>
<text x="192.40" y="157.40" font-size="8.7">10<tspan font-size="6.2" dy="-4.3">3</tspan></text>
<text x="218.20" y="157.40" font-size="8.7">10<tspan font-size="6.2" dy="-4.3">4</tspan></text>
<text x="240.80" y="157.40" font-size="8.7">10<tspan font-size="6.2" dy="-4.3">5</tspan></text>
<line x1="268.80" y1="139.60" x2="268.80" y2="142.00" stroke="#000" stroke-width="1.1"/>
<line x1="271.25" y1="139.60" x2="271.25" y2="142.00" stroke="#000" stroke-width="1.1"/>
<line x1="273.70" y1="139.60" x2="273.70" y2="142.00" stroke="#000" stroke-width="1.1"/>
<line x1="276.15" y1="139.60" x2="276.15" y2="142.00" stroke="#000" stroke-width="1.1"/>
<line x1="278.60" y1="139.60" x2="278.60" y2="142.00" stroke="#000" stroke-width="1.1"/>
<line x1="281.05" y1="139.60" x2="281.05" y2="142.00" stroke="#000" stroke-width="1.1"/>
<line x1="283.50" y1="139.60" x2="283.50" y2="142.00" stroke="#000" stroke-width="1.1"/>
<line x1="285.95" y1="139.60" x2="285.95" y2="142.00" stroke="#000" stroke-width="1.1"/>
<line x1="288.40" y1="139.60" x2="288.40" y2="142.00" stroke="#000" stroke-width="1.1"/>
<line x1="290.85" y1="139.60" x2="290.85" y2="142.00" stroke="#000" stroke-width="1.1"/>
<line x1="293.30" y1="139.60" x2="293.30" y2="142.00" stroke="#000" stroke-width="1.1"/>
<line x1="295.75" y1="139.60" x2="295.75" y2="142.00" stroke="#000" stroke-width="1.1"/>
<line x1="298.20" y1="139.60" x2="298.20" y2="142.00" stroke="#000" stroke-width="1.1"/>
<line x1="300.65" y1="139.60" x2="300.65" y2="142.00" stroke="#000" stroke-width="1.1"/>
<line x1="303.10" y1="139.60" x2="303.10" y2="142.00" stroke="#000" stroke-width="1.1"/>
<line x1="284.00" y1="139.60" x2="284.00" y2="143.40" stroke="#000" stroke-width="1.1"/>
<line x1="286.00" y1="139.60" x2="286.00" y2="143.40" stroke="#000" stroke-width="1.1"/>
<line x1="310.50" y1="139.60" x2="310.50" y2="143.40" stroke="#000" stroke-width="1.1"/>
<line x1="318.18" y1="139.60" x2="318.18" y2="142.00" stroke="#000" stroke-width="1.1"/>
<line x1="322.67" y1="139.60" x2="322.67" y2="142.00" stroke="#000" stroke-width="1.1"/>
<line x1="325.85" y1="139.60" x2="325.85" y2="142.00" stroke="#000" stroke-width="1.1"/>
<line x1="328.32" y1="139.60" x2="328.32" y2="142.00" stroke="#000" stroke-width="1.1"/>
<line x1="330.34" y1="139.60" x2="330.34" y2="142.00" stroke="#000" stroke-width="1.1"/>
<line x1="332.05" y1="139.60" x2="332.05" y2="142.00" stroke="#000" stroke-width="1.1"/>
<line x1="333.53" y1="139.60" x2="333.53" y2="142.00" stroke="#000" stroke-width="1.1"/>
<line x1="334.83" y1="139.60" x2="334.83" y2="142.00" stroke="#000" stroke-width="1.1"/>
<line x1="336.00" y1="139.60" x2="336.00" y2="143.40" stroke="#000" stroke-width="1.1"/>
<line x1="343.68" y1="139.60" x2="343.68" y2="142.00" stroke="#000" stroke-width="1.1"/>
<line x1="348.17" y1="139.60" x2="348.17" y2="142.00" stroke="#000" stroke-width="1.1"/>
<line x1="351.35" y1="139.60" x2="351.35" y2="142.00" stroke="#000" stroke-width="1.1"/>
<line x1="353.82" y1="139.60" x2="353.82" y2="142.00" stroke="#000" stroke-width="1.1"/>
<line x1="355.84" y1="139.60" x2="355.84" y2="142.00" stroke="#000" stroke-width="1.1"/>
<line x1="357.55" y1="139.60" x2="357.55" y2="142.00" stroke="#000" stroke-width="1.1"/>
<line x1="359.03" y1="139.60" x2="359.03" y2="142.00" stroke="#000" stroke-width="1.1"/>
<line x1="360.33" y1="139.60" x2="360.33" y2="142.00" stroke="#000" stroke-width="1.1"/>
<line x1="361.50" y1="139.60" x2="361.50" y2="143.40" stroke="#000" stroke-width="1.1"/>
<text x="286.60" y="157.40" font-size="8.5" text-anchor="middle" font-weight="normal" >0</text>
<text x="304.40" y="157.40" font-size="8.7">10<tspan font-size="6.2" dy="-4.3">3</tspan></text>
<text x="330.20" y="157.40" font-size="8.7">10<tspan font-size="6.2" dy="-4.3">4</tspan></text>
<text x="352.80" y="157.40" font-size="8.7">10<tspan font-size="6.2" dy="-4.3">5</tspan></text>
<line x1="382.60" y1="139.60" x2="382.60" y2="142.00" stroke="#000" stroke-width="1.1"/>
<line x1="385.05" y1="139.60" x2="385.05" y2="142.00" stroke="#000" stroke-width="1.1"/>
<line x1="387.50" y1="139.60" x2="387.50" y2="142.00" stroke="#000" stroke-width="1.1"/>
<line x1="389.95" y1="139.60" x2="389.95" y2="142.00" stroke="#000" stroke-width="1.1"/>
<line x1="392.40" y1="139.60" x2="392.40" y2="142.00" stroke="#000" stroke-width="1.1"/>
<line x1="394.85" y1="139.60" x2="394.85" y2="142.00" stroke="#000" stroke-width="1.1"/>
<line x1="397.30" y1="139.60" x2="397.30" y2="142.00" stroke="#000" stroke-width="1.1"/>
<line x1="399.75" y1="139.60" x2="399.75" y2="142.00" stroke="#000" stroke-width="1.1"/>
<line x1="402.20" y1="139.60" x2="402.20" y2="142.00" stroke="#000" stroke-width="1.1"/>
<line x1="404.65" y1="139.60" x2="404.65" y2="142.00" stroke="#000" stroke-width="1.1"/>
<line x1="407.10" y1="139.60" x2="407.10" y2="142.00" stroke="#000" stroke-width="1.1"/>
<line x1="409.55" y1="139.60" x2="409.55" y2="142.00" stroke="#000" stroke-width="1.1"/>
<line x1="412.00" y1="139.60" x2="412.00" y2="142.00" stroke="#000" stroke-width="1.1"/>
<line x1="414.45" y1="139.60" x2="414.45" y2="142.00" stroke="#000" stroke-width="1.1"/>
<line x1="416.90" y1="139.60" x2="416.90" y2="142.00" stroke="#000" stroke-width="1.1"/>
<line x1="397.80" y1="139.60" x2="397.80" y2="143.40" stroke="#000" stroke-width="1.1"/>
<line x1="399.80" y1="139.60" x2="399.80" y2="143.40" stroke="#000" stroke-width="1.1"/>
<line x1="424.30" y1="139.60" x2="424.30" y2="143.40" stroke="#000" stroke-width="1.1"/>
<line x1="431.98" y1="139.60" x2="431.98" y2="142.00" stroke="#000" stroke-width="1.1"/>
<line x1="436.47" y1="139.60" x2="436.47" y2="142.00" stroke="#000" stroke-width="1.1"/>
<line x1="439.65" y1="139.60" x2="439.65" y2="142.00" stroke="#000" stroke-width="1.1"/>
<line x1="442.12" y1="139.60" x2="442.12" y2="142.00" stroke="#000" stroke-width="1.1"/>
<line x1="444.14" y1="139.60" x2="444.14" y2="142.00" stroke="#000" stroke-width="1.1"/>
<line x1="445.85" y1="139.60" x2="445.85" y2="142.00" stroke="#000" stroke-width="1.1"/>
<line x1="447.33" y1="139.60" x2="447.33" y2="142.00" stroke="#000" stroke-width="1.1"/>
<line x1="448.63" y1="139.60" x2="448.63" y2="142.00" stroke="#000" stroke-width="1.1"/>
<line x1="449.80" y1="139.60" x2="449.80" y2="143.40" stroke="#000" stroke-width="1.1"/>
<line x1="457.48" y1="139.60" x2="457.48" y2="142.00" stroke="#000" stroke-width="1.1"/>
<line x1="461.97" y1="139.60" x2="461.97" y2="142.00" stroke="#000" stroke-width="1.1"/>
<line x1="465.15" y1="139.60" x2="465.15" y2="142.00" stroke="#000" stroke-width="1.1"/>
<line x1="467.62" y1="139.60" x2="467.62" y2="142.00" stroke="#000" stroke-width="1.1"/>
<line x1="469.64" y1="139.60" x2="469.64" y2="142.00" stroke="#000" stroke-width="1.1"/>
<line x1="471.35" y1="139.60" x2="471.35" y2="142.00" stroke="#000" stroke-width="1.1"/>
<line x1="472.83" y1="139.60" x2="472.83" y2="142.00" stroke="#000" stroke-width="1.1"/>
<line x1="474.13" y1="139.60" x2="474.13" y2="142.00" stroke="#000" stroke-width="1.1"/>
<line x1="475.30" y1="139.60" x2="475.30" y2="143.40" stroke="#000" stroke-width="1.1"/>
<text x="400.40" y="157.40" font-size="8.5" text-anchor="middle" font-weight="normal" >0</text>
<text x="418.20" y="157.40" font-size="8.7">10<tspan font-size="6.2" dy="-4.3">3</tspan></text>
<text x="444.00" y="157.40" font-size="8.7">10<tspan font-size="6.2" dy="-4.3">4</tspan></text>
<text x="466.60" y="157.40" font-size="8.7">10<tspan font-size="6.2" dy="-4.3">5</tspan></text>
<line x1="46.80" y1="267.50" x2="46.80" y2="269.90" stroke="#000" stroke-width="1.1"/>
<line x1="49.25" y1="267.50" x2="49.25" y2="269.90" stroke="#000" stroke-width="1.1"/>
<line x1="51.70" y1="267.50" x2="51.70" y2="269.90" stroke="#000" stroke-width="1.1"/>
<line x1="54.15" y1="267.50" x2="54.15" y2="269.90" stroke="#000" stroke-width="1.1"/>
<line x1="56.60" y1="267.50" x2="56.60" y2="269.90" stroke="#000" stroke-width="1.1"/>
<line x1="59.05" y1="267.50" x2="59.05" y2="269.90" stroke="#000" stroke-width="1.1"/>
<line x1="61.50" y1="267.50" x2="61.50" y2="269.90" stroke="#000" stroke-width="1.1"/>
<line x1="63.95" y1="267.50" x2="63.95" y2="269.90" stroke="#000" stroke-width="1.1"/>
<line x1="66.40" y1="267.50" x2="66.40" y2="269.90" stroke="#000" stroke-width="1.1"/>
<line x1="68.85" y1="267.50" x2="68.85" y2="269.90" stroke="#000" stroke-width="1.1"/>
<line x1="71.30" y1="267.50" x2="71.30" y2="269.90" stroke="#000" stroke-width="1.1"/>
<line x1="73.75" y1="267.50" x2="73.75" y2="269.90" stroke="#000" stroke-width="1.1"/>
<line x1="76.20" y1="267.50" x2="76.20" y2="269.90" stroke="#000" stroke-width="1.1"/>
<line x1="78.65" y1="267.50" x2="78.65" y2="269.90" stroke="#000" stroke-width="1.1"/>
<line x1="81.10" y1="267.50" x2="81.10" y2="269.90" stroke="#000" stroke-width="1.1"/>
<line x1="62.00" y1="267.50" x2="62.00" y2="271.30" stroke="#000" stroke-width="1.1"/>
<line x1="64.00" y1="267.50" x2="64.00" y2="271.30" stroke="#000" stroke-width="1.1"/>
<line x1="88.50" y1="267.50" x2="88.50" y2="271.30" stroke="#000" stroke-width="1.1"/>
<line x1="96.18" y1="267.50" x2="96.18" y2="269.90" stroke="#000" stroke-width="1.1"/>
<line x1="100.67" y1="267.50" x2="100.67" y2="269.90" stroke="#000" stroke-width="1.1"/>
<line x1="103.85" y1="267.50" x2="103.85" y2="269.90" stroke="#000" stroke-width="1.1"/>
<line x1="106.32" y1="267.50" x2="106.32" y2="269.90" stroke="#000" stroke-width="1.1"/>
<line x1="108.34" y1="267.50" x2="108.34" y2="269.90" stroke="#000" stroke-width="1.1"/>
<line x1="110.05" y1="267.50" x2="110.05" y2="269.90" stroke="#000" stroke-width="1.1"/>
<line x1="111.53" y1="267.50" x2="111.53" y2="269.90" stroke="#000" stroke-width="1.1"/>
<line x1="112.83" y1="267.50" x2="112.83" y2="269.90" stroke="#000" stroke-width="1.1"/>
<line x1="114.00" y1="267.50" x2="114.00" y2="271.30" stroke="#000" stroke-width="1.1"/>
<line x1="121.68" y1="267.50" x2="121.68" y2="269.90" stroke="#000" stroke-width="1.1"/>
<line x1="126.17" y1="267.50" x2="126.17" y2="269.90" stroke="#000" stroke-width="1.1"/>
<line x1="129.35" y1="267.50" x2="129.35" y2="269.90" stroke="#000" stroke-width="1.1"/>
<line x1="131.82" y1="267.50" x2="131.82" y2="269.90" stroke="#000" stroke-width="1.1"/>
<line x1="133.84" y1="267.50" x2="133.84" y2="269.90" stroke="#000" stroke-width="1.1"/>
<line x1="135.55" y1="267.50" x2="135.55" y2="269.90" stroke="#000" stroke-width="1.1"/>
<line x1="137.03" y1="267.50" x2="137.03" y2="269.90" stroke="#000" stroke-width="1.1"/>
<line x1="138.33" y1="267.50" x2="138.33" y2="269.90" stroke="#000" stroke-width="1.1"/>
<line x1="139.50" y1="267.50" x2="139.50" y2="271.30" stroke="#000" stroke-width="1.1"/>
<text x="64.60" y="285.30" font-size="8.5" text-anchor="middle" font-weight="normal" >0</text>
<text x="82.40" y="285.30" font-size="8.7">10<tspan font-size="6.2" dy="-4.3">3</tspan></text>
<text x="108.20" y="285.30" font-size="8.7">10<tspan font-size="6.2" dy="-4.3">4</tspan></text>
<text x="130.80" y="285.30" font-size="8.7">10<tspan font-size="6.2" dy="-4.3">5</tspan></text>
<line x1="156.80" y1="267.50" x2="156.80" y2="269.90" stroke="#000" stroke-width="1.1"/>
<line x1="159.25" y1="267.50" x2="159.25" y2="269.90" stroke="#000" stroke-width="1.1"/>
<line x1="161.70" y1="267.50" x2="161.70" y2="269.90" stroke="#000" stroke-width="1.1"/>
<line x1="164.15" y1="267.50" x2="164.15" y2="269.90" stroke="#000" stroke-width="1.1"/>
<line x1="166.60" y1="267.50" x2="166.60" y2="269.90" stroke="#000" stroke-width="1.1"/>
<line x1="169.05" y1="267.50" x2="169.05" y2="269.90" stroke="#000" stroke-width="1.1"/>
<line x1="171.50" y1="267.50" x2="171.50" y2="269.90" stroke="#000" stroke-width="1.1"/>
<line x1="173.95" y1="267.50" x2="173.95" y2="269.90" stroke="#000" stroke-width="1.1"/>
<line x1="176.40" y1="267.50" x2="176.40" y2="269.90" stroke="#000" stroke-width="1.1"/>
<line x1="178.85" y1="267.50" x2="178.85" y2="269.90" stroke="#000" stroke-width="1.1"/>
<line x1="181.30" y1="267.50" x2="181.30" y2="269.90" stroke="#000" stroke-width="1.1"/>
<line x1="183.75" y1="267.50" x2="183.75" y2="269.90" stroke="#000" stroke-width="1.1"/>
<line x1="186.20" y1="267.50" x2="186.20" y2="269.90" stroke="#000" stroke-width="1.1"/>
<line x1="188.65" y1="267.50" x2="188.65" y2="269.90" stroke="#000" stroke-width="1.1"/>
<line x1="191.10" y1="267.50" x2="191.10" y2="269.90" stroke="#000" stroke-width="1.1"/>
<line x1="172.00" y1="267.50" x2="172.00" y2="271.30" stroke="#000" stroke-width="1.1"/>
<line x1="174.00" y1="267.50" x2="174.00" y2="271.30" stroke="#000" stroke-width="1.1"/>
<line x1="198.50" y1="267.50" x2="198.50" y2="271.30" stroke="#000" stroke-width="1.1"/>
<line x1="206.18" y1="267.50" x2="206.18" y2="269.90" stroke="#000" stroke-width="1.1"/>
<line x1="210.67" y1="267.50" x2="210.67" y2="269.90" stroke="#000" stroke-width="1.1"/>
<line x1="213.85" y1="267.50" x2="213.85" y2="269.90" stroke="#000" stroke-width="1.1"/>
<line x1="216.32" y1="267.50" x2="216.32" y2="269.90" stroke="#000" stroke-width="1.1"/>
<line x1="218.34" y1="267.50" x2="218.34" y2="269.90" stroke="#000" stroke-width="1.1"/>
<line x1="220.05" y1="267.50" x2="220.05" y2="269.90" stroke="#000" stroke-width="1.1"/>
<line x1="221.53" y1="267.50" x2="221.53" y2="269.90" stroke="#000" stroke-width="1.1"/>
<line x1="222.83" y1="267.50" x2="222.83" y2="269.90" stroke="#000" stroke-width="1.1"/>
<line x1="224.00" y1="267.50" x2="224.00" y2="271.30" stroke="#000" stroke-width="1.1"/>
<line x1="231.68" y1="267.50" x2="231.68" y2="269.90" stroke="#000" stroke-width="1.1"/>
<line x1="236.17" y1="267.50" x2="236.17" y2="269.90" stroke="#000" stroke-width="1.1"/>
<line x1="239.35" y1="267.50" x2="239.35" y2="269.90" stroke="#000" stroke-width="1.1"/>
<line x1="241.82" y1="267.50" x2="241.82" y2="269.90" stroke="#000" stroke-width="1.1"/>
<line x1="243.84" y1="267.50" x2="243.84" y2="269.90" stroke="#000" stroke-width="1.1"/>
<line x1="245.55" y1="267.50" x2="245.55" y2="269.90" stroke="#000" stroke-width="1.1"/>
<line x1="247.03" y1="267.50" x2="247.03" y2="269.90" stroke="#000" stroke-width="1.1"/>
<line x1="248.33" y1="267.50" x2="248.33" y2="269.90" stroke="#000" stroke-width="1.1"/>
<line x1="249.50" y1="267.50" x2="249.50" y2="271.30" stroke="#000" stroke-width="1.1"/>
<text x="174.60" y="285.30" font-size="8.5" text-anchor="middle" font-weight="normal" >0</text>
<text x="192.40" y="285.30" font-size="8.7">10<tspan font-size="6.2" dy="-4.3">3</tspan></text>
<text x="218.20" y="285.30" font-size="8.7">10<tspan font-size="6.2" dy="-4.3">4</tspan></text>
<text x="240.80" y="285.30" font-size="8.7">10<tspan font-size="6.2" dy="-4.3">5</tspan></text>
<line x1="268.80" y1="267.50" x2="268.80" y2="269.90" stroke="#000" stroke-width="1.1"/>
<line x1="271.25" y1="267.50" x2="271.25" y2="269.90" stroke="#000" stroke-width="1.1"/>
<line x1="273.70" y1="267.50" x2="273.70" y2="269.90" stroke="#000" stroke-width="1.1"/>
<line x1="276.15" y1="267.50" x2="276.15" y2="269.90" stroke="#000" stroke-width="1.1"/>
<line x1="278.60" y1="267.50" x2="278.60" y2="269.90" stroke="#000" stroke-width="1.1"/>
<line x1="281.05" y1="267.50" x2="281.05" y2="269.90" stroke="#000" stroke-width="1.1"/>
<line x1="283.50" y1="267.50" x2="283.50" y2="269.90" stroke="#000" stroke-width="1.1"/>
<line x1="285.95" y1="267.50" x2="285.95" y2="269.90" stroke="#000" stroke-width="1.1"/>
<line x1="288.40" y1="267.50" x2="288.40" y2="269.90" stroke="#000" stroke-width="1.1"/>
<line x1="290.85" y1="267.50" x2="290.85" y2="269.90" stroke="#000" stroke-width="1.1"/>
<line x1="293.30" y1="267.50" x2="293.30" y2="269.90" stroke="#000" stroke-width="1.1"/>
<line x1="295.75" y1="267.50" x2="295.75" y2="269.90" stroke="#000" stroke-width="1.1"/>
<line x1="298.20" y1="267.50" x2="298.20" y2="269.90" stroke="#000" stroke-width="1.1"/>
<line x1="300.65" y1="267.50" x2="300.65" y2="269.90" stroke="#000" stroke-width="1.1"/>
<line x1="303.10" y1="267.50" x2="303.10" y2="269.90" stroke="#000" stroke-width="1.1"/>
<line x1="284.00" y1="267.50" x2="284.00" y2="271.30" stroke="#000" stroke-width="1.1"/>
<line x1="286.00" y1="267.50" x2="286.00" y2="271.30" stroke="#000" stroke-width="1.1"/>
<line x1="310.50" y1="267.50" x2="310.50" y2="271.30" stroke="#000" stroke-width="1.1"/>
<line x1="318.18" y1="267.50" x2="318.18" y2="269.90" stroke="#000" stroke-width="1.1"/>
<line x1="322.67" y1="267.50" x2="322.67" y2="269.90" stroke="#000" stroke-width="1.1"/>
<line x1="325.85" y1="267.50" x2="325.85" y2="269.90" stroke="#000" stroke-width="1.1"/>
<line x1="328.32" y1="267.50" x2="328.32" y2="269.90" stroke="#000" stroke-width="1.1"/>
<line x1="330.34" y1="267.50" x2="330.34" y2="269.90" stroke="#000" stroke-width="1.1"/>
<line x1="332.05" y1="267.50" x2="332.05" y2="269.90" stroke="#000" stroke-width="1.1"/>
<line x1="333.53" y1="267.50" x2="333.53" y2="269.90" stroke="#000" stroke-width="1.1"/>
<line x1="334.83" y1="267.50" x2="334.83" y2="269.90" stroke="#000" stroke-width="1.1"/>
<line x1="336.00" y1="267.50" x2="336.00" y2="271.30" stroke="#000" stroke-width="1.1"/>
<line x1="343.68" y1="267.50" x2="343.68" y2="269.90" stroke="#000" stroke-width="1.1"/>
<line x1="348.17" y1="267.50" x2="348.17" y2="269.90" stroke="#000" stroke-width="1.1"/>
<line x1="351.35" y1="267.50" x2="351.35" y2="269.90" stroke="#000" stroke-width="1.1"/>
<line x1="353.82" y1="267.50" x2="353.82" y2="269.90" stroke="#000" stroke-width="1.1"/>
<line x1="355.84" y1="267.50" x2="355.84" y2="269.90" stroke="#000" stroke-width="1.1"/>
<line x1="357.55" y1="267.50" x2="357.55" y2="269.90" stroke="#000" stroke-width="1.1"/>
<line x1="359.03" y1="267.50" x2="359.03" y2="269.90" stroke="#000" stroke-width="1.1"/>
<line x1="360.33" y1="267.50" x2="360.33" y2="269.90" stroke="#000" stroke-width="1.1"/>
<line x1="361.50" y1="267.50" x2="361.50" y2="271.30" stroke="#000" stroke-width="1.1"/>
<text x="286.60" y="285.30" font-size="8.5" text-anchor="middle" font-weight="normal" >0</text>
<text x="304.40" y="285.30" font-size="8.7">10<tspan font-size="6.2" dy="-4.3">3</tspan></text>
<text x="330.20" y="285.30" font-size="8.7">10<tspan font-size="6.2" dy="-4.3">4</tspan></text>
<text x="352.80" y="285.30" font-size="8.7">10<tspan font-size="6.2" dy="-4.3">5</tspan></text>
<line x1="382.60" y1="267.50" x2="382.60" y2="269.90" stroke="#000" stroke-width="1.1"/>
<line x1="385.05" y1="267.50" x2="385.05" y2="269.90" stroke="#000" stroke-width="1.1"/>
<line x1="387.50" y1="267.50" x2="387.50" y2="269.90" stroke="#000" stroke-width="1.1"/>
<line x1="389.95" y1="267.50" x2="389.95" y2="269.90" stroke="#000" stroke-width="1.1"/>
<line x1="392.40" y1="267.50" x2="392.40" y2="269.90" stroke="#000" stroke-width="1.1"/>
<line x1="394.85" y1="267.50" x2="394.85" y2="269.90" stroke="#000" stroke-width="1.1"/>
<line x1="397.30" y1="267.50" x2="397.30" y2="269.90" stroke="#000" stroke-width="1.1"/>
<line x1="399.75" y1="267.50" x2="399.75" y2="269.90" stroke="#000" stroke-width="1.1"/>
<line x1="402.20" y1="267.50" x2="402.20" y2="269.90" stroke="#000" stroke-width="1.1"/>
<line x1="404.65" y1="267.50" x2="404.65" y2="269.90" stroke="#000" stroke-width="1.1"/>
<line x1="407.10" y1="267.50" x2="407.10" y2="269.90" stroke="#000" stroke-width="1.1"/>
<line x1="409.55" y1="267.50" x2="409.55" y2="269.90" stroke="#000" stroke-width="1.1"/>
<line x1="412.00" y1="267.50" x2="412.00" y2="269.90" stroke="#000" stroke-width="1.1"/>
<line x1="414.45" y1="267.50" x2="414.45" y2="269.90" stroke="#000" stroke-width="1.1"/>
<line x1="416.90" y1="267.50" x2="416.90" y2="269.90" stroke="#000" stroke-width="1.1"/>
<line x1="397.80" y1="267.50" x2="397.80" y2="271.30" stroke="#000" stroke-width="1.1"/>
<line x1="399.80" y1="267.50" x2="399.80" y2="271.30" stroke="#000" stroke-width="1.1"/>
<line x1="424.30" y1="267.50" x2="424.30" y2="271.30" stroke="#000" stroke-width="1.1"/>
<line x1="431.98" y1="267.50" x2="431.98" y2="269.90" stroke="#000" stroke-width="1.1"/>
<line x1="436.47" y1="267.50" x2="436.47" y2="269.90" stroke="#000" stroke-width="1.1"/>
<line x1="439.65" y1="267.50" x2="439.65" y2="269.90" stroke="#000" stroke-width="1.1"/>
<line x1="442.12" y1="267.50" x2="442.12" y2="269.90" stroke="#000" stroke-width="1.1"/>
<line x1="444.14" y1="267.50" x2="444.14" y2="269.90" stroke="#000" stroke-width="1.1"/>
<line x1="445.85" y1="267.50" x2="445.85" y2="269.90" stroke="#000" stroke-width="1.1"/>
<line x1="447.33" y1="267.50" x2="447.33" y2="269.90" stroke="#000" stroke-width="1.1"/>
<line x1="448.63" y1="267.50" x2="448.63" y2="269.90" stroke="#000" stroke-width="1.1"/>
<line x1="449.80" y1="267.50" x2="449.80" y2="271.30" stroke="#000" stroke-width="1.1"/>
<line x1="457.48" y1="267.50" x2="457.48" y2="269.90" stroke="#000" stroke-width="1.1"/>
<line x1="461.97" y1="267.50" x2="461.97" y2="269.90" stroke="#000" stroke-width="1.1"/>
<line x1="465.15" y1="267.50" x2="465.15" y2="269.90" stroke="#000" stroke-width="1.1"/>
<line x1="467.62" y1="267.50" x2="467.62" y2="269.90" stroke="#000" stroke-width="1.1"/>
<line x1="469.64" y1="267.50" x2="469.64" y2="269.90" stroke="#000" stroke-width="1.1"/>
<line x1="471.35" y1="267.50" x2="471.35" y2="269.90" stroke="#000" stroke-width="1.1"/>
<line x1="472.83" y1="267.50" x2="472.83" y2="269.90" stroke="#000" stroke-width="1.1"/>
<line x1="474.13" y1="267.50" x2="474.13" y2="269.90" stroke="#000" stroke-width="1.1"/>
<line x1="475.30" y1="267.50" x2="475.30" y2="271.30" stroke="#000" stroke-width="1.1"/>
<text x="400.40" y="285.30" font-size="8.5" text-anchor="middle" font-weight="normal" >0</text>
<text x="418.20" y="285.30" font-size="8.7">10<tspan font-size="6.2" dy="-4.3">3</tspan></text>
<text x="444.00" y="285.30" font-size="8.7">10<tspan font-size="6.2" dy="-4.3">4</tspan></text>
<text x="466.60" y="285.30" font-size="8.7">10<tspan font-size="6.2" dy="-4.3">5</tspan></text>
<line x1="88.80" y1="127.30" x2="147.80" y2="127.30" stroke="#000" stroke-width="1.5"/>
<text x="118.20" y="121.70" font-size="8.5" text-anchor="middle" font-weight="normal" letter-spacing="0.5">1.1%</text>
<line x1="199.30" y1="127.20" x2="258.00" y2="127.20" stroke="#000" stroke-width="1.5"/>
<text x="227.70" y="121.70" font-size="8.5" text-anchor="middle" font-weight="normal" letter-spacing="0.5">0.9%</text>
<line x1="307.40" y1="127.40" x2="370.00" y2="127.40" stroke="#000" stroke-width="1.5"/>
<text x="338.80" y="121.70" font-size="8.5" text-anchor="middle" font-weight="normal" letter-spacing="0.5">8.2%</text>
<line x1="421.40" y1="127.40" x2="483.00" y2="127.40" stroke="#000" stroke-width="1.5"/>
<text x="453.10" y="121.70" font-size="8.5" text-anchor="middle" font-weight="normal" letter-spacing="0.5">4.2%</text>
<line x1="88.70" y1="248.70" x2="147.80" y2="248.70" stroke="#000" stroke-width="1.5"/>
<text x="118.50" y="244.00" font-size="8.5" text-anchor="middle" font-weight="normal" letter-spacing="0.5">15%</text>
<line x1="198.20" y1="248.50" x2="259.50" y2="248.50" stroke="#000" stroke-width="1.5"/>
<text x="228.50" y="244.00" font-size="8.5" text-anchor="middle" font-weight="normal" letter-spacing="0.5">14%</text>
<line x1="307.40" y1="230.60" x2="370.00" y2="230.60" stroke="#000" stroke-width="1.5"/>
<text x="338.10" y="225.40" font-size="8.5" text-anchor="middle" font-weight="normal" letter-spacing="0.5">48%</text>
<line x1="421.40" y1="249.00" x2="483.00" y2="249.00" stroke="#000" stroke-width="1.5"/>
<text x="452.30" y="243.40" font-size="8.5" text-anchor="middle" font-weight="normal" letter-spacing="0.5">5.1%</text>
<text x="498.20" y="91.90" font-size="10.5" text-anchor="middle" font-weight="normal" >OP9</text>
<text x="497.60" y="207.80" font-size="10.5" text-anchor="middle" font-weight="normal" >OP9-</text>
<text x="497.60" y="219.60" font-size="10.5" text-anchor="middle" font-weight="normal" >DL1</text>
<text transform="translate(35.5,154.3) rotate(-90)" font-size="10.8" text-anchor="middle">% of max</text>
<text x="64.00" y="302.50" font-size="10.6" text-anchor="start" font-weight="normal" >Ki-67</text>
<line x1="93.00" y1="298.50" x2="450.00" y2="298.50" stroke="#000" stroke-width="1.9"/>
<path d="M458.8,298.5 L446.5,293.6 L449.5,298.5 L446.5,303.4 Z" fill="#000"/>
<line x1="57.40" y1="346.00" x2="57.40" y2="549.80" stroke="#000" stroke-width="1.8"/>
<line x1="52.50" y1="549.00" x2="57.40" y2="549.00" stroke="#000" stroke-width="1.5"/>
<text x="48.80" y="552.50" font-size="11.3" text-anchor="end" font-weight="normal" >0</text>
<line x1="52.50" y1="520.57" x2="57.40" y2="520.57" stroke="#000" stroke-width="1.5"/>
<text x="48.80" y="524.07" font-size="11.3" text-anchor="end" font-weight="normal" >10</text>
<line x1="52.50" y1="492.14" x2="57.40" y2="492.14" stroke="#000" stroke-width="1.5"/>
<text x="48.80" y="495.64" font-size="11.3" text-anchor="end" font-weight="normal" >20</text>
<line x1="52.50" y1="463.71" x2="57.40" y2="463.71" stroke="#000" stroke-width="1.5"/>
<text x="48.80" y="467.21" font-size="11.3" text-anchor="end" font-weight="normal" >30</text>
<line x1="52.50" y1="435.28" x2="57.40" y2="435.28" stroke="#000" stroke-width="1.5"/>
<text x="48.80" y="438.78" font-size="11.3" text-anchor="end" font-weight="normal" >40</text>
<line x1="52.50" y1="406.85" x2="57.40" y2="406.85" stroke="#000" stroke-width="1.5"/>
<text x="48.80" y="410.35" font-size="11.3" text-anchor="end" font-weight="normal" >50</text>
<line x1="52.50" y1="378.42" x2="57.40" y2="378.42" stroke="#000" stroke-width="1.5"/>
<text x="48.80" y="381.92" font-size="11.3" text-anchor="end" font-weight="normal" >60</text>
<line x1="52.50" y1="349.99" x2="57.40" y2="349.99" stroke="#000" stroke-width="1.5"/>
<text x="48.80" y="353.49" font-size="11.3" text-anchor="end" font-weight="normal" >70</text>
<line x1="52.50" y1="549.00" x2="253.70" y2="549.00" stroke="#000" stroke-width="1.8"/>
<text transform="translate(28.00,447.8) rotate(-90)" font-size="12" text-anchor="middle">% Ki-67-positive B cells</text>
<line x1="81.30" y1="549.00" x2="81.30" y2="555.00" stroke="#000" stroke-width="1.5"/>
<line x1="130.50" y1="549.00" x2="130.50" y2="555.00" stroke="#000" stroke-width="1.5"/>
<line x1="179.00" y1="549.00" x2="179.00" y2="555.00" stroke="#000" stroke-width="1.5"/>
<line x1="228.50" y1="549.00" x2="228.50" y2="555.00" stroke="#000" stroke-width="1.5"/>
<text x="81.30" y="567.40" font-size="11.2" text-anchor="middle" font-weight="normal" >Active</text>
<text x="130.50" y="567.40" font-size="11.2" text-anchor="middle" font-weight="normal" >No</text>
<text x="179.00" y="567.40" font-size="11.2" text-anchor="middle" font-weight="normal" >Active</text>
<text x="228.50" y="567.40" font-size="11.2" text-anchor="middle" font-weight="normal" >No</text>
<line x1="67.00" y1="574.00" x2="130.40" y2="574.00" stroke="#000" stroke-width="1.5"/>
<line x1="159.50" y1="574.00" x2="228.30" y2="574.00" stroke="#000" stroke-width="1.5"/>
<text x="65.40" y="588.30" font-size="11.2" text-anchor="end" font-weight="normal" >anti-IgM:</text>
<text x="65.40" y="604.60" font-size="11.2" text-anchor="end" font-weight="normal" >DAPT:</text>
<text x="102.70" y="589.00" font-size="11" text-anchor="middle" font-weight="normal" >+</text>
<text x="102.70" y="604.50" font-size="11" text-anchor="middle" font-weight="normal" >-</text>
<text x="197.00" y="589.00" font-size="11" text-anchor="middle" font-weight="normal" >+</text>
<text x="197.00" y="605.00" font-size="11" text-anchor="middle" font-weight="normal" >+</text>
<line x1="81.00" y1="354.80" x2="178.50" y2="354.80" stroke="#000" stroke-width="1.5"/>
<text x="129.50" y="353.00" font-size="11" text-anchor="middle" font-weight="normal" >**</text>
<line x1="94.40" y1="373.00" x2="130.20" y2="373.00" stroke="#000" stroke-width="1.5"/>
<text x="112.40" y="371.20" font-size="11" text-anchor="middle" font-weight="normal" >*</text>
<line x1="129.80" y1="471.50" x2="225.50" y2="471.50" stroke="#000" stroke-width="1.5"/>
<text x="177.70" y="469.70" font-size="11" text-anchor="middle" font-weight="normal" >**</text>
<rect x="76.95" y="370.65" width="8.70" height="8.70" fill="#b80b3d" stroke="#8e0b2f" stroke-width="0.9"/>
<rect x="76.95" y="393.35" width="8.70" height="8.70" fill="#b80b3d" stroke="#8e0b2f" stroke-width="0.9"/>
<rect x="70.45" y="408.15" width="8.70" height="8.70" fill="#b80b3d" stroke="#8e0b2f" stroke-width="0.9"/>
<rect x="83.35" y="415.45" width="8.70" height="8.70" fill="#b80b3d" stroke="#8e0b2f" stroke-width="0.9"/>
<rect x="83.35" y="451.05" width="8.70" height="8.70" fill="#b80b3d" stroke="#8e0b2f" stroke-width="0.9"/>
<rect x="70.85" y="456.95" width="8.70" height="8.70" fill="#b80b3d" stroke="#8e0b2f" stroke-width="0.9"/>
<rect x="77.15" y="476.25" width="8.70" height="8.70" fill="#b80b3d" stroke="#8e0b2f" stroke-width="0.9"/>
<rect x="83.35" y="508.35" width="8.70" height="8.70" fill="#b80b3d" stroke="#8e0b2f" stroke-width="0.9"/>
<rect x="70.85" y="513.65" width="8.70" height="8.70" fill="#b80b3d" stroke="#8e0b2f" stroke-width="0.9"/>
<line x1="81.30" y1="374.80" x2="81.30" y2="517.50" stroke="#000" stroke-width="1.5"/>
<line x1="73.20" y1="374.80" x2="89.40" y2="374.80" stroke="#000" stroke-width="1.6"/>
<line x1="73.20" y1="517.50" x2="89.40" y2="517.50" stroke="#000" stroke-width="1.6"/>
<line x1="65.60" y1="448.30" x2="97.30" y2="448.30" stroke="#000" stroke-width="1.6"/>
<rect x="132.47" y="479.18" width="8.05" height="8.05" fill="none" stroke="#262f4f" stroke-width="1.45"/>
<rect x="119.88" y="487.98" width="8.05" height="8.05" fill="none" stroke="#262f4f" stroke-width="1.45"/>
<rect x="136.88" y="492.78" width="8.05" height="8.05" fill="none" stroke="#262f4f" stroke-width="1.45"/>
<rect x="115.97" y="495.98" width="8.05" height="8.05" fill="none" stroke="#262f4f" stroke-width="1.45"/>
<rect x="126.47" y="504.78" width="8.05" height="8.05" fill="none" stroke="#262f4f" stroke-width="1.45"/>
<rect x="126.28" y="524.98" width="8.05" height="8.05" fill="none" stroke="#262f4f" stroke-width="1.45"/>
<line x1="130.10" y1="483.60" x2="130.10" y2="529.00" stroke="#000" stroke-width="1.5"/>
<line x1="122.90" y1="483.60" x2="137.30" y2="483.60" stroke="#000" stroke-width="1.6"/>
<line x1="122.90" y1="529.00" x2="138.40" y2="529.00" stroke="#000" stroke-width="1.6"/>
<line x1="114.80" y1="501.10" x2="146.00" y2="501.10" stroke="#000" stroke-width="1.6"/>
<rect x="169.00" y="526.70" width="8.60" height="8.60" fill="#b80b3d" stroke="#8e0b2f" stroke-width="0.9"/>
<rect x="180.70" y="530.70" width="8.60" height="8.60" fill="#b80b3d" stroke="#8e0b2f" stroke-width="0.9"/>
<rect x="184.70" y="533.20" width="8.60" height="8.60" fill="#b80b3d" stroke="#8e0b2f" stroke-width="0.9"/>
<rect x="164.70" y="533.20" width="8.60" height="8.60" fill="#b80b3d" stroke="#8e0b2f" stroke-width="0.9"/>
<rect x="173.70" y="531.70" width="8.60" height="8.60" fill="#b80b3d" stroke="#8e0b2f" stroke-width="0.9"/>
<rect x="170.20" y="539.20" width="8.60" height="8.60" fill="#b80b3d" stroke="#8e0b2f" stroke-width="0.9"/>
<rect x="180.20" y="539.20" width="8.60" height="8.60" fill="#b80b3d" stroke="#8e0b2f" stroke-width="0.9"/>
<rect x="175.20" y="543.70" width="8.60" height="8.60" fill="#b80b3d" stroke="#8e0b2f" stroke-width="0.9"/>
<line x1="163.00" y1="538.50" x2="192.30" y2="538.50" stroke="#000" stroke-width="1.6"/>
<line x1="173.00" y1="541.50" x2="185.00" y2="541.50" stroke="#000" stroke-width="1.2"/>
<line x1="179.00" y1="535.00" x2="179.00" y2="542.00" stroke="#000" stroke-width="1.2"/>
<rect x="216.53" y="540.52" width="6.95" height="6.95" fill="none" stroke="#262f4f" stroke-width="1.45"/>
<rect x="222.53" y="540.02" width="6.95" height="6.95" fill="none" stroke="#262f4f" stroke-width="1.45"/>
<rect x="226.03" y="539.52" width="6.95" height="6.95" fill="none" stroke="#262f4f" stroke-width="1.45"/>
<rect x="230.83" y="538.52" width="6.95" height="6.95" fill="none" stroke="#262f4f" stroke-width="1.45"/>
<rect x="234.53" y="540.52" width="6.95" height="6.95" fill="none" stroke="#262f4f" stroke-width="1.45"/>
<rect x="218.03" y="544.02" width="6.95" height="6.95" fill="none" stroke="#262f4f" stroke-width="1.45"/>
<rect x="222.03" y="545.02" width="6.95" height="6.95" fill="none" stroke="#262f4f" stroke-width="1.45"/>
<rect x="228.53" y="544.52" width="6.95" height="6.95" fill="none" stroke="#262f4f" stroke-width="1.45"/>
<line x1="213.00" y1="545.40" x2="244.60" y2="545.40" stroke="#000" stroke-width="1.6"/>
<line x1="309.30" y1="346.00" x2="309.30" y2="549.80" stroke="#000" stroke-width="1.8"/>
<line x1="304.50" y1="549.00" x2="309.30" y2="549.00" stroke="#000" stroke-width="1.5"/>
<text x="301.30" y="552.50" font-size="11.3" text-anchor="end" font-weight="normal" >0</text>
<line x1="304.50" y1="520.57" x2="309.30" y2="520.57" stroke="#000" stroke-width="1.5"/>
<text x="301.30" y="524.07" font-size="11.3" text-anchor="end" font-weight="normal" >10</text>
<line x1="304.50" y1="492.14" x2="309.30" y2="492.14" stroke="#000" stroke-width="1.5"/>
<text x="301.30" y="495.64" font-size="11.3" text-anchor="end" font-weight="normal" >20</text>
<line x1="304.50" y1="463.71" x2="309.30" y2="463.71" stroke="#000" stroke-width="1.5"/>
<text x="301.30" y="467.21" font-size="11.3" text-anchor="end" font-weight="normal" >30</text>
<line x1="304.50" y1="435.28" x2="309.30" y2="435.28" stroke="#000" stroke-width="1.5"/>
<text x="301.30" y="438.78" font-size="11.3" text-anchor="end" font-weight="normal" >40</text>
<line x1="304.50" y1="406.85" x2="309.30" y2="406.85" stroke="#000" stroke-width="1.5"/>
<text x="301.30" y="410.35" font-size="11.3" text-anchor="end" font-weight="normal" >50</text>
<line x1="304.50" y1="378.42" x2="309.30" y2="378.42" stroke="#000" stroke-width="1.5"/>
<text x="301.30" y="381.92" font-size="11.3" text-anchor="end" font-weight="normal" >60</text>
<line x1="304.50" y1="349.99" x2="309.30" y2="349.99" stroke="#000" stroke-width="1.5"/>
<text x="301.30" y="353.49" font-size="11.3" text-anchor="end" font-weight="normal" >70</text>
<line x1="304.50" y1="549.00" x2="492.00" y2="549.00" stroke="#000" stroke-width="1.8"/>
<text transform="translate(280.20,447.8) rotate(-90)" font-size="12" text-anchor="middle">% Ki-67-positive B cells</text>
<line x1="333.30" y1="549.00" x2="333.30" y2="555.00" stroke="#000" stroke-width="1.5"/>
<line x1="380.30" y1="549.00" x2="380.30" y2="555.00" stroke="#000" stroke-width="1.5"/>
<line x1="428.30" y1="549.00" x2="428.30" y2="555.00" stroke="#000" stroke-width="1.5"/>
<line x1="476.50" y1="549.00" x2="476.50" y2="555.00" stroke="#000" stroke-width="1.5"/>
<text x="333.30" y="567.40" font-size="11.2" text-anchor="middle" font-weight="normal" >Active</text>
<text x="380.30" y="567.40" font-size="11.2" text-anchor="middle" font-weight="normal" >No</text>
<text x="428.30" y="567.40" font-size="11.2" text-anchor="middle" font-weight="normal" >Active</text>
<text x="476.50" y="567.40" font-size="11.2" text-anchor="middle" font-weight="normal" >No</text>
<line x1="319.00" y1="574.00" x2="382.70" y2="574.00" stroke="#000" stroke-width="1.5"/>
<line x1="411.50" y1="574.00" x2="480.80" y2="574.00" stroke="#000" stroke-width="1.5"/>
<text x="317.50" y="588.30" font-size="11.2" text-anchor="end" font-weight="normal" >anti-IgM:</text>
<text x="317.50" y="604.60" font-size="11.2" text-anchor="end" font-weight="normal" >DAPT:</text>
<text x="355.00" y="589.50" font-size="11" text-anchor="middle" font-weight="normal" >-</text>
<text x="355.00" y="604.50" font-size="11" text-anchor="middle" font-weight="normal" >-</text>
<text x="449.20" y="589.50" font-size="11" text-anchor="middle" font-weight="normal" >-</text>
<text x="449.20" y="605.00" font-size="11" text-anchor="middle" font-weight="normal" >+</text>
<line x1="331.20" y1="465.40" x2="426.00" y2="465.40" stroke="#000" stroke-width="1.5"/>
<text x="378.40" y="463.60" font-size="11" text-anchor="middle" font-weight="normal" >**</text>
<line x1="333.50" y1="485.70" x2="378.00" y2="485.70" stroke="#000" stroke-width="1.5"/>
<text x="355.90" y="483.90" font-size="11" text-anchor="middle" font-weight="normal" >**</text>
<rect x="329.35" y="492.15" width="8.10" height="8.10" fill="#b80b3d" stroke="#8e0b2f" stroke-width="0.9"/>
<rect x="322.45" y="522.95" width="8.10" height="8.10" fill="#b80b3d" stroke="#8e0b2f" stroke-width="0.9"/>
<rect x="335.95" y="522.95" width="8.10" height="8.10" fill="#b80b3d" stroke="#8e0b2f" stroke-width="0.9"/>
<rect x="318.45" y="527.45" width="8.10" height="8.10" fill="#b80b3d" stroke="#8e0b2f" stroke-width="0.9"/>
<rect x="339.95" y="527.45" width="8.10" height="8.10" fill="#b80b3d" stroke="#8e0b2f" stroke-width="0.9"/>
<rect x="328.95" y="526.95" width="8.10" height="8.10" fill="#b80b3d" stroke="#8e0b2f" stroke-width="0.9"/>
<rect x="322.95" y="531.95" width="8.10" height="8.10" fill="#b80b3d" stroke="#8e0b2f" stroke-width="0.9"/>
<rect x="333.95" y="531.95" width="8.10" height="8.10" fill="#b80b3d" stroke="#8e0b2f" stroke-width="0.9"/>
<rect x="329.45" y="534.15" width="8.10" height="8.10" fill="#b80b3d" stroke="#8e0b2f" stroke-width="0.9"/>
<line x1="333.40" y1="496.20" x2="333.40" y2="540.00" stroke="#000" stroke-width="1.5"/>
<line x1="325.80" y1="496.20" x2="340.40" y2="496.20" stroke="#000" stroke-width="1.6"/>
<line x1="317.70" y1="527.80" x2="349.00" y2="527.80" stroke="#000" stroke-width="1.6"/>
<rect x="368.93" y="538.93" width="7.15" height="7.15" fill="none" stroke="#30457a" stroke-width="1.45"/>
<rect x="376.43" y="538.93" width="7.15" height="7.15" fill="none" stroke="#30457a" stroke-width="1.45"/>
<rect x="383.93" y="537.43" width="7.15" height="7.15" fill="none" stroke="#30457a" stroke-width="1.45"/>
<rect x="385.43" y="539.93" width="7.15" height="7.15" fill="none" stroke="#30457a" stroke-width="1.45"/>
<rect x="373.43" y="543.43" width="7.15" height="7.15" fill="none" stroke="#30457a" stroke-width="1.45"/>
<rect x="380.43" y="542.93" width="7.15" height="7.15" fill="none" stroke="#30457a" stroke-width="1.45"/>
<rect x="366.43" y="541.43" width="7.15" height="7.15" fill="none" stroke="#30457a" stroke-width="1.45"/>
<line x1="365.00" y1="543.70" x2="396.20" y2="543.70" stroke="#000" stroke-width="1.6"/>
<rect x="418.45" y="540.95" width="8.10" height="8.10" fill="#b80b3d" stroke="#8e0b2f" stroke-width="0.9"/>
<rect x="424.95" y="541.45" width="8.10" height="8.10" fill="#b80b3d" stroke="#8e0b2f" stroke-width="0.9"/>
<rect x="430.45" y="536.45" width="8.10" height="8.10" fill="#b80b3d" stroke="#8e0b2f" stroke-width="0.9"/>
<rect x="420.95" y="542.95" width="8.10" height="8.10" fill="#b80b3d" stroke="#8e0b2f" stroke-width="0.9"/>
<rect x="428.95" y="541.95" width="8.10" height="8.10" fill="#b80b3d" stroke="#8e0b2f" stroke-width="0.9"/>
<line x1="412.50" y1="544.60" x2="444.20" y2="544.60" stroke="#000" stroke-width="1.6"/>
<line x1="421.00" y1="540.20" x2="433.00" y2="540.20" stroke="#000" stroke-width="1.4"/>
<line x1="428.00" y1="540.20" x2="428.00" y2="548.00" stroke="#000" stroke-width="1.2"/>
<rect x="465.93" y="543.93" width="7.15" height="7.15" fill="none" stroke="#3a5390" stroke-width="1.45"/>
<rect x="472.43" y="543.93" width="7.15" height="7.15" fill="none" stroke="#3a5390" stroke-width="1.45"/>
<rect x="478.93" y="543.93" width="7.15" height="7.15" fill="none" stroke="#3a5390" stroke-width="1.45"/>
<rect x="465.93" y="545.43" width="7.15" height="7.15" fill="none" stroke="#3a5390" stroke-width="1.45"/>
<rect x="472.43" y="545.43" width="7.15" height="7.15" fill="none" stroke="#3a5390" stroke-width="1.45"/>
<rect x="478.93" y="545.43" width="7.15" height="7.15" fill="none" stroke="#3a5390" stroke-width="1.45"/>
<line x1="466.00" y1="547.60" x2="488.00" y2="547.60" stroke="#000" stroke-width="1.6"/>
<path d="M63.30,787.50 C64.22,786.75 67.13,785.08 68.80,783.00 C70.47,780.92 71.82,778.83 73.30,775.00 C74.78,771.17 76.42,765.83 77.70,760.00 C78.98,754.17 79.98,746.67 81.00,740.00 C82.02,733.33 82.88,726.67 83.80,720.00 C84.72,713.33 85.78,705.33 86.50,700.00 C87.22,694.67 87.68,691.33 88.10,688.00 C88.52,684.67 88.70,682.83 89.00,680.00 C89.30,677.17 89.52,673.50 89.90,671.00 C90.28,668.50 90.77,666.42 91.30,665.00 C91.83,663.58 92.42,662.53 93.10,662.50 C93.78,662.47 94.73,664.13 95.40,664.80 C96.07,665.47 96.62,665.45 97.10,666.50 C97.58,667.55 97.92,669.18 98.30,671.10 C98.68,673.02 99.02,675.68 99.40,678.00 C99.78,680.32 100.22,682.68 100.60,685.00 C100.98,687.32 101.22,688.57 101.70,691.90 C102.18,695.23 102.78,699.15 103.50,705.00 C104.22,710.85 104.78,718.53 106.00,727.00 C107.22,735.47 108.72,748.13 110.80,755.80 C112.88,763.47 115.63,768.20 118.50,773.00 C121.37,777.80 125.42,782.18 128.00,784.60 C130.58,787.02 133.00,787.02 134.00,787.50 Z" fill="#cdcdcd" fill-opacity="1.0" stroke="none"/>
<path d="M63.30,787.50 C64.22,786.75 67.13,785.08 68.80,783.00 C70.47,780.92 71.82,778.83 73.30,775.00 C74.78,771.17 76.42,765.83 77.70,760.00 C78.98,754.17 79.98,746.67 81.00,740.00 C82.02,733.33 82.88,726.67 83.80,720.00 C84.72,713.33 85.78,705.33 86.50,700.00 C87.22,694.67 87.68,691.33 88.10,688.00 C88.52,684.67 88.70,682.83 89.00,680.00 C89.30,677.17 89.52,673.50 89.90,671.00 C90.28,668.50 90.77,666.42 91.30,665.00 C91.83,663.58 92.42,662.53 93.10,662.50 C93.78,662.47 94.73,664.13 95.40,664.80 C96.07,665.47 96.62,665.45 97.10,666.50 C97.58,667.55 97.92,669.18 98.30,671.10 C98.68,673.02 99.02,675.68 99.40,678.00 C99.78,680.32 100.22,682.68 100.60,685.00 C100.98,687.32 101.22,688.57 101.70,691.90 C102.18,695.23 102.78,699.15 103.50,705.00 C104.22,710.85 104.78,718.53 106.00,727.00 C107.22,735.47 108.72,748.13 110.80,755.80 C112.88,763.47 115.63,768.20 118.50,773.00 C121.37,777.80 125.42,782.18 128.00,784.60 C130.58,787.02 133.00,787.02 134.00,787.50" fill="none" stroke="#262626" stroke-width="1.7" stroke-linejoin="round"/>
<path d="M80.40,787.50 C81.15,786.75 83.33,785.08 84.90,783.00 C86.47,780.92 88.23,778.83 89.80,775.00 C91.37,771.17 93.00,765.83 94.30,760.00 C95.60,754.17 96.78,746.67 97.60,740.00 C98.42,733.33 98.67,725.83 99.20,720.00 C99.73,714.17 100.28,710.00 100.80,705.00 C101.32,700.00 101.77,694.17 102.30,690.00 C102.83,685.83 103.42,683.33 104.00,680.00 C104.58,676.67 105.32,672.00 105.80,670.00 C106.28,668.00 106.43,668.70 106.90,668.00 C107.37,667.30 108.12,665.67 108.60,665.80 C109.08,665.93 109.40,667.77 109.80,668.80 C110.20,669.83 110.55,669.80 111.00,672.00 C111.45,674.20 111.90,677.67 112.50,682.00 C113.10,686.33 113.60,690.50 114.60,698.00 C115.60,705.50 117.05,717.05 118.50,727.00 C119.95,736.95 121.38,748.73 123.30,757.70 C125.22,766.67 127.72,775.83 130.00,780.80 C132.28,785.77 135.83,786.38 137.00,787.50 Z" fill="#b5cde6" fill-opacity="0.45" stroke="none"/>
<path d="M80.40,787.50 C81.15,786.75 83.33,785.08 84.90,783.00 C86.47,780.92 88.23,778.83 89.80,775.00 C91.37,771.17 93.00,765.83 94.30,760.00 C95.60,754.17 96.78,746.67 97.60,740.00 C98.42,733.33 98.67,725.83 99.20,720.00 C99.73,714.17 100.28,710.00 100.80,705.00 C101.32,700.00 101.77,694.17 102.30,690.00 C102.83,685.83 103.42,683.33 104.00,680.00 C104.58,676.67 105.32,672.00 105.80,670.00 C106.28,668.00 106.43,668.70 106.90,668.00 C107.37,667.30 108.12,665.67 108.60,665.80 C109.08,665.93 109.40,667.77 109.80,668.80 C110.20,669.83 110.55,669.80 111.00,672.00 C111.45,674.20 111.90,677.67 112.50,682.00 C113.10,686.33 113.60,690.50 114.60,698.00 C115.60,705.50 117.05,717.05 118.50,727.00 C119.95,736.95 121.38,748.73 123.30,757.70 C125.22,766.67 127.72,775.83 130.00,780.80 C132.28,785.77 135.83,786.38 137.00,787.50" fill="none" stroke="#6fa3da" stroke-width="1.6" stroke-linejoin="round"/>
<path d="M81.50,787.50 C82.62,786.75 86.27,785.08 88.20,783.00 C90.13,780.92 91.45,778.83 93.10,775.00 C94.75,771.17 96.78,766.33 98.10,760.00 C99.42,753.67 100.10,744.50 101.00,737.00 C101.90,729.50 102.70,721.17 103.50,715.00 C104.30,708.83 104.95,705.83 105.80,700.00 C106.65,694.17 107.83,685.00 108.60,680.00 C109.37,675.00 109.80,672.58 110.40,670.00 C111.00,667.42 111.53,666.20 112.20,664.50 C112.87,662.80 113.88,659.97 114.40,659.80 C114.92,659.63 115.02,661.55 115.30,663.50 C115.58,665.45 115.82,669.92 116.10,671.50 C116.38,673.08 116.62,672.58 117.00,673.00 C117.38,673.42 117.97,672.20 118.40,674.00 C118.83,675.80 119.02,679.30 119.60,683.80 C120.18,688.30 121.23,695.80 121.90,701.00 C122.57,706.20 123.05,710.03 123.60,715.00 C124.15,719.97 124.30,724.33 125.20,730.80 C126.10,737.27 127.57,747.07 129.00,753.80 C130.43,760.53 132.03,766.07 133.80,771.20 C135.57,776.33 137.90,781.88 139.60,784.60 C141.30,787.32 143.27,787.02 144.00,787.50 Z" fill="#f2cf94" fill-opacity="0.5" stroke="none"/>
<path d="M81.50,787.50 C82.62,786.75 86.27,785.08 88.20,783.00 C90.13,780.92 91.45,778.83 93.10,775.00 C94.75,771.17 96.78,766.33 98.10,760.00 C99.42,753.67 100.10,744.50 101.00,737.00 C101.90,729.50 102.70,721.17 103.50,715.00 C104.30,708.83 104.95,705.83 105.80,700.00 C106.65,694.17 107.83,685.00 108.60,680.00 C109.37,675.00 109.80,672.58 110.40,670.00 C111.00,667.42 111.53,666.20 112.20,664.50 C112.87,662.80 113.88,659.97 114.40,659.80 C114.92,659.63 115.02,661.55 115.30,663.50 C115.58,665.45 115.82,669.92 116.10,671.50 C116.38,673.08 116.62,672.58 117.00,673.00 C117.38,673.42 117.97,672.20 118.40,674.00 C118.83,675.80 119.02,679.30 119.60,683.80 C120.18,688.30 121.23,695.80 121.90,701.00 C122.57,706.20 123.05,710.03 123.60,715.00 C124.15,719.97 124.30,724.33 125.20,730.80 C126.10,737.27 127.57,747.07 129.00,753.80 C130.43,760.53 132.03,766.07 133.80,771.20 C135.57,776.33 137.90,781.88 139.60,784.60 C141.30,787.32 143.27,787.02 144.00,787.50" fill="none" stroke="#d8962c" stroke-width="1.6" stroke-linejoin="round"/>
<path d="M46.20,787.70 L46.20,648.80 L205.40,648.80 L205.40,787.70" fill="none" stroke="#000" stroke-width="1.6"/>
<line x1="41.70" y1="787.70" x2="206.20" y2="787.70" stroke="#000" stroke-width="1.6"/>
<line x1="43.60" y1="782.42" x2="46.20" y2="782.42" stroke="#000" stroke-width="1.3"/>
<line x1="43.60" y1="777.14" x2="46.20" y2="777.14" stroke="#000" stroke-width="1.3"/>
<line x1="43.60" y1="771.86" x2="46.20" y2="771.86" stroke="#000" stroke-width="1.3"/>
<line x1="43.60" y1="766.58" x2="46.20" y2="766.58" stroke="#000" stroke-width="1.3"/>
<line x1="41.70" y1="761.30" x2="46.20" y2="761.30" stroke="#000" stroke-width="1.3"/>
<line x1="43.60" y1="756.02" x2="46.20" y2="756.02" stroke="#000" stroke-width="1.3"/>
<line x1="43.60" y1="750.74" x2="46.20" y2="750.74" stroke="#000" stroke-width="1.3"/>
<line x1="43.60" y1="745.46" x2="46.20" y2="745.46" stroke="#000" stroke-width="1.3"/>
<line x1="43.60" y1="740.18" x2="46.20" y2="740.18" stroke="#000" stroke-width="1.3"/>
<line x1="41.70" y1="734.90" x2="46.20" y2="734.90" stroke="#000" stroke-width="1.3"/>
<line x1="43.60" y1="729.62" x2="46.20" y2="729.62" stroke="#000" stroke-width="1.3"/>
<line x1="43.60" y1="724.34" x2="46.20" y2="724.34" stroke="#000" stroke-width="1.3"/>
<line x1="43.60" y1="719.06" x2="46.20" y2="719.06" stroke="#000" stroke-width="1.3"/>
<line x1="43.60" y1="713.78" x2="46.20" y2="713.78" stroke="#000" stroke-width="1.3"/>
<line x1="41.70" y1="708.50" x2="46.20" y2="708.50" stroke="#000" stroke-width="1.3"/>
<line x1="43.60" y1="703.22" x2="46.20" y2="703.22" stroke="#000" stroke-width="1.3"/>
<line x1="43.60" y1="697.94" x2="46.20" y2="697.94" stroke="#000" stroke-width="1.3"/>
<line x1="43.60" y1="692.66" x2="46.20" y2="692.66" stroke="#000" stroke-width="1.3"/>
<line x1="43.60" y1="687.38" x2="46.20" y2="687.38" stroke="#000" stroke-width="1.3"/>
<line x1="41.70" y1="682.10" x2="46.20" y2="682.10" stroke="#000" stroke-width="1.3"/>
<line x1="43.60" y1="676.82" x2="46.20" y2="676.82" stroke="#000" stroke-width="1.3"/>
<line x1="43.60" y1="671.54" x2="46.20" y2="671.54" stroke="#000" stroke-width="1.3"/>
<line x1="43.60" y1="666.26" x2="46.20" y2="666.26" stroke="#000" stroke-width="1.3"/>
<line x1="43.60" y1="660.98" x2="46.20" y2="660.98" stroke="#000" stroke-width="1.3"/>
<line x1="41.70" y1="655.70" x2="46.20" y2="655.70" stroke="#000" stroke-width="1.3"/>
<line x1="43.60" y1="650.42" x2="46.20" y2="650.42" stroke="#000" stroke-width="1.3"/>
<line x1="51.50" y1="787.70" x2="51.50" y2="791.50" stroke="#000" stroke-width="1.2"/>
<line x1="70.20" y1="787.70" x2="70.20" y2="791.50" stroke="#000" stroke-width="1.2"/>
<line x1="93.00" y1="787.70" x2="93.00" y2="791.50" stroke="#000" stroke-width="1.2"/>
<line x1="150.00" y1="787.70" x2="150.00" y2="791.50" stroke="#000" stroke-width="1.2"/>
<line x1="204.00" y1="787.70" x2="204.00" y2="791.50" stroke="#000" stroke-width="1.2"/>
<line x1="52.50" y1="787.70" x2="52.50" y2="790.50" stroke="#000" stroke-width="1.2"/>
<line x1="54.50" y1="787.70" x2="54.50" y2="790.50" stroke="#000" stroke-width="1.2"/>
<line x1="56.50" y1="787.70" x2="56.50" y2="790.50" stroke="#000" stroke-width="1.2"/>
<line x1="58.50" y1="787.70" x2="58.50" y2="790.50" stroke="#000" stroke-width="1.2"/>
<line x1="60.50" y1="787.70" x2="60.50" y2="790.50" stroke="#000" stroke-width="1.2"/>
<line x1="62.50" y1="787.70" x2="62.50" y2="790.50" stroke="#000" stroke-width="1.2"/>
<line x1="64.50" y1="787.70" x2="64.50" y2="790.50" stroke="#000" stroke-width="1.2"/>
<line x1="66.50" y1="787.70" x2="66.50" y2="790.50" stroke="#000" stroke-width="1.2"/>
<line x1="68.50" y1="787.70" x2="68.50" y2="790.50" stroke="#000" stroke-width="1.2"/>
<line x1="70.50" y1="787.70" x2="70.50" y2="790.50" stroke="#000" stroke-width="1.2"/>
<line x1="72.50" y1="787.70" x2="72.50" y2="790.50" stroke="#000" stroke-width="1.2"/>
<line x1="74.50" y1="787.70" x2="74.50" y2="790.50" stroke="#000" stroke-width="1.2"/>
<line x1="76.50" y1="787.70" x2="76.50" y2="790.50" stroke="#000" stroke-width="1.2"/>
<line x1="78.50" y1="787.70" x2="78.50" y2="790.50" stroke="#000" stroke-width="1.2"/>
<line x1="80.50" y1="787.70" x2="80.50" y2="790.50" stroke="#000" stroke-width="1.2"/>
<line x1="82.50" y1="787.70" x2="82.50" y2="790.50" stroke="#000" stroke-width="1.2"/>
<line x1="84.50" y1="787.70" x2="84.50" y2="790.50" stroke="#000" stroke-width="1.2"/>
<line x1="86.50" y1="787.70" x2="86.50" y2="790.50" stroke="#000" stroke-width="1.2"/>
<line x1="88.50" y1="787.70" x2="88.50" y2="790.50" stroke="#000" stroke-width="1.2"/>
<line x1="90.50" y1="787.70" x2="90.50" y2="790.50" stroke="#000" stroke-width="1.2"/>
<line x1="92.50" y1="787.70" x2="92.50" y2="790.50" stroke="#000" stroke-width="1.2"/>
<line x1="110.16" y1="787.70" x2="110.16" y2="790.50" stroke="#000" stroke-width="1.2"/>
<line x1="166.26" y1="787.70" x2="166.26" y2="790.50" stroke="#000" stroke-width="1.2"/>
<line x1="120.20" y1="787.70" x2="120.20" y2="790.50" stroke="#000" stroke-width="1.2"/>
<line x1="175.76" y1="787.70" x2="175.76" y2="790.50" stroke="#000" stroke-width="1.2"/>
<line x1="127.32" y1="787.70" x2="127.32" y2="790.50" stroke="#000" stroke-width="1.2"/>
<line x1="182.51" y1="787.70" x2="182.51" y2="790.50" stroke="#000" stroke-width="1.2"/>
<line x1="132.84" y1="787.70" x2="132.84" y2="790.50" stroke="#000" stroke-width="1.2"/>
<line x1="187.74" y1="787.70" x2="187.74" y2="790.50" stroke="#000" stroke-width="1.2"/>
<line x1="137.35" y1="787.70" x2="137.35" y2="790.50" stroke="#000" stroke-width="1.2"/>
<line x1="192.02" y1="787.70" x2="192.02" y2="790.50" stroke="#000" stroke-width="1.2"/>
<line x1="141.17" y1="787.70" x2="141.17" y2="790.50" stroke="#000" stroke-width="1.2"/>
<line x1="195.64" y1="787.70" x2="195.64" y2="790.50" stroke="#000" stroke-width="1.2"/>
<line x1="144.48" y1="787.70" x2="144.48" y2="790.50" stroke="#000" stroke-width="1.2"/>
<line x1="198.77" y1="787.70" x2="198.77" y2="790.50" stroke="#000" stroke-width="1.2"/>
<line x1="147.39" y1="787.70" x2="147.39" y2="790.50" stroke="#000" stroke-width="1.2"/>
<line x1="201.53" y1="787.70" x2="201.53" y2="790.50" stroke="#000" stroke-width="1.2"/>
<text x="44.00" y="804.10" font-size="8.7">-10<tspan font-size="6.2" dy="-4.3">2</tspan></text>
<text x="72.70" y="804.10" font-size="8.7" text-anchor="middle" font-weight="normal" >0</text>
<text x="86.60" y="804.10" font-size="8.7">10<tspan font-size="6.2" dy="-4.3">2</tspan></text>
<text x="143.00" y="804.10" font-size="8.7">10<tspan font-size="6.2" dy="-4.3">3</tspan></text>
<text x="196.70" y="804.10" font-size="8.7">10<tspan font-size="6.2" dy="-4.3">4</tspan></text>
<path d="M64.60,951.50 C65.72,950.33 69.57,947.08 71.30,944.50 C73.03,941.92 73.90,938.93 75.00,936.00 C76.10,933.07 76.78,931.60 77.90,926.90 C79.02,922.20 80.63,914.17 81.70,907.80 C82.77,901.43 83.55,895.00 84.30,888.70 C85.05,882.40 85.50,876.45 86.20,870.00 C86.90,863.55 87.83,855.83 88.50,850.00 C89.17,844.17 89.70,838.42 90.20,835.00 C90.70,831.58 91.02,830.80 91.50,829.50 C91.98,828.20 92.35,827.15 93.10,827.20 C93.85,827.25 95.23,828.50 96.00,829.80 C96.77,831.10 97.13,832.80 97.70,835.00 C98.27,837.20 98.83,839.73 99.40,843.00 C99.97,846.27 100.62,850.75 101.10,854.60 C101.58,858.45 101.90,863.20 102.30,866.10 C102.70,869.00 102.88,867.68 103.50,872.00 C104.12,876.32 104.78,884.83 106.00,892.00 C107.22,899.17 108.72,907.97 110.80,915.00 C112.88,922.03 116.42,929.70 118.50,934.20 C120.58,938.70 121.72,939.43 123.30,942.00 C124.88,944.57 126.55,948.02 128.00,949.60 C129.45,951.18 131.33,951.18 132.00,951.50 Z" fill="#cdcdcd" fill-opacity="1.0" stroke="none"/>
<path d="M64.60,951.50 C65.72,950.33 69.57,947.08 71.30,944.50 C73.03,941.92 73.90,938.93 75.00,936.00 C76.10,933.07 76.78,931.60 77.90,926.90 C79.02,922.20 80.63,914.17 81.70,907.80 C82.77,901.43 83.55,895.00 84.30,888.70 C85.05,882.40 85.50,876.45 86.20,870.00 C86.90,863.55 87.83,855.83 88.50,850.00 C89.17,844.17 89.70,838.42 90.20,835.00 C90.70,831.58 91.02,830.80 91.50,829.50 C91.98,828.20 92.35,827.15 93.10,827.20 C93.85,827.25 95.23,828.50 96.00,829.80 C96.77,831.10 97.13,832.80 97.70,835.00 C98.27,837.20 98.83,839.73 99.40,843.00 C99.97,846.27 100.62,850.75 101.10,854.60 C101.58,858.45 101.90,863.20 102.30,866.10 C102.70,869.00 102.88,867.68 103.50,872.00 C104.12,876.32 104.78,884.83 106.00,892.00 C107.22,899.17 108.72,907.97 110.80,915.00 C112.88,922.03 116.42,929.70 118.50,934.20 C120.58,938.70 121.72,939.43 123.30,942.00 C124.88,944.57 126.55,948.02 128.00,949.60 C129.45,951.18 131.33,951.18 132.00,951.50" fill="none" stroke="#262626" stroke-width="1.7" stroke-linejoin="round"/>
<path d="M78.00,951.50 C78.67,951.00 80.27,950.22 82.00,948.50 C83.73,946.78 86.38,944.80 88.40,941.20 C90.42,937.60 92.60,932.47 94.10,926.90 C95.60,921.33 96.45,914.17 97.40,907.80 C98.35,901.43 98.83,894.83 99.80,888.70 C100.77,882.57 102.40,876.68 103.20,871.00 C104.00,865.32 104.08,859.27 104.60,854.60 C105.12,849.93 105.72,846.27 106.30,843.00 C106.88,839.73 107.57,837.00 108.10,835.00 C108.63,833.00 109.02,831.48 109.50,831.00 C109.98,830.52 110.47,832.68 111.00,832.10 C111.53,831.52 112.23,828.47 112.70,827.50 C113.17,826.53 113.45,825.38 113.80,826.30 C114.15,827.22 114.50,830.22 114.80,833.00 C115.10,835.78 115.15,838.63 115.60,843.00 C116.05,847.37 116.70,852.00 117.50,859.20 C118.30,866.40 119.28,877.53 120.40,886.20 C121.52,894.87 122.93,903.20 124.20,911.20 C125.47,919.20 126.72,928.43 128.00,934.20 C129.28,939.97 130.57,942.92 131.90,945.80 C133.23,948.68 135.32,950.55 136.00,951.50 Z" fill="#b5cde6" fill-opacity="0.45" stroke="none"/>
<path d="M78.00,951.50 C78.67,951.00 80.27,950.22 82.00,948.50 C83.73,946.78 86.38,944.80 88.40,941.20 C90.42,937.60 92.60,932.47 94.10,926.90 C95.60,921.33 96.45,914.17 97.40,907.80 C98.35,901.43 98.83,894.83 99.80,888.70 C100.77,882.57 102.40,876.68 103.20,871.00 C104.00,865.32 104.08,859.27 104.60,854.60 C105.12,849.93 105.72,846.27 106.30,843.00 C106.88,839.73 107.57,837.00 108.10,835.00 C108.63,833.00 109.02,831.48 109.50,831.00 C109.98,830.52 110.47,832.68 111.00,832.10 C111.53,831.52 112.23,828.47 112.70,827.50 C113.17,826.53 113.45,825.38 113.80,826.30 C114.15,827.22 114.50,830.22 114.80,833.00 C115.10,835.78 115.15,838.63 115.60,843.00 C116.05,847.37 116.70,852.00 117.50,859.20 C118.30,866.40 119.28,877.53 120.40,886.20 C121.52,894.87 122.93,903.20 124.20,911.20 C125.47,919.20 126.72,928.43 128.00,934.20 C129.28,939.97 130.57,942.92 131.90,945.80 C133.23,948.68 135.32,950.55 136.00,951.50" fill="none" stroke="#6fa3da" stroke-width="1.6" stroke-linejoin="round"/>
<path d="M81.70,951.50 C82.17,951.17 83.23,951.22 84.50,949.50 C85.77,947.78 87.38,944.97 89.30,941.20 C91.22,937.43 94.17,932.47 96.00,926.90 C97.83,921.33 99.02,914.17 100.30,907.80 C101.58,901.43 102.83,894.00 103.70,888.70 C104.57,883.40 104.87,881.68 105.50,876.00 C106.13,870.32 106.98,859.32 107.50,854.60 C108.02,849.88 108.02,849.05 108.60,847.70 C109.18,846.35 110.22,847.28 111.00,846.50 C111.78,845.72 112.67,845.12 113.30,843.00 C113.93,840.88 114.33,835.90 114.80,833.80 C115.27,831.70 115.58,831.35 116.10,830.40 C116.62,829.45 117.35,827.72 117.90,828.10 C118.45,828.48 118.92,832.13 119.40,832.70 C119.88,833.27 120.38,830.93 120.80,831.50 C121.22,832.07 121.43,836.10 121.90,836.10 C122.37,836.10 123.12,831.40 123.60,831.50 C124.08,831.60 124.40,833.62 124.80,836.70 C125.20,839.78 125.42,847.50 126.00,850.00 C126.58,852.50 127.53,849.40 128.30,851.70 C129.07,854.00 129.93,859.85 130.60,863.80 C131.27,867.75 131.73,870.53 132.30,875.40 C132.87,880.27 133.27,886.40 134.00,893.00 C134.73,899.60 135.77,908.13 136.70,915.00 C137.63,921.87 138.47,929.07 139.60,934.20 C140.73,939.33 142.10,942.92 143.50,945.80 C144.90,948.68 147.25,950.55 148.00,951.50 Z" fill="#f2cf94" fill-opacity="0.5" stroke="none"/>
<path d="M81.70,951.50 C82.17,951.17 83.23,951.22 84.50,949.50 C85.77,947.78 87.38,944.97 89.30,941.20 C91.22,937.43 94.17,932.47 96.00,926.90 C97.83,921.33 99.02,914.17 100.30,907.80 C101.58,901.43 102.83,894.00 103.70,888.70 C104.57,883.40 104.87,881.68 105.50,876.00 C106.13,870.32 106.98,859.32 107.50,854.60 C108.02,849.88 108.02,849.05 108.60,847.70 C109.18,846.35 110.22,847.28 111.00,846.50 C111.78,845.72 112.67,845.12 113.30,843.00 C113.93,840.88 114.33,835.90 114.80,833.80 C115.27,831.70 115.58,831.35 116.10,830.40 C116.62,829.45 117.35,827.72 117.90,828.10 C118.45,828.48 118.92,832.13 119.40,832.70 C119.88,833.27 120.38,830.93 120.80,831.50 C121.22,832.07 121.43,836.10 121.90,836.10 C122.37,836.10 123.12,831.40 123.60,831.50 C124.08,831.60 124.40,833.62 124.80,836.70 C125.20,839.78 125.42,847.50 126.00,850.00 C126.58,852.50 127.53,849.40 128.30,851.70 C129.07,854.00 129.93,859.85 130.60,863.80 C131.27,867.75 131.73,870.53 132.30,875.40 C132.87,880.27 133.27,886.40 134.00,893.00 C134.73,899.60 135.77,908.13 136.70,915.00 C137.63,921.87 138.47,929.07 139.60,934.20 C140.73,939.33 142.10,942.92 143.50,945.80 C144.90,948.68 147.25,950.55 148.00,951.50" fill="none" stroke="#d8962c" stroke-width="1.6" stroke-linejoin="round"/>
<path d="M46.20,952.00 L46.20,812.90 L205.40,812.90 L205.40,952.00" fill="none" stroke="#000" stroke-width="1.6"/>
<line x1="41.70" y1="952.00" x2="206.20" y2="952.00" stroke="#000" stroke-width="1.6"/>
<line x1="43.60" y1="946.72" x2="46.20" y2="946.72" stroke="#000" stroke-width="1.3"/>
<line x1="43.60" y1="941.44" x2="46.20" y2="941.44" stroke="#000" stroke-width="1.3"/>
<line x1="43.60" y1="936.16" x2="46.20" y2="936.16" stroke="#000" stroke-width="1.3"/>
<line x1="43.60" y1="930.88" x2="46.20" y2="930.88" stroke="#000" stroke-width="1.3"/>
<line x1="41.70" y1="925.60" x2="46.20" y2="925.60" stroke="#000" stroke-width="1.3"/>
<line x1="43.60" y1="920.32" x2="46.20" y2="920.32" stroke="#000" stroke-width="1.3"/>
<line x1="43.60" y1="915.04" x2="46.20" y2="915.04" stroke="#000" stroke-width="1.3"/>
<line x1="43.60" y1="909.76" x2="46.20" y2="909.76" stroke="#000" stroke-width="1.3"/>
<line x1="43.60" y1="904.48" x2="46.20" y2="904.48" stroke="#000" stroke-width="1.3"/>
<line x1="41.70" y1="899.20" x2="46.20" y2="899.20" stroke="#000" stroke-width="1.3"/>
<line x1="43.60" y1="893.92" x2="46.20" y2="893.92" stroke="#000" stroke-width="1.3"/>
<line x1="43.60" y1="888.64" x2="46.20" y2="888.64" stroke="#000" stroke-width="1.3"/>
<line x1="43.60" y1="883.36" x2="46.20" y2="883.36" stroke="#000" stroke-width="1.3"/>
<line x1="43.60" y1="878.08" x2="46.20" y2="878.08" stroke="#000" stroke-width="1.3"/>
<line x1="41.70" y1="872.80" x2="46.20" y2="872.80" stroke="#000" stroke-width="1.3"/>
<line x1="43.60" y1="867.52" x2="46.20" y2="867.52" stroke="#000" stroke-width="1.3"/>
<line x1="43.60" y1="862.24" x2="46.20" y2="862.24" stroke="#000" stroke-width="1.3"/>
<line x1="43.60" y1="856.96" x2="46.20" y2="856.96" stroke="#000" stroke-width="1.3"/>
<line x1="43.60" y1="851.68" x2="46.20" y2="851.68" stroke="#000" stroke-width="1.3"/>
<line x1="41.70" y1="846.40" x2="46.20" y2="846.40" stroke="#000" stroke-width="1.3"/>
<line x1="43.60" y1="841.12" x2="46.20" y2="841.12" stroke="#000" stroke-width="1.3"/>
<line x1="43.60" y1="835.84" x2="46.20" y2="835.84" stroke="#000" stroke-width="1.3"/>
<line x1="43.60" y1="830.56" x2="46.20" y2="830.56" stroke="#000" stroke-width="1.3"/>
<line x1="43.60" y1="825.28" x2="46.20" y2="825.28" stroke="#000" stroke-width="1.3"/>
<line x1="41.70" y1="820.00" x2="46.20" y2="820.00" stroke="#000" stroke-width="1.3"/>
<line x1="43.60" y1="814.72" x2="46.20" y2="814.72" stroke="#000" stroke-width="1.3"/>
<line x1="51.50" y1="952.00" x2="51.50" y2="955.80" stroke="#000" stroke-width="1.2"/>
<line x1="70.20" y1="952.00" x2="70.20" y2="955.80" stroke="#000" stroke-width="1.2"/>
<line x1="93.00" y1="952.00" x2="93.00" y2="955.80" stroke="#000" stroke-width="1.2"/>
<line x1="150.00" y1="952.00" x2="150.00" y2="955.80" stroke="#000" stroke-width="1.2"/>
<line x1="204.00" y1="952.00" x2="204.00" y2="955.80" stroke="#000" stroke-width="1.2"/>
<line x1="52.50" y1="952.00" x2="52.50" y2="954.80" stroke="#000" stroke-width="1.2"/>
<line x1="54.50" y1="952.00" x2="54.50" y2="954.80" stroke="#000" stroke-width="1.2"/>
<line x1="56.50" y1="952.00" x2="56.50" y2="954.80" stroke="#000" stroke-width="1.2"/>
<line x1="58.50" y1="952.00" x2="58.50" y2="954.80" stroke="#000" stroke-width="1.2"/>
<line x1="60.50" y1="952.00" x2="60.50" y2="954.80" stroke="#000" stroke-width="1.2"/>
<line x1="62.50" y1="952.00" x2="62.50" y2="954.80" stroke="#000" stroke-width="1.2"/>
<line x1="64.50" y1="952.00" x2="64.50" y2="954.80" stroke="#000" stroke-width="1.2"/>
<line x1="66.50" y1="952.00" x2="66.50" y2="954.80" stroke="#000" stroke-width="1.2"/>
<line x1="68.50" y1="952.00" x2="68.50" y2="954.80" stroke="#000" stroke-width="1.2"/>
<line x1="70.50" y1="952.00" x2="70.50" y2="954.80" stroke="#000" stroke-width="1.2"/>
<line x1="72.50" y1="952.00" x2="72.50" y2="954.80" stroke="#000" stroke-width="1.2"/>
<line x1="74.50" y1="952.00" x2="74.50" y2="954.80" stroke="#000" stroke-width="1.2"/>
<line x1="76.50" y1="952.00" x2="76.50" y2="954.80" stroke="#000" stroke-width="1.2"/>
<line x1="78.50" y1="952.00" x2="78.50" y2="954.80" stroke="#000" stroke-width="1.2"/>
<line x1="80.50" y1="952.00" x2="80.50" y2="954.80" stroke="#000" stroke-width="1.2"/>
<line x1="82.50" y1="952.00" x2="82.50" y2="954.80" stroke="#000" stroke-width="1.2"/>
<line x1="84.50" y1="952.00" x2="84.50" y2="954.80" stroke="#000" stroke-width="1.2"/>
<line x1="86.50" y1="952.00" x2="86.50" y2="954.80" stroke="#000" stroke-width="1.2"/>
<line x1="88.50" y1="952.00" x2="88.50" y2="954.80" stroke="#000" stroke-width="1.2"/>
<line x1="90.50" y1="952.00" x2="90.50" y2="954.80" stroke="#000" stroke-width="1.2"/>
<line x1="92.50" y1="952.00" x2="92.50" y2="954.80" stroke="#000" stroke-width="1.2"/>
<line x1="110.16" y1="952.00" x2="110.16" y2="954.80" stroke="#000" stroke-width="1.2"/>
<line x1="166.26" y1="952.00" x2="166.26" y2="954.80" stroke="#000" stroke-width="1.2"/>
<line x1="120.20" y1="952.00" x2="120.20" y2="954.80" stroke="#000" stroke-width="1.2"/>
<line x1="175.76" y1="952.00" x2="175.76" y2="954.80" stroke="#000" stroke-width="1.2"/>
<line x1="127.32" y1="952.00" x2="127.32" y2="954.80" stroke="#000" stroke-width="1.2"/>
<line x1="182.51" y1="952.00" x2="182.51" y2="954.80" stroke="#000" stroke-width="1.2"/>
<line x1="132.84" y1="952.00" x2="132.84" y2="954.80" stroke="#000" stroke-width="1.2"/>
<line x1="187.74" y1="952.00" x2="187.74" y2="954.80" stroke="#000" stroke-width="1.2"/>
<line x1="137.35" y1="952.00" x2="137.35" y2="954.80" stroke="#000" stroke-width="1.2"/>
<line x1="192.02" y1="952.00" x2="192.02" y2="954.80" stroke="#000" stroke-width="1.2"/>
<line x1="141.17" y1="952.00" x2="141.17" y2="954.80" stroke="#000" stroke-width="1.2"/>
<line x1="195.64" y1="952.00" x2="195.64" y2="954.80" stroke="#000" stroke-width="1.2"/>
<line x1="144.48" y1="952.00" x2="144.48" y2="954.80" stroke="#000" stroke-width="1.2"/>
<line x1="198.77" y1="952.00" x2="198.77" y2="954.80" stroke="#000" stroke-width="1.2"/>
<line x1="147.39" y1="952.00" x2="147.39" y2="954.80" stroke="#000" stroke-width="1.2"/>
<line x1="201.53" y1="952.00" x2="201.53" y2="954.80" stroke="#000" stroke-width="1.2"/>
<text x="44.00" y="968.40" font-size="8.7">-10<tspan font-size="6.2" dy="-4.3">2</tspan></text>
<text x="72.70" y="968.40" font-size="8.7" text-anchor="middle" font-weight="normal" >0</text>
<text x="86.60" y="968.40" font-size="8.7">10<tspan font-size="6.2" dy="-4.3">2</tspan></text>
<text x="143.00" y="968.40" font-size="8.7">10<tspan font-size="6.2" dy="-4.3">3</tspan></text>
<text x="196.70" y="968.40" font-size="8.7">10<tspan font-size="6.2" dy="-4.3">4</tspan></text>
<text x="175.80" y="667.90" font-size="8.8" text-anchor="middle" font-weight="normal" style="stroke-width:0.1px">OP9</text>
<text x="175.80" y="832.30" font-size="8.8" text-anchor="middle" font-weight="normal" style="stroke-width:0.1px">OP9-DL1</text>
<text x="62.30" y="860.30" font-size="8.8" text-anchor="start" font-weight="normal" style="stroke-width:0.1px">Isot.</text>
<line x1="71.30" y1="865.40" x2="85.80" y2="882.70" stroke="#000" stroke-width="1.6"/>
<text x="150.00" y="885.60" font-size="8.8" text-anchor="start" font-weight="normal" style="stroke-width:0.1px">no IgM</text>
<line x1="153.50" y1="890.00" x2="124.00" y2="908.00" stroke="#000" stroke-width="1.6"/>
<text x="164.00" y="913.30" font-size="8.8" text-anchor="start" font-weight="normal" style="stroke-width:0.1px">IgM</text>
<line x1="161.10" y1="916.00" x2="139.70" y2="928.80" stroke="#000" stroke-width="1.6"/>
<text transform="translate(35.4,798) rotate(-90)" font-size="10.8" text-anchor="middle">% of max</text>
<text x="47.60" y="986.30" font-size="10.3" text-anchor="start" font-weight="normal" >BLNK</text>
<line x1="77.50" y1="983.00" x2="138.00" y2="983.00" stroke="#000" stroke-width="1.9"/>
<path d="M146,983 L134.5,978.6 L137.2,983 L134.5,987.4 Z" fill="#000"/>
<text x="286.20" y="660.00" font-size="13.2" text-anchor="start" font-weight="normal" >OP9-DL1</text>
<line x1="286.20" y1="661.90" x2="342.20" y2="661.90" stroke="#000" stroke-width="1.1"/>
<line x1="308.80" y1="692.50" x2="308.80" y2="892.80" stroke="#000" stroke-width="1.8"/>
<line x1="303.80" y1="892.00" x2="308.80" y2="892.00" stroke="#000" stroke-width="1.5"/>
<text x="300.10" y="895.50" font-size="11.3" text-anchor="end" font-weight="normal" >0</text>
<line x1="303.80" y1="872.20" x2="308.80" y2="872.20" stroke="#000" stroke-width="1.5"/>
<text x="300.10" y="875.70" font-size="11.3" text-anchor="end" font-weight="normal" >100</text>
<line x1="303.80" y1="852.40" x2="308.80" y2="852.40" stroke="#000" stroke-width="1.5"/>
<text x="300.10" y="855.90" font-size="11.3" text-anchor="end" font-weight="normal" >200</text>
<line x1="303.80" y1="832.60" x2="308.80" y2="832.60" stroke="#000" stroke-width="1.5"/>
<text x="300.10" y="836.10" font-size="11.3" text-anchor="end" font-weight="normal" >300</text>
<line x1="303.80" y1="812.80" x2="308.80" y2="812.80" stroke="#000" stroke-width="1.5"/>
<text x="300.10" y="816.30" font-size="11.3" text-anchor="end" font-weight="normal" >400</text>
<line x1="303.80" y1="793.00" x2="308.80" y2="793.00" stroke="#000" stroke-width="1.5"/>
<text x="300.10" y="796.50" font-size="11.3" text-anchor="end" font-weight="normal" >500</text>
<line x1="303.80" y1="773.20" x2="308.80" y2="773.20" stroke="#000" stroke-width="1.5"/>
<text x="300.10" y="776.70" font-size="11.3" text-anchor="end" font-weight="normal" >600</text>
<line x1="303.80" y1="753.40" x2="308.80" y2="753.40" stroke="#000" stroke-width="1.5"/>
<text x="300.10" y="756.90" font-size="11.3" text-anchor="end" font-weight="normal" >700</text>
<line x1="303.80" y1="733.60" x2="308.80" y2="733.60" stroke="#000" stroke-width="1.5"/>
<text x="300.10" y="737.10" font-size="11.3" text-anchor="end" font-weight="normal" >800</text>
<line x1="303.80" y1="713.80" x2="308.80" y2="713.80" stroke="#000" stroke-width="1.5"/>
<text x="300.10" y="717.30" font-size="11.3" text-anchor="end" font-weight="normal" >900</text>
<line x1="303.80" y1="694.00" x2="308.80" y2="694.00" stroke="#000" stroke-width="1.5"/>
<text x="300.10" y="697.50" font-size="11.3" text-anchor="end" font-weight="normal" >1000</text>
<line x1="303.80" y1="892.00" x2="481.00" y2="892.00" stroke="#000" stroke-width="1.8"/>
<line x1="331.30" y1="892.00" x2="331.30" y2="896.50" stroke="#000" stroke-width="1.5"/>
<line x1="376.00" y1="892.00" x2="376.00" y2="896.50" stroke="#000" stroke-width="1.5"/>
<line x1="420.50" y1="892.00" x2="420.50" y2="896.50" stroke="#000" stroke-width="1.5"/>
<line x1="465.00" y1="892.00" x2="465.00" y2="896.50" stroke="#000" stroke-width="1.5"/>
<text transform="translate(266.8,791.4) rotate(-90)" font-size="11.5" text-anchor="middle">BLNK MFI</text>
<text x="315.00" y="912.30" font-size="11" text-anchor="end" font-weight="normal" >anti-IgM:</text>
<text x="315.00" y="928.50" font-size="11" text-anchor="end" font-weight="normal" >DAPT:</text>
<text x="315.00" y="944.20" font-size="11" text-anchor="end" font-weight="normal" >R406:</text>
<text x="331.30" y="912.80" font-size="11" text-anchor="middle" font-weight="normal" >-</text>
<text x="376.00" y="912.80" font-size="11" text-anchor="middle" font-weight="normal" >+</text>
<text x="420.50" y="912.80" font-size="11" text-anchor="middle" font-weight="normal" >+</text>
<text x="465.00" y="912.80" font-size="11" text-anchor="middle" font-weight="normal" >+</text>
<text x="331.30" y="928.80" font-size="11" text-anchor="middle" font-weight="normal" >-</text>
<text x="376.00" y="928.80" font-size="11" text-anchor="middle" font-weight="normal" >-</text>
<text x="420.50" y="928.80" font-size="11" text-anchor="middle" font-weight="normal" >+</text>
<text x="465.00" y="928.80" font-size="11" text-anchor="middle" font-weight="normal" >-</text>
<text x="331.30" y="944.80" font-size="11" text-anchor="middle" font-weight="normal" >-</text>
<text x="376.00" y="944.80" font-size="11" text-anchor="middle" font-weight="normal" >-</text>
<text x="420.50" y="944.80" font-size="11" text-anchor="middle" font-weight="normal" >-</text>
<text x="465.00" y="944.80" font-size="11" text-anchor="middle" font-weight="normal" >+</text>
<line x1="330.00" y1="687.00" x2="372.50" y2="687.00" stroke="#000" stroke-width="1.5"/>
<text x="351.40" y="685.30" font-size="11" text-anchor="middle" font-weight="normal" >**</text>
<line x1="379.50" y1="687.00" x2="420.30" y2="687.00" stroke="#000" stroke-width="1.5"/>
<text x="399.60" y="685.30" font-size="11" text-anchor="middle" font-weight="normal" >**</text>
<line x1="380.20" y1="671.20" x2="465.60" y2="671.20" stroke="#000" stroke-width="1.5"/>
<text x="422.60" y="669.50" font-size="11" text-anchor="middle" font-weight="normal" >**</text>
<rect x="326.75" y="742.25" width="9.70" height="9.70" fill="#b80b3d" stroke="#8e0b2f" stroke-width="0.9"/>
<rect x="315.35" y="751.35" width="9.70" height="9.70" fill="#b80b3d" stroke="#8e0b2f" stroke-width="0.9"/>
<rect x="326.95" y="765.95" width="9.70" height="9.70" fill="#b80b3d" stroke="#8e0b2f" stroke-width="0.9"/>
<rect x="338.25" y="763.85" width="9.70" height="9.70" fill="#b80b3d" stroke="#8e0b2f" stroke-width="0.9"/>
<line x1="331.50" y1="747.00" x2="331.50" y2="770.80" stroke="#000" stroke-width="1.5"/>
<line x1="322.30" y1="747.00" x2="340.80" y2="747.00" stroke="#000" stroke-width="1.6"/>
<line x1="322.30" y1="770.80" x2="340.80" y2="770.80" stroke="#000" stroke-width="1.6"/>
<line x1="313.00" y1="761.00" x2="350.30" y2="761.00" stroke="#000" stroke-width="1.6"/>
<rect x="363.55" y="699.45" width="9.70" height="9.70" fill="#b80b3d" stroke="#8e0b2f" stroke-width="0.9"/>
<rect x="378.55" y="706.45" width="9.70" height="9.70" fill="#b80b3d" stroke="#8e0b2f" stroke-width="0.9"/>
<rect x="363.55" y="726.45" width="9.70" height="9.70" fill="#b80b3d" stroke="#8e0b2f" stroke-width="0.9"/>
<rect x="378.35" y="724.55" width="9.70" height="9.70" fill="#b80b3d" stroke="#8e0b2f" stroke-width="0.9"/>
<line x1="376.20" y1="704.20" x2="376.20" y2="731.20" stroke="#000" stroke-width="1.5"/>
<line x1="368.50" y1="704.20" x2="385.40" y2="704.20" stroke="#000" stroke-width="1.6"/>
<line x1="368.50" y1="731.20" x2="385.40" y2="731.20" stroke="#000" stroke-width="1.6"/>
<line x1="357.00" y1="718.90" x2="390.00" y2="718.90" stroke="#000" stroke-width="1.6"/>
<rect x="408.65" y="737.75" width="9.70" height="9.70" fill="#b80b3d" stroke="#8e0b2f" stroke-width="0.9"/>
<rect x="423.15" y="736.95" width="9.70" height="9.70" fill="#b80b3d" stroke="#8e0b2f" stroke-width="0.9"/>
<rect x="411.15" y="741.45" width="9.70" height="9.70" fill="#b80b3d" stroke="#8e0b2f" stroke-width="0.9"/>
<rect x="420.65" y="741.45" width="9.70" height="9.70" fill="#b80b3d" stroke="#8e0b2f" stroke-width="0.9"/>
<rect x="418.6" y="736" width="3.6" height="2.6" fill="#fff"/>
<line x1="402.10" y1="744.30" x2="440.00" y2="744.30" stroke="#000" stroke-width="1.6"/>
<line x1="420.50" y1="741.50" x2="420.50" y2="747.00" stroke="#000" stroke-width="1.2"/>
<rect x="467.75" y="766.65" width="9.70" height="9.70" fill="#b80b3d" stroke="#8e0b2f" stroke-width="0.9"/>
<line x1="465.60" y1="771.50" x2="465.60" y2="786.00" stroke="#000" stroke-width="1.5"/>
<line x1="456.10" y1="771.50" x2="467.10" y2="771.50" stroke="#000" stroke-width="1.6"/>
<rect x="453.45" y="775.75" width="9.70" height="9.70" fill="#b80b3d" stroke="#8e0b2f" stroke-width="0.9"/>
<rect x="465.15" y="776.75" width="9.70" height="9.70" fill="#b80b3d" stroke="#8e0b2f" stroke-width="0.9"/>
<rect x="455.65" y="779.35" width="9.70" height="9.70" fill="#b80b3d" stroke="#8e0b2f" stroke-width="0.9"/>
<line x1="446.30" y1="779.20" x2="484.40" y2="779.20" stroke="#000" stroke-width="1.6"/>
<line x1="465.60" y1="776.00" x2="465.60" y2="786.00" stroke="#000" stroke-width="1.2"/>
</svg>
</body></html>
